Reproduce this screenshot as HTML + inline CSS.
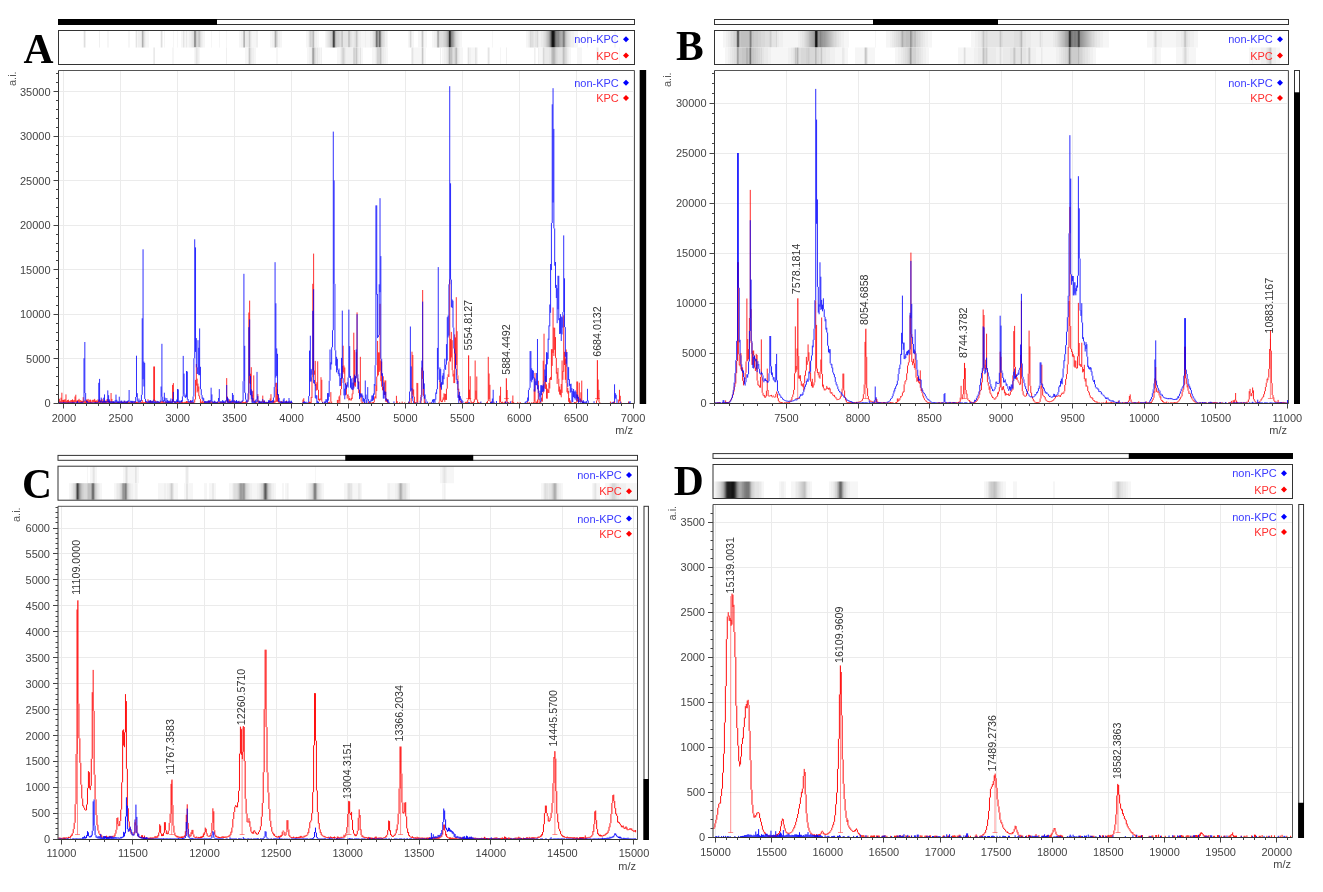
<!DOCTYPE html>
<html lang="en"><head><meta charset="utf-8"><title>MALDI-TOF spectra KPC vs non-KPC</title>
<style>
html,body{margin:0;padding:0;background:#fff;}
body{width:1323px;height:892px;overflow:hidden;}
svg{display:block;font-family:"Liberation Sans", Arial, sans-serif;font-size:11px;fill:#444;}
</style></head><body>
<svg width="1323" height="892" viewBox="0 0 1323 892">
<rect width="1323" height="892" fill="#fff"/>
<g><rect x="58.5" y="19.5" width="576" height="5" fill="#fff" stroke="#333" stroke-width="1"/>
<rect x="58" y="19" width="159" height="6" fill="#000"/>
<rect x="640.3" y="70.5" width="5.3" height="333" fill="#fff" stroke="#333" stroke-width="1"/>
<rect x="639.8" y="70" width="6.3" height="334" fill="#000"/>
<path d="M63.5 70.5V403.5M120.5 70.5V403.5M177.5 70.5V403.5M234.5 70.5V403.5M291.5 70.5V403.5M348.5 70.5V403.5M405.5 70.5V403.5M462.5 70.5V403.5M519.5 70.5V403.5M576.5 70.5V403.5M633.5 70.5V403.5M58.5 358.5H634.5M58.5 314.5H634.5M58.5 269.5H634.5M58.5 225.5H634.5M58.5 180.5H634.5M58.5 136.5H634.5M58.5 91.5H634.5" stroke="#ebebeb" stroke-width="1" fill="none"/>
<path d="M59.41 398.8V402.8M60.23 401V403M61.05 397.7V403.2M61.87 392.7V403.1M62.69 399.9V403.2M63.51 399.9V403.2M64.33 399.6V403.1M65.15 399.3V403M65.97 394.4V403.1M66.79 400.8V403.2M67.61 400V403.2M68.43 399.7V403.2M69.25 401.2V403.2M70.07 400.7V403.1M70.89 400.2V403.1M71.71 400V403.1M72.53 399.3V403.2M73.35 400.4V403.2M74.17 400V403.1M74.99 396.5V402.7M75.81 394.7V402.1M76.63 400.6V403.1M77.45 400.3V403.2M78.27 399.8V402.6M79.09 398.8V403.2M79.91 400.3V402.9M80.73 400.2V403.1M81.55 400.9V403.2M82.37 400.9V403M83.19 397.2V402.7M84.01 400.6V403M84.83 400.7V403.2M85.65 400.6V403M86.47 399.6V403.1M87.29 399.6V402.9M88.11 398.9V403.1M88.93 400.6V402.9M89.75 399.7V403M90.57 399.7V403.1M91.39 401.6V403.2M92.21 400V402.6M93.03 399.7V403M93.85 399.9V402.3M94.67 398.9V402.8M95.49 400.7V403.1M96.31 400.3V403M97.13 400.9V403M97.95 399.4V403M98.77 400V403.2M99.59 399.3V403.2M100.41 400.4V403.2M101.23 400.2V403.1M102.05 398.8V403.2M102.87 400.6V403.1M103.69 400.6V403.1M104.51 401.1V403.1M105.33 400.6V403.2M106.15 400.7V402.9M106.97 399.3V403M107.79 399V402.9M108.61 400.7V403.2M109.43 401V402.9M110.25 401.7V402.8M111.07 393V402.8M111.89 398.9V402.9M112.71 401.7V402.9M113.53 401.5V403.1M114.35 402.2V403.1M115.17 402.3V403.1M115.99 401.9V403.2M116.81 402.1V403.2M117.63 401.8V403.2M118.45 402V403.2M119.27 401.7V403.2M120.09 402.3V403.1M120.91 401.4V403.2M121.73 401.4V403.1M122.55 402.3V403.2M123.37 402.1V403.1M124.19 401.3V403.2M125.01 401.3V403.1M125.83 401.8V403M126.65 401.5V403.1M127.47 402V403.2M128.29 401.7V403M129.11 402.1V403.2M129.93 402.1V403.2M130.75 402.5V403.2M131.57 402V403.1M132.39 402V403.2M133.21 402.5V403.2M134.03 401.4V402.9M134.85 401.5V403M135.67 401.5V403M136.49 402V403.2M137.31 401.8V403.2M138.13 402.1V403.1M138.95 402.3V403.1M139.77 402.5V403.2M140.59 402.2V403.2M141.41 402.1V403.2M142.23 400V403.2M143.05 401.8V403.2M143.87 402.2V403.2M144.69 402.1V403.2M145.51 401.2V403.2M146.33 402.1V403.2M147.15 402.4V403.2M147.97 399.3V403.2M148.79 401.5V403.1M149.61 401.6V403.2M150.43 400.6V403.1M151.25 401.8V403.1M152.07 401.2V402.9M152.89 400.7V402.9M153.71 366.5V400.7M154.53 366.5V401.4M155.35 400.4V402.6M156.17 401.9V403M156.99 401.1V403M157.81 402.2V403.1M158.63 402.2V403.1M159.45 402V403.2M160.27 401.6V403.1M161.09 401.6V402.9M161.91 401V403.1M162.73 401V403.2M163.55 402.2V403.2M164.37 402.2V403.2M165.19 401.5V403.1M166.01 401.8V403.1M166.83 401.8V403.2M167.65 401.9V403M168.47 402V403.1M169.29 402.1V403.1M170.11 400.3V403M170.93 402.2V403.1M171.75 401.5V402.8M172.57 384.9V402.3M173.39 383.1V402.2M174.21 401.3V402.7M175.03 401.8V402.8M175.85 401.8V402.9M176.67 402.3V403.1M177.49 401.4V403.2M178.31 402.2V403.1M179.13 402.3V403.1M179.95 402V403M180.77 402.5V403.2M181.59 401.1V403.1M182.41 401.9V403.1M183.23 402.3V403.2M184.05 402V402.8M184.87 401.8V403M185.69 401.8V403.2M186.51 401.1V403.2M187.33 401.3V403.1M188.15 401.6V403.2M188.97 402.3V403.2M189.79 402V403M190.61 400V403M191.43 402.1V403.2M192.25 401.9V403.1M193.07 402.1V403.2M193.89 402.1V403.1M194.71 399.3V402.5M195.53 379.9V399.5M196.35 364V385.6M197.17 378.7V392.5M197.99 383.6V391.3M198.81 386.5V396.2M199.63 395.6V398.9M200.45 398.9V403.2M201.27 402V403.2M202.09 400.6V403.2M202.91 400.6V403M203.73 402.1V403.2M204.55 401.3V403.2M205.37 402.4V403.2M206.19 402.3V403.2M207.01 401.9V403M207.83 401.3V402.9M208.65 400.5V403.1M209.47 401.4V403.2M210.29 401.6V403.1M211.11 401.4V402.9M211.93 401.6V402.9M212.75 402V403.2M213.57 402.4V403.2M214.39 401.5V403.2M215.21 402.3V403.1M216.03 402.1V403.2M216.85 402.1V403.1M217.67 401.4V403M218.49 402.4V403.2M219.31 402.1V403.1M220.13 401.6V403.1M220.95 402.1V403.1M221.77 402.1V403.2M222.59 402.2V403.2M223.41 402.1V403.2M224.23 402.1V403.1M225.05 402.1V403.1M225.87 401.3V402.7M226.69 378.1V401.3M227.51 396.6V402.7M228.33 401.5V402.9M229.15 399.5V402.9M229.97 399.5V403.2M230.79 401.2V403.1M231.61 402.3V403.2M232.43 401.5V403M233.25 401.6V403M234.07 400.1V403M234.89 402.5V403.2M235.71 402.1V403.2M236.53 401.6V403.2M237.35 402.3V403.1M238.17 401.9V403.2M238.99 401.1V403.1M239.81 402V403M240.63 402V403.2M241.45 402.3V403.2M242.27 401.1V403.1M243.09 401.6V403.1M243.91 402V403.1M244.73 402V403M245.55 401.6V403M246.37 401.5V402.8M247.19 401.6V402.8M248.01 399.7V401.6M248.83 312.5V399.7M249.65 300.6V383.4M250.47 373.7V384M251.29 367.2V396.3M252.11 395V402.2M252.93 390.7V400.7M253.75 375.4V401.4M254.57 400.7V402.4M255.39 401.9V402.9M256.21 402V402.9M257.03 401.7V402.8M257.85 394.1V401.7M258.67 400.4V402.7M259.49 401.6V403M260.31 401.8V403M261.13 401.6V402.9M261.95 401.9V403M262.77 395.6V402.1M263.59 400.5V402.8M264.41 400.9V403.1M265.23 402.4V403.2M266.05 401.8V403M266.87 402.2V403.2M267.69 402V402.9M268.51 402V403.1M269.33 401.2V403M270.15 398.4V402.7M270.97 394.2V401.9M271.79 401V402.8M272.61 402.3V403.1M273.43 401.1V403M274.25 400.5V402.9M275.07 401.3V402.7M275.89 382.8V402.1M276.71 382.8V401.7M277.53 389.2V401.6M278.35 394.7V402.7M279.17 401.3V402.7M279.99 401.7V403M280.81 402.3V403.1M281.63 401V403.1M282.45 401.7V403.2M283.27 401.8V403.2M284.09 402.4V403.2M284.91 402.1V403.2M285.73 401.2V403.1M286.55 400.5V403.1M287.37 402.4V403.2M288.19 402V403.2M289.01 401.5V403M289.83 402.1V403M290.65 402.1V403.2M291.47 402.1V403.1M292.29 402.6V403.2M302.95 399.6V403.2M303.77 398.2V403.2M308.69 401.9V403.2M309.51 401.7V403.2M310.33 401.9V403.2M311.15 396.9V403.2M311.97 377.4V398M312.79 283.8V377.4M313.61 253.6V370.5M314.43 370.5V374.7M315.25 360.9V385.8M316.07 384.1V390.7M316.89 382.2V390.2M317.71 361.3V389.8M318.53 389.8V400.1M319.35 398.8V401.3M320.17 398.6V400.3M320.99 377.2V399.7M321.81 379.8V401.6M322.63 401.6V403.2M325.09 402.1V403.2M328.37 402.2V403.2M329.19 402.1V403.2M330.01 401.6V403.2M330.83 392.1V401.6M331.65 401.5V403.2M337.39 399.9V403.2M338.21 400.2V403.2M339.03 396.5V401.1M339.85 395.4V403.2M340.67 389.1V395.4M341.49 377.8V389.1M342.31 366V378.6M343.13 345.7V372M343.95 365.5V373.7M344.77 367.5V382.7M345.59 382.7V385.1M346.41 384.6V394.7M347.23 394.7V398.6M348.05 394.4V396M348.87 396V400.4M349.69 398V400.2M350.51 399.5V400.3M351.33 397.8V400.5M352.15 393.6V399M352.97 387.4V394.2M353.79 332.7V387.4M354.61 350V385.6M355.43 376.2V386.7M356.25 352.2V376.2M357.07 312.4V378.2M357.89 378.2V382.4M358.71 381.5V393.1M359.53 392.8V395.8M360.35 356.8V394.6M361.17 394.6V401.6M361.99 401.5V403.2M362.81 402.2V403.2M364.45 401.9V403.2M368.55 401.5V403.2M370.19 402.1V403.2M371.01 402.2V403.2M372.65 402.1V403.2M373.47 402V403.2M374.29 397.4V402.3M375.11 396.1V398.1M375.93 385.3V398.6M376.75 376.6V391.1M377.57 340.9V376.6M378.39 352.4V375.3M379.21 352.4V372M380.03 303.8V370.6M380.85 360.6V381.2M381.67 361.6V386.8M382.49 386.8V390.2M383.31 376.3V390.8M384.13 390.8V394.9M384.95 380.4V394.9M385.77 380.5V401.8M386.59 399.6V401.8M387.41 399.1V403.2M396.43 395.8V403.2M397.25 401.2V403.2M399.71 402.1V403.2M402.17 401.6V403.2M404.63 402.3V403.2M408.73 401.7V403.2M409.55 401.7V403.2M411.19 398V403.2M412.01 351.7V398M412.83 355V394.6M413.65 389.4V396.7M414.47 396.7V403.2M415.29 402V403.2M416.11 401.9V403.2M416.93 382.9V401.9M417.75 383.1V403.2M421.03 394.9V403.2M421.85 367.5V394.9M422.67 290V378.9M423.49 378.9V395.9M424.31 395.9V403.2M425.13 401.7V403.2M430.05 402.1V403.2M439.07 401.8V403.2M439.89 380.5V401.8M440.71 383.6V400.8M441.53 400.8V402.1M442.35 399.6V402.1M443.17 397.4V400.2M443.99 393.3V399.6M444.81 393.9V401.9M445.63 393.9V399.9M446.45 388.7V399.9M447.27 377.1V388.7M448.09 374.3V377.1M448.91 361.5V377M449.73 279.5V361.5M450.55 338.9V361.5M451.37 331.9V357.5M452.19 340.2V370.2M453.01 370.2V376.5M453.83 373.8V383.1M454.65 334.4V383.1M455.47 337.4V367.8M456.29 297.2V365M457.11 331.2V375.4M457.93 375.4V390M458.75 388.7V397.9M459.57 396.1V400.9M460.39 400.9V402.3M461.21 401.2V403.2M462.03 402.2V403.2M465.31 401.9V403.2M466.13 401.8V403.2M466.95 401.7V403.2M467.77 399.7V403.2M468.59 355.4V399.7M469.41 389.6V398.9M470.23 376.2V400.7M471.05 400.7V403.2M471.87 402.2V403.2M472.69 402.3V403.2M473.51 401.7V403.2M474.33 399.2V402.3M475.15 360.5V399.2M475.97 390.6V400M476.79 376.5V399.5M477.61 399.5V403.2M478.43 402.1V403.2M480.07 402.2V403.2M486.63 402.1V403.2M487.45 401V403.2M488.27 356.8V401M489.09 373.5V399M489.91 384.8V401.4M490.73 401.4V403.2M493.19 401.5V403.2M499.75 395.7V403.2M500.57 386.8V402M501.39 402V403.2M502.21 401.6V403.2M503.03 402.2V403.2M504.67 401.7V403.2M505.49 401.5V403.2M506.31 378.2V401.5M507.13 390V403.2M507.95 402V403.2M508.77 402.1V403.2M512.05 400.8V403.2M512.87 395.5V403.2M513.69 402V403.2M517.79 401.9V403.2M520.25 402V403.2M527.63 401.3V403.2M529.27 402.1V403.2M531.73 402.2V403.2M533.37 402.1V403.2M534.19 389.4V403.2M535.01 372.9V401.2M535.83 401.2V403.2M536.65 401.7V403.2M537.47 399.5V403.2M538.29 380.8V399.5M539.11 399.1V403.2M539.93 402.2V403.2M540.75 401.2V403.2M541.57 397.6V401.2M542.39 393.4V401.7M543.21 360.7V393.4M544.03 333.7V381.7M544.85 381.7V388.5M545.67 375.9V389M546.49 384.3V398.5M547.31 388.6V398.7M548.13 389.5V393M548.95 382.8V393M549.77 378.1V388.5M550.59 376.9V379.9M551.41 349.2V379.9M552.23 349.2V365.9M553.05 307.5V352.9M553.87 327.5V356M554.69 327.8V349.8M555.51 337.1V357.9M556.33 357.9V373.7M557.15 372.2V383.9M557.97 367.9V378.7M558.79 378.7V391.7M559.61 386.5V394.5M560.43 389.5V395.2M561.25 384V397.3M562.07 360.5V392.9M562.89 370.8V379.8M563.71 315.3V371.8M564.53 351.8V365M565.35 358.5V379.8M566.17 349.5V383.1M566.99 383.1V392.2M567.81 388V393.6M568.63 390.9V401.8M569.45 398.1V403.2M570.27 400.4V403.2M571.09 402V403.2M574.37 402V403.2M575.19 402.2V403.2M576.01 402V403.2M576.83 381.5V402.2M577.65 381.5V401.7M578.47 399.9V402M579.29 382.7V399.9M580.11 399V402.2M580.93 392.3V402M581.75 380.6V401.6M582.57 401.6V403.2M583.39 401.8V403.2M596.51 400.5V403.2M597.33 360.1V400.5M598.15 379.5V399.1M598.97 389.9V402.2M599.79 402V403.2M610.45 401.6V403.2M612.91 401.9V403.2M613.73 401.5V403.2M614.55 401.5V403.2M618.65 399.6V403.2M619.47 389.8V401.2M620.29 395.8V401.7M621.11 401.7V403.2M628.49 401.5V403.2" stroke="#ff0000" stroke-width="0.82" stroke-opacity="1" fill="none"/>
<path d="M59.41 402.2V403.2M60.23 402.5V403.2M61.05 402.4V403.2M61.87 402.5V403.2M62.69 402.6V403.2M63.51 402.2V403M64.33 402.5V403.2M65.15 402.3V403.2M65.97 402.6V403.2M66.79 402.6V403.2M67.61 402.6V403.2M68.43 402.5V403.2M69.25 402.6V403.2M70.07 402.4V403.2M70.89 402.4V403.2M71.71 402.4V403.2M72.53 402.4V403.2M73.35 402.3V403.1M74.17 402.3V403.2M74.99 402.5V403.2M75.81 402.5V403.2M76.63 402.4V403.2M77.45 401V403.2M78.27 402.4V403.2M79.09 402.6V403.2M79.91 402.3V403.1M80.73 402.3V403.2M81.55 402.3V403.1M82.37 402.2V403M83.19 401.3V402.6M84.01 358.3V401.3M84.83 342V393M85.65 393V400.8M86.47 400.8V402.3M87.29 401.1V403M88.11 402.3V403.1M88.93 402.5V403.2M89.75 402.4V403.2M90.57 402.4V403.2M91.39 402.6V403.2M92.21 402.5V403.2M93.03 402.5V403.2M93.85 402.5V403.2M94.67 402.3V403.2M95.49 402.3V403.1M96.31 402.4V403.2M97.13 402.3V403.1M97.95 402V402.8M98.77 382.8V402.4M99.59 378.9V401.6M100.41 400.9V402.7M101.23 397.6V402.1M102.05 401.4V403M102.87 401.2V402.9M103.69 397.7V402.8M104.51 394.4V402.4M105.33 401.2V402.9M106.15 401V402.6M106.97 401.6V402.7M107.79 390.4V402M108.61 395.2V402.6M109.43 399.4V403M110.25 401.3V403M111.07 401.3V402.9M111.89 401.3V403.1M112.71 401.3V403.1M113.53 401.4V403.1M114.35 401.4V403.1M115.17 400.1V402.9M115.99 394.6V402.4M116.81 399.8V402.8M117.63 401.3V403.1M118.45 401.3V403.2M119.27 396.7V403.2M120.09 401.6V403.2M120.91 400.7V403.1M121.73 400.6V403M122.55 401.7V403M123.37 401.6V403.2M124.19 400.5V402.7M125.01 400.8V403.2M125.83 401.9V403.1M126.65 401.3V403M127.47 400.9V402.9M128.29 400.3V402.2M129.11 390V401.2M129.93 400.8V402.6M130.75 400.8V402.7M131.57 400.9V402.7M132.39 400.9V403M133.21 400.9V402.7M134.03 401.7V402.9M134.85 401.1V402.9M135.67 397V402.2M136.49 355.7V397M137.31 393.2V400.8M138.13 400.5V402.3M138.95 398.5V402.6M139.77 400.6V402.4M140.59 400.2V402.3M141.41 394.8V400.9M142.23 318.3V394.8M143.05 249.3V379.3M143.87 361.6V386.5M144.69 362.9V398.9M145.51 398.9V401.9M146.33 400.9V402.6M147.15 401.6V402.8M147.97 401.6V402.9M148.79 400.6V402.7M149.61 400.6V402.9M150.43 400.2V402.8M151.25 400.8V402.8M152.07 400.8V403M152.89 401.2V403M153.71 399.7V403.2M154.53 401.5V403M155.35 401.4V403.1M156.17 401.8V402.8M156.99 400.8V402.9M157.81 401.1V402.9M158.63 401.3V402.9M159.45 401.9V402.8M160.27 400.5V402.4M161.09 386.5V401.6M161.91 343.8V396.7M162.73 396.7V401.5M163.55 400.3V402.3M164.37 392.7V401.1M165.19 397.7V402.7M166.01 401.3V402.6M166.83 398V403M167.65 400V403M168.47 400.9V402.8M169.29 400.9V403M170.11 401.3V403M170.93 398.5V403.1M171.75 401.3V402.9M172.57 399.2V402.9M173.39 391.9V401.6M174.21 401.1V402.9M175.03 401.2V402.9M175.85 401.2V403M176.67 399.5V402.3M177.49 389V402M178.31 389.4V402.2M179.13 400.9V402.8M179.95 400.5V402.7M180.77 401.1V402.6M181.59 400.1V402.2M182.41 396.4V401.6M183.23 355.9V396.4M184.05 373.6V393.8M184.87 393.6V397.2M185.69 395.3V398M186.51 371V396.9M187.33 371.5V399.6M188.15 399V402.1M188.97 401.2V402.7M189.79 401.1V402.4M190.61 400.6V402.6M191.43 400.8V402.6M192.25 400.1V402.2M193.07 396.5V403.2M193.89 358.3V396.5M194.71 239.3V358.3M195.53 247.4V351.9M196.35 338.1V367.4M197.17 367.4V374M197.99 340.2V373.9M198.81 347.8V375.2M199.63 328.4V375.2M200.45 366.8V389.2M201.27 389.2V395.2M202.09 395.1V398.8M202.91 397.4V400.4M203.73 398.2V401.3M204.55 401.2V402.9M205.37 401V403M206.19 401V403M207.01 401.4V403.1M207.83 400.8V402.9M208.65 400.5V402.9M209.47 400.5V402.7M210.29 400.1V402.7M211.11 387.7V401.2M211.93 394.4V402.5M212.75 401.2V402.8M213.57 401.8V403M214.39 400.7V402.8M215.21 401.4V403M216.03 401.7V403M216.85 402V403.1M217.67 401.6V403M218.49 398V401.7M219.31 389.1V401.7M220.13 401.1V402.7M220.95 401.7V403M221.77 401.1V402.7M222.59 400.1V402.8M223.41 400.8V403M224.23 401.5V402.9M225.05 400.8V402.7M225.87 400.1V402.8M226.69 385V400.7M227.51 397.3V402.7M228.33 398.5V402.9M229.15 401.6V403.1M229.97 401V403M230.79 401.2V402.9M231.61 400.5V402.7M232.43 393V402.3M233.25 394.9V402.5M234.07 400.3V402.9M234.89 400.9V402.8M235.71 400.9V403.1M236.53 400V403.1M237.35 401.3V403.1M238.17 401.1V403M238.99 400.7V402.9M239.81 402.1V402.9M240.63 401.5V402.8M241.45 401.4V402.6M242.27 400.3V401.9M243.09 381.2V401M243.91 273.8V381.2M244.73 345.8V392.8M245.55 392.7V399.6M246.37 399.6V402.5M247.19 400.7V402.5M248.01 393.4V401.6M248.83 327.2V393.4M249.65 319.4V375.9M250.47 375.9V395.1M251.29 389.4V399.3M252.11 391.3V403.2M252.93 398V403.2M253.75 400.9V403.2M254.57 401.5V402.9M255.39 400.2V402.8M256.21 399V402.2M257.03 371.9V399M257.85 396.1V402.2M258.67 401.8V402.9M259.49 400.8V403.1M260.31 401.5V403M261.13 400.9V403.1M261.95 401.8V403.1M262.77 399.1V402.9M263.59 401.7V403.1M264.41 400.4V403M265.23 402.1V403.1M266.05 401.8V403.1M266.87 402.2V403.1M267.69 401.9V402.9M268.51 400.3V403M269.33 400.1V402.8M270.15 401V403.1M270.97 400.8V402.9M271.79 401V402.7M272.61 400.1V402.6M273.43 397.5V402.3M274.25 386.9V397.5M275.07 262.2V386.9M275.89 303.3V377.6M276.71 348.4V375.9M277.53 353.8V395M278.35 394V401.7M279.17 397.8V402M279.99 401.6V402.9M280.81 400.9V403M281.63 401.9V403.1M282.45 401.7V403.1M283.27 399.5V403.1M284.09 398.1V403.1M284.91 401.1V402.9M285.73 401.6V403M286.55 401V402.9M287.37 401.6V403.1M288.19 401.1V403.1M289.01 398V403M289.83 400.6V402.8M290.65 401.4V403.2M291.47 400.7V403M292.29 402.6V403.2M302.95 402.2V403.2M303.77 401.6V403.2M304.59 401.3V403.2M305.41 402.1V403.2M306.23 401.7V403.2M307.87 402.1V403.2M308.69 396.1V402.1M309.51 350.6V396.1M310.33 335.7V381.5M311.15 368.9V381.6M311.97 370.3V374.7M312.79 310.8V370.3M313.61 289.2V383.2M314.43 380V383.9M315.25 383.9V397.9M316.07 395.1V398.9M316.89 395.4V403.2M317.71 401V403.2M318.53 401.8V403.2M322.63 402.2V403.2M324.27 401.8V403.2M325.09 400.9V403.2M325.91 399.2V403.2M326.73 399.4V402.1M327.55 393.1V403.2M328.37 393.1V400.6M329.19 380.8V396.8M330.01 349.5V380.8M330.83 362.3V369.7M331.65 347.3V364.4M332.47 330.2V347.3M333.29 131.6V330.2M334.11 180.4V283.9M334.93 283.9V350.3M335.75 350.3V365.7M336.57 356.8V372.4M337.39 358.8V370.1M338.21 370.1V374.1M339.03 368.5V376.2M339.85 373.2V386.1M340.67 378.1V385.9M341.49 357.9V378.8M342.31 310.6V378.2M343.13 378.2V383.1M343.95 383.1V395.4M344.77 388.7V399.3M345.59 383.5V395.3M346.41 385.3V389.2M347.23 382.2V386.6M348.05 377.5V387.6M348.87 309.6V377.5M349.69 346.1V377.9M350.51 375.9V387.7M351.33 378.5V389.2M352.15 382.6V389.8M352.97 377.7V390.1M353.79 382.5V388.6M354.61 374.6V382.5M355.43 376.2V382.4M356.25 349.4V378.4M357.07 314.2V374.3M357.89 374.3V389M358.71 381.6V389.6M359.53 389.6V399.1M360.35 393.4V397.6M361.17 393.5V396.7M361.99 393.5V397.6M362.81 395.4V401.7M363.63 398V401.7M364.45 399V403.2M365.27 380.5V399M366.09 394.6V403.2M366.91 399.8V403.2M367.73 387.1V399.8M368.55 399.2V401.2M369.37 401.1V403.2M370.19 401V402.3M371.01 399.5V401.5M371.83 395.5V401.2M372.65 395.4V400.9M373.47 393.5V399.8M374.29 384V394.7M375.11 365.2V385.7M375.93 205.4V365.2M376.75 205.4V294.6M377.57 294V338.1M378.39 335.1V337.1M379.21 284.3V335.1M380.03 198.2V292.2M380.85 256.1V358.8M381.67 358.8V375.8M382.49 373.2V386.6M383.31 386.6V398.6M384.13 382.4V398.6M384.95 391.5V394.9M385.77 391.8V400.6M386.59 398.3V400.6M387.41 400V401.9M388.23 399.4V403.2M389.05 401.8V403.2M393.97 401.4V403.2M408.73 401.6V403.2M409.55 391.5V401.7M410.37 326.5V391.5M411.19 366.4V390.5M412.01 388.3V398.5M412.83 396.3V401.1M413.65 401.1V403.2M416.93 402.2V403.2M420.21 400.7V403.2M421.03 397V400.7M421.85 360.6V397M422.67 301.6V370.7M423.49 370.7V389M424.31 383.4V398.6M425.13 394.5V399.3M425.95 399.3V403.2M427.59 401.6V403.2M431.69 401.8V403.2M432.51 399.7V401.8M433.33 399.1V403.2M434.15 399.1V401.7M434.97 398.9V403.2M435.79 392.5V399.6M436.61 389.2V393.9M437.43 347.9V389.2M438.25 267.1V369.4M439.07 369.4V379.9M439.89 367.4V381.9M440.71 369.1V387.4M441.53 382.2V389.7M442.35 375.6V384.7M443.17 373.1V384.5M443.99 369.2V379.2M444.81 358.7V369.2M445.63 364.7V369.9M446.45 344.1V364.7M447.27 317.2V360.5M448.09 315.5V337.5M448.91 284.3V335.6M449.73 86.2V284.3M450.55 183.3V279.6M451.37 279.6V307.1M452.19 299.5V308M453.01 300.7V327.6M453.83 327.6V348.5M454.65 348.5V353.5M455.47 353.5V368.9M456.29 368.9V379.7M457.11 379V384.1M457.93 381V397.8M458.75 394.9V403.2M459.57 391.8V400.2M460.39 396.2V400.4M461.21 398.6V403.2M462.03 400V401.4M462.85 401V403.2M468.59 402.2V403.2M469.41 402.2V403.2M480.89 401.5V403.2M490.73 402V403.2M491.55 401.5V403.2M492.37 398.5V403.2M493.19 389.8V401.8M494.01 401.8V403.2M496.47 401V403.2M505.49 401.5V403.2M507.13 401.7V403.2M510.41 401.3V403.2M525.17 401.9V403.2M525.99 401.3V403.2M526.81 400.8V401.8M527.63 397.5V401.7M528.45 389.9V400.8M529.27 387.8V389.9M530.09 351.1V387.8M530.91 351.1V380.9M531.73 368.3V382.3M532.55 370.1V379.8M533.37 370.7V378.4M534.19 377.5V391.5M535.01 378.7V391.5M535.83 381.3V385.1M536.65 373V385.3M537.47 339V389.3M538.29 385.2V393M539.11 393V399.7M539.93 390.7V396.7M540.75 385.2V402.2M541.57 385.2V395.1M542.39 385.7V392M543.21 384.5V391.4M544.03 381.3V391.6M544.85 369.5V381.3M545.67 364.3V382M546.49 352.2V382M547.31 352.6V364.4M548.13 338.6V359M548.95 325.4V339.9M549.77 304.5V326.4M550.59 264V312.8M551.41 223V270.1M552.23 104.3V223M553.05 88.2V202.5M553.87 128.9V228.4M554.69 228.4V265.7M555.51 262V287.9M556.33 284.9V298M557.15 288.2V323.2M557.97 275.8V309.3M558.79 275.8V320.2M559.61 318.1V334M560.43 314.1V333.7M561.25 316.5V341M562.07 317.3V334.4M562.89 312V327.6M563.71 235.4V312M564.53 278.3V327.1M565.35 327.1V356.8M566.17 352.2V363.8M566.99 352V366.7M567.81 366.7V386.8M568.63 367.2V380M569.45 379.3V385.8M570.27 384V392.7M571.09 383.7V392.1M571.91 388.1V402.2M572.73 391.1V402.2M573.55 389V397.1M574.37 391.5V398.2M575.19 390.4V399.7M576.01 391.8V398.2M576.83 394.3V401.1M577.65 394.8V398.7M578.47 396.8V403.2M579.29 400.5V402.1M580.11 398.3V401M580.93 400.7V403.2M581.75 400.3V401.6M582.57 401.2V403.2M583.39 400.2V403.2M584.21 401.6V403.2M585.03 401.7V403.2M585.85 401.6V403.2M586.67 401V403.2M587.49 388.8V401.1M588.31 400.6V403.2M594.05 401.2V403.2M612.09 402V403.2M613.73 402.1V403.2M614.55 384.3V402.1M615.37 393.2V398.5M616.19 394.8V399.4M617.01 399.4V403.2M620.29 401.6V403.2M629.31 401.7V403.2M630.13 401.2V403.2" stroke="#0000ff" stroke-width="0.82" stroke-opacity="1" fill="none"/>
<path d="M468.7 355.5V398.5M466.2 398.5H471.2" stroke="#ff0000" stroke-opacity="0.55" stroke-width="0.8" fill="none"/>
<text transform="translate(472 350.5) rotate(-90)" font-size="10.7" fill="#333">5554.8127</text>
<path d="M506.5 378.8V398.5M504 398.5H509" stroke="#ff0000" stroke-opacity="0.55" stroke-width="0.8" fill="none"/>
<text transform="translate(509.5 374.8) rotate(-90)" font-size="10.7" fill="#333">5884.4492</text>
<path d="M597.5 360.5V398.5M595 398.5H600" stroke="#ff0000" stroke-opacity="0.55" stroke-width="0.8" fill="none"/>
<text transform="translate(600.5 356.8) rotate(-90)" font-size="10.7" fill="#333">6684.0132</text>
<path d="M58.5 70.5H634.5V403.5" fill="none" stroke="#555" stroke-width="1"/>
<path d="M58.5 70.5V403.5H634.5" fill="none" stroke="#333" stroke-width="1"/>
<path d="M63.5 403.5v5M75.5 403.5v2.5M86.5 403.5v2.5M98.5 403.5v2.5M109.5 403.5v2.5M120.5 403.5v5M132.5 403.5v2.5M143.5 403.5v2.5M154.5 403.5v2.5M166.5 403.5v2.5M177.5 403.5v5M189.5 403.5v2.5M200.5 403.5v2.5M211.5 403.5v2.5M223.5 403.5v2.5M234.5 403.5v5M246.5 403.5v2.5M257.5 403.5v2.5M268.5 403.5v2.5M280.5 403.5v2.5M291.5 403.5v5M302.5 403.5v2.5M314.5 403.5v2.5M325.5 403.5v2.5M337.5 403.5v2.5M348.5 403.5v5M359.5 403.5v2.5M371.5 403.5v2.5M382.5 403.5v2.5M394.5 403.5v2.5M405.5 403.5v5M416.5 403.5v2.5M428.5 403.5v2.5M439.5 403.5v2.5M450.5 403.5v2.5M462.5 403.5v5M473.5 403.5v2.5M485.5 403.5v2.5M496.5 403.5v2.5M507.5 403.5v2.5M519.5 403.5v5M530.5 403.5v2.5M542.5 403.5v2.5M553.5 403.5v2.5M564.5 403.5v2.5M576.5 403.5v5M587.5 403.5v2.5M598.5 403.5v2.5M610.5 403.5v2.5M621.5 403.5v2.5M633.5 403.5v5M58.5 403.5h-5M58.5 394.5h-2.5M58.5 385.5h-2.5M58.5 376.5h-2.5M58.5 367.5h-2.5M58.5 358.5h-5M58.5 349.5h-2.5M58.5 340.5h-2.5M58.5 332.5h-2.5M58.5 323.5h-2.5M58.5 314.5h-5M58.5 305.5h-2.5M58.5 296.5h-2.5M58.5 287.5h-2.5M58.5 278.5h-2.5M58.5 269.5h-5M58.5 260.5h-2.5M58.5 251.5h-2.5M58.5 243.5h-2.5M58.5 234.5h-2.5M58.5 225.5h-5M58.5 216.5h-2.5M58.5 207.5h-2.5M58.5 198.5h-2.5M58.5 189.5h-2.5M58.5 180.5h-5M58.5 171.5h-2.5M58.5 162.5h-2.5M58.5 154.5h-2.5M58.5 145.5h-2.5M58.5 136.5h-5M58.5 127.5h-2.5M58.5 118.5h-2.5M58.5 109.5h-2.5M58.5 100.5h-2.5M58.5 91.5h-5M58.5 82.5h-2.5M58.5 73.5h-2.5" stroke="#444" stroke-width="1" fill="none"/>
<text x="63.9" y="421.6" text-anchor="middle">2000</text>
<text x="120.8" y="421.6" text-anchor="middle">2500</text>
<text x="177.7" y="421.6" text-anchor="middle">3000</text>
<text x="234.6" y="421.6" text-anchor="middle">3500</text>
<text x="291.6" y="421.6" text-anchor="middle">4000</text>
<text x="348.5" y="421.6" text-anchor="middle">4500</text>
<text x="405.4" y="421.6" text-anchor="middle">5000</text>
<text x="462.3" y="421.6" text-anchor="middle">5500</text>
<text x="519.3" y="421.6" text-anchor="middle">6000</text>
<text x="576.2" y="421.6" text-anchor="middle">6500</text>
<text x="633.1" y="421.6" text-anchor="middle">7000</text>
<text x="50.5" y="407.2" text-anchor="end">0</text>
<text x="50.5" y="362.8" text-anchor="end">5000</text>
<text x="50.5" y="318.2" text-anchor="end">10000</text>
<text x="50.5" y="273.8" text-anchor="end">15000</text>
<text x="50.5" y="229.2" text-anchor="end">20000</text>
<text x="50.5" y="184.8" text-anchor="end">25000</text>
<text x="50.5" y="140.2" text-anchor="end">30000</text>
<text x="50.5" y="95.8" text-anchor="end">35000</text>
<text x="633" y="434.2" text-anchor="end">m/z</text>
<text transform="translate(15.5 86) rotate(-90)" fill="#5a5a5a">a.i.</text>
<text x="618.8" y="86.7" text-anchor="end" fill="#3a3aff">non-KPC</text>
<text x="618.8" y="101.9" text-anchor="end" fill="#ff3030">KPC</text>
<path d="M623 82.7L626 79.7L629 82.7L626 85.7Z" fill="#0000ff"/>
<path d="M623 97.9L626 94.9L629 97.9L626 100.9Z" fill="#ff0000"/>
<rect x="58.5" y="30.5" width="576" height="34" fill="#fff"/>
<rect x="83" y="31" width="1" height="16.5" fill="#f6f6f6"/>
<rect x="84" y="31" width="1" height="16.5" fill="#dedede"/>
<rect x="85" y="31" width="1" height="16.5" fill="#f0f0f0"/>
<rect x="99" y="31" width="1" height="16.5" fill="#f0f0f0"/>
<rect x="107" y="31" width="2" height="16.5" fill="#f6f6f6"/>
<rect x="128" y="31" width="2" height="16.5" fill="#f6f6f6"/>
<rect x="135" y="31" width="1" height="16.5" fill="#f6f6f6"/>
<rect x="136" y="31" width="1" height="16.5" fill="#e4e4e4"/>
<rect x="137" y="31" width="1" height="16.5" fill="#f6f6f6"/>
<rect x="138" y="31" width="3" height="16.5" fill="#f0f0f0"/>
<rect x="141" y="31" width="1" height="16.5" fill="#e4e4e4"/>
<rect x="142" y="31" width="1" height="16.5" fill="#aeaeae"/>
<rect x="143" y="31" width="1" height="16.5" fill="#cccccc"/>
<rect x="144" y="31" width="1" height="16.5" fill="#e4e4e4"/>
<rect x="145" y="31" width="1" height="16.5" fill="#f0f0f0"/>
<rect x="146" y="31" width="3" height="16.5" fill="#f6f6f6"/>
<rect x="160" y="31" width="1" height="16.5" fill="#f6f6f6"/>
<rect x="161" y="31" width="1" height="16.5" fill="#dedede"/>
<rect x="162" y="31" width="1" height="16.5" fill="#f0f0f0"/>
<rect x="164" y="31" width="1" height="16.5" fill="#f6f6f6"/>
<rect x="173" y="31" width="1" height="16.5" fill="#f6f6f6"/>
<rect x="177" y="31" width="1" height="16.5" fill="#f6f6f6"/>
<rect x="181" y="31" width="2" height="16.5" fill="#f6f6f6"/>
<rect x="183" y="31" width="1" height="16.5" fill="#e4e4e4"/>
<rect x="184" y="31" width="1" height="16.5" fill="#f0f0f0"/>
<rect x="185" y="31" width="1" height="16.5" fill="#f6f6f6"/>
<rect x="186" y="31" width="1" height="16.5" fill="#eaeaea"/>
<rect x="187" y="31" width="2" height="16.5" fill="#f6f6f6"/>
<rect x="189" y="31" width="2" height="16.5" fill="#f0f0f0"/>
<rect x="191" y="31" width="1" height="16.5" fill="#eaeaea"/>
<rect x="192" y="31" width="1" height="16.5" fill="#e4e4e4"/>
<rect x="193" y="31" width="1" height="16.5" fill="#dedede"/>
<rect x="194" y="31" width="2" height="16.5" fill="#969696"/>
<rect x="196" y="31" width="1" height="16.5" fill="#cccccc"/>
<rect x="197" y="31" width="1" height="16.5" fill="#d8d8d8"/>
<rect x="198" y="31" width="1" height="16.5" fill="#cccccc"/>
<rect x="199" y="31" width="1" height="16.5" fill="#c6c6c6"/>
<rect x="200" y="31" width="1" height="16.5" fill="#dedede"/>
<rect x="201" y="31" width="1" height="16.5" fill="#eaeaea"/>
<rect x="202" y="31" width="1" height="16.5" fill="#f0f0f0"/>
<rect x="203" y="31" width="2" height="16.5" fill="#f6f6f6"/>
<rect x="211" y="31" width="1" height="16.5" fill="#f6f6f6"/>
<rect x="219" y="31" width="1" height="16.5" fill="#f6f6f6"/>
<rect x="226" y="31" width="1" height="16.5" fill="#f6f6f6"/>
<rect x="239" y="31" width="2" height="16.5" fill="#f6f6f6"/>
<rect x="241" y="31" width="2" height="16.5" fill="#f0f0f0"/>
<rect x="243" y="31" width="1" height="16.5" fill="#c6c6c6"/>
<rect x="244" y="31" width="1" height="16.5" fill="#b4b4b4"/>
<rect x="245" y="31" width="3" height="16.5" fill="#eaeaea"/>
<rect x="248" y="31" width="1" height="16.5" fill="#e4e4e4"/>
<rect x="249" y="31" width="1" height="16.5" fill="#cccccc"/>
<rect x="250" y="31" width="1" height="16.5" fill="#e4e4e4"/>
<rect x="251" y="31" width="1" height="16.5" fill="#f0f0f0"/>
<rect x="252" y="31" width="4" height="16.5" fill="#f6f6f6"/>
<rect x="256" y="31" width="2" height="16.5" fill="#f0f0f0"/>
<rect x="270" y="31" width="2" height="16.5" fill="#f6f6f6"/>
<rect x="272" y="31" width="2" height="16.5" fill="#f0f0f0"/>
<rect x="274" y="31" width="1" height="16.5" fill="#d8d8d8"/>
<rect x="275" y="31" width="1" height="16.5" fill="#aeaeae"/>
<rect x="276" y="31" width="1" height="16.5" fill="#cccccc"/>
<rect x="277" y="31" width="1" height="16.5" fill="#dedede"/>
<rect x="278" y="31" width="2" height="16.5" fill="#f0f0f0"/>
<rect x="280" y="31" width="2" height="16.5" fill="#f6f6f6"/>
<rect x="306" y="31" width="2" height="16.5" fill="#f6f6f6"/>
<rect x="308" y="31" width="1" height="16.5" fill="#f0f0f0"/>
<rect x="309" y="31" width="1" height="16.5" fill="#dedede"/>
<rect x="310" y="31" width="1" height="16.5" fill="#d2d2d2"/>
<rect x="311" y="31" width="1" height="16.5" fill="#d8d8d8"/>
<rect x="312" y="31" width="1" height="16.5" fill="#cccccc"/>
<rect x="313" y="31" width="1" height="16.5" fill="#bababa"/>
<rect x="314" y="31" width="1" height="16.5" fill="#e4e4e4"/>
<rect x="315" y="31" width="2" height="16.5" fill="#f0f0f0"/>
<rect x="317" y="31" width="2" height="16.5" fill="#f6f6f6"/>
<rect x="325" y="31" width="1" height="16.5" fill="#f6f6f6"/>
<rect x="326" y="31" width="1" height="16.5" fill="#f0f0f0"/>
<rect x="327" y="31" width="1" height="16.5" fill="#eaeaea"/>
<rect x="328" y="31" width="1" height="16.5" fill="#e4e4e4"/>
<rect x="329" y="31" width="1" height="16.5" fill="#dedede"/>
<rect x="330" y="31" width="1" height="16.5" fill="#d2d2d2"/>
<rect x="331" y="31" width="1" height="16.5" fill="#cccccc"/>
<rect x="332" y="31" width="1" height="16.5" fill="#a2a2a2"/>
<rect x="333" y="31" width="1" height="16.5" fill="#424242"/>
<rect x="334" y="31" width="1" height="16.5" fill="#606060"/>
<rect x="335" y="31" width="1" height="16.5" fill="#b4b4b4"/>
<rect x="336" y="31" width="1" height="16.5" fill="#cccccc"/>
<rect x="337" y="31" width="2" height="16.5" fill="#d2d2d2"/>
<rect x="339" y="31" width="1" height="16.5" fill="#d8d8d8"/>
<rect x="340" y="31" width="1" height="16.5" fill="#dedede"/>
<rect x="341" y="31" width="1" height="16.5" fill="#cccccc"/>
<rect x="342" y="31" width="1" height="16.5" fill="#c6c6c6"/>
<rect x="343" y="31" width="5" height="16.5" fill="#e4e4e4"/>
<rect x="348" y="31" width="2" height="16.5" fill="#c6c6c6"/>
<rect x="350" y="31" width="1" height="16.5" fill="#dedede"/>
<rect x="351" y="31" width="1" height="16.5" fill="#e4e4e4"/>
<rect x="352" y="31" width="2" height="16.5" fill="#eaeaea"/>
<rect x="354" y="31" width="1" height="16.5" fill="#e4e4e4"/>
<rect x="355" y="31" width="1" height="16.5" fill="#dedede"/>
<rect x="356" y="31" width="1" height="16.5" fill="#c6c6c6"/>
<rect x="357" y="31" width="1" height="16.5" fill="#d8d8d8"/>
<rect x="358" y="31" width="1" height="16.5" fill="#eaeaea"/>
<rect x="359" y="31" width="2" height="16.5" fill="#f0f0f0"/>
<rect x="361" y="31" width="4" height="16.5" fill="#f6f6f6"/>
<rect x="365" y="31" width="1" height="16.5" fill="#f0f0f0"/>
<rect x="366" y="31" width="4" height="16.5" fill="#f6f6f6"/>
<rect x="370" y="31" width="2" height="16.5" fill="#f0f0f0"/>
<rect x="372" y="31" width="1" height="16.5" fill="#eaeaea"/>
<rect x="373" y="31" width="1" height="16.5" fill="#dedede"/>
<rect x="374" y="31" width="1" height="16.5" fill="#d8d8d8"/>
<rect x="375" y="31" width="1" height="16.5" fill="#bababa"/>
<rect x="376" y="31" width="1" height="16.5" fill="#727272"/>
<rect x="377" y="31" width="1" height="16.5" fill="#8a8a8a"/>
<rect x="378" y="31" width="1" height="16.5" fill="#a2a2a2"/>
<rect x="379" y="31" width="1" height="16.5" fill="#6c6c6c"/>
<rect x="380" y="31" width="1" height="16.5" fill="#8a8a8a"/>
<rect x="381" y="31" width="1" height="16.5" fill="#c6c6c6"/>
<rect x="382" y="31" width="1" height="16.5" fill="#d8d8d8"/>
<rect x="383" y="31" width="1" height="16.5" fill="#dedede"/>
<rect x="384" y="31" width="1" height="16.5" fill="#e4e4e4"/>
<rect x="385" y="31" width="2" height="16.5" fill="#f0f0f0"/>
<rect x="387" y="31" width="1" height="16.5" fill="#f6f6f6"/>
<rect x="408" y="31" width="1" height="16.5" fill="#f6f6f6"/>
<rect x="409" y="31" width="1" height="16.5" fill="#f0f0f0"/>
<rect x="410" y="31" width="1" height="16.5" fill="#d8d8d8"/>
<rect x="411" y="31" width="1" height="16.5" fill="#eaeaea"/>
<rect x="412" y="31" width="2" height="16.5" fill="#f6f6f6"/>
<rect x="418" y="31" width="3" height="16.5" fill="#f6f6f6"/>
<rect x="421" y="31" width="1" height="16.5" fill="#e4e4e4"/>
<rect x="422" y="31" width="1" height="16.5" fill="#c6c6c6"/>
<rect x="423" y="31" width="1" height="16.5" fill="#e4e4e4"/>
<rect x="424" y="31" width="3" height="16.5" fill="#f6f6f6"/>
<rect x="432" y="31" width="2" height="16.5" fill="#f6f6f6"/>
<rect x="434" y="31" width="2" height="16.5" fill="#f0f0f0"/>
<rect x="436" y="31" width="1" height="16.5" fill="#eaeaea"/>
<rect x="437" y="31" width="1" height="16.5" fill="#bababa"/>
<rect x="438" y="31" width="1" height="16.5" fill="#aeaeae"/>
<rect x="439" y="31" width="1" height="16.5" fill="#d8d8d8"/>
<rect x="440" y="31" width="3" height="16.5" fill="#dedede"/>
<rect x="443" y="31" width="1" height="16.5" fill="#d8d8d8"/>
<rect x="444" y="31" width="1" height="16.5" fill="#d2d2d2"/>
<rect x="445" y="31" width="1" height="16.5" fill="#cccccc"/>
<rect x="446" y="31" width="1" height="16.5" fill="#c0c0c0"/>
<rect x="447" y="31" width="1" height="16.5" fill="#aeaeae"/>
<rect x="448" y="31" width="1" height="16.5" fill="#909090"/>
<rect x="449" y="31" width="1" height="16.5" fill="#2a2a2a"/>
<rect x="450" y="31" width="1" height="16.5" fill="#424242"/>
<rect x="451" y="31" width="1" height="16.5" fill="#848484"/>
<rect x="452" y="31" width="1" height="16.5" fill="#969696"/>
<rect x="453" y="31" width="1" height="16.5" fill="#a8a8a8"/>
<rect x="454" y="31" width="1" height="16.5" fill="#c0c0c0"/>
<rect x="455" y="31" width="1" height="16.5" fill="#d2d2d2"/>
<rect x="456" y="31" width="1" height="16.5" fill="#dedede"/>
<rect x="457" y="31" width="1" height="16.5" fill="#e4e4e4"/>
<rect x="458" y="31" width="1" height="16.5" fill="#eaeaea"/>
<rect x="459" y="31" width="1" height="16.5" fill="#f0f0f0"/>
<rect x="460" y="31" width="2" height="16.5" fill="#f6f6f6"/>
<rect x="492" y="31" width="1" height="16.5" fill="#f6f6f6"/>
<rect x="526" y="31" width="2" height="16.5" fill="#f6f6f6"/>
<rect x="528" y="31" width="1" height="16.5" fill="#f0f0f0"/>
<rect x="529" y="31" width="1" height="16.5" fill="#eaeaea"/>
<rect x="530" y="31" width="1" height="16.5" fill="#d8d8d8"/>
<rect x="531" y="31" width="2" height="16.5" fill="#dedede"/>
<rect x="533" y="31" width="1" height="16.5" fill="#e4e4e4"/>
<rect x="534" y="31" width="1" height="16.5" fill="#eaeaea"/>
<rect x="535" y="31" width="2" height="16.5" fill="#e4e4e4"/>
<rect x="537" y="31" width="1" height="16.5" fill="#d8d8d8"/>
<rect x="538" y="31" width="1" height="16.5" fill="#eaeaea"/>
<rect x="539" y="31" width="2" height="16.5" fill="#f0f0f0"/>
<rect x="541" y="31" width="2" height="16.5" fill="#eaeaea"/>
<rect x="543" y="31" width="1" height="16.5" fill="#e4e4e4"/>
<rect x="544" y="31" width="1" height="16.5" fill="#dedede"/>
<rect x="545" y="31" width="1" height="16.5" fill="#d8d8d8"/>
<rect x="546" y="31" width="1" height="16.5" fill="#cccccc"/>
<rect x="547" y="31" width="1" height="16.5" fill="#c0c0c0"/>
<rect x="548" y="31" width="1" height="16.5" fill="#b4b4b4"/>
<rect x="549" y="31" width="1" height="16.5" fill="#9c9c9c"/>
<rect x="550" y="31" width="1" height="16.5" fill="#787878"/>
<rect x="551" y="31" width="1" height="16.5" fill="#424242"/>
<rect x="552" y="31" width="2" height="16.5" fill="#141414"/>
<rect x="554" y="31" width="1" height="16.5" fill="#363636"/>
<rect x="555" y="31" width="1" height="16.5" fill="#6c6c6c"/>
<rect x="556" y="31" width="1" height="16.5" fill="#848484"/>
<rect x="557" y="31" width="2" height="16.5" fill="#8a8a8a"/>
<rect x="559" y="31" width="1" height="16.5" fill="#9c9c9c"/>
<rect x="560" y="31" width="1" height="16.5" fill="#a8a8a8"/>
<rect x="561" y="31" width="1" height="16.5" fill="#aeaeae"/>
<rect x="562" y="31" width="1" height="16.5" fill="#a2a2a2"/>
<rect x="563" y="31" width="1" height="16.5" fill="#7e7e7e"/>
<rect x="564" y="31" width="1" height="16.5" fill="#909090"/>
<rect x="565" y="31" width="1" height="16.5" fill="#bababa"/>
<rect x="566" y="31" width="1" height="16.5" fill="#cccccc"/>
<rect x="567" y="31" width="1" height="16.5" fill="#d8d8d8"/>
<rect x="568" y="31" width="1" height="16.5" fill="#dedede"/>
<rect x="569" y="31" width="1" height="16.5" fill="#e4e4e4"/>
<rect x="570" y="31" width="1" height="16.5" fill="#eaeaea"/>
<rect x="571" y="31" width="3" height="16.5" fill="#f0f0f0"/>
<rect x="574" y="31" width="4" height="16.5" fill="#f6f6f6"/>
<rect x="587" y="31" width="1" height="16.5" fill="#f6f6f6"/>
<rect x="614" y="31" width="2" height="16.5" fill="#f6f6f6"/>
<rect x="153" y="47.5" width="1" height="16.5" fill="#f0f0f0"/>
<rect x="154" y="47.5" width="1" height="16.5" fill="#eaeaea"/>
<rect x="172" y="47.5" width="2" height="16.5" fill="#f6f6f6"/>
<rect x="194" y="47.5" width="1" height="16.5" fill="#f6f6f6"/>
<rect x="195" y="47.5" width="1" height="16.5" fill="#f0f0f0"/>
<rect x="196" y="47.5" width="1" height="16.5" fill="#e4e4e4"/>
<rect x="197" y="47.5" width="1" height="16.5" fill="#eaeaea"/>
<rect x="198" y="47.5" width="1" height="16.5" fill="#f0f0f0"/>
<rect x="199" y="47.5" width="1" height="16.5" fill="#f6f6f6"/>
<rect x="226" y="47.5" width="1" height="16.5" fill="#f0f0f0"/>
<rect x="245" y="47.5" width="3" height="16.5" fill="#f6f6f6"/>
<rect x="248" y="47.5" width="1" height="16.5" fill="#e4e4e4"/>
<rect x="249" y="47.5" width="1" height="16.5" fill="#c6c6c6"/>
<rect x="250" y="47.5" width="1" height="16.5" fill="#dedede"/>
<rect x="251" y="47.5" width="1" height="16.5" fill="#eaeaea"/>
<rect x="252" y="47.5" width="2" height="16.5" fill="#f0f0f0"/>
<rect x="254" y="47.5" width="2" height="16.5" fill="#f6f6f6"/>
<rect x="276" y="47.5" width="2" height="16.5" fill="#f6f6f6"/>
<rect x="307" y="47.5" width="2" height="16.5" fill="#f6f6f6"/>
<rect x="309" y="47.5" width="2" height="16.5" fill="#f0f0f0"/>
<rect x="311" y="47.5" width="1" height="16.5" fill="#eaeaea"/>
<rect x="312" y="47.5" width="1" height="16.5" fill="#b4b4b4"/>
<rect x="313" y="47.5" width="1" height="16.5" fill="#a2a2a2"/>
<rect x="314" y="47.5" width="1" height="16.5" fill="#cccccc"/>
<rect x="315" y="47.5" width="1" height="16.5" fill="#dedede"/>
<rect x="316" y="47.5" width="1" height="16.5" fill="#eaeaea"/>
<rect x="317" y="47.5" width="1" height="16.5" fill="#e4e4e4"/>
<rect x="318" y="47.5" width="2" height="16.5" fill="#f0f0f0"/>
<rect x="320" y="47.5" width="1" height="16.5" fill="#f6f6f6"/>
<rect x="321" y="47.5" width="1" height="16.5" fill="#f0f0f0"/>
<rect x="337" y="47.5" width="3" height="16.5" fill="#f6f6f6"/>
<rect x="340" y="47.5" width="1" height="16.5" fill="#f0f0f0"/>
<rect x="341" y="47.5" width="1" height="16.5" fill="#e4e4e4"/>
<rect x="342" y="47.5" width="1" height="16.5" fill="#d8d8d8"/>
<rect x="343" y="47.5" width="1" height="16.5" fill="#d2d2d2"/>
<rect x="344" y="47.5" width="1" height="16.5" fill="#dedede"/>
<rect x="345" y="47.5" width="1" height="16.5" fill="#eaeaea"/>
<rect x="346" y="47.5" width="7" height="16.5" fill="#f0f0f0"/>
<rect x="353" y="47.5" width="1" height="16.5" fill="#d8d8d8"/>
<rect x="354" y="47.5" width="1" height="16.5" fill="#d2d2d2"/>
<rect x="355" y="47.5" width="1" height="16.5" fill="#d8d8d8"/>
<rect x="356" y="47.5" width="1" height="16.5" fill="#c6c6c6"/>
<rect x="357" y="47.5" width="1" height="16.5" fill="#dedede"/>
<rect x="358" y="47.5" width="1" height="16.5" fill="#eaeaea"/>
<rect x="359" y="47.5" width="1" height="16.5" fill="#f0f0f0"/>
<rect x="360" y="47.5" width="1" height="16.5" fill="#e4e4e4"/>
<rect x="361" y="47.5" width="2" height="16.5" fill="#f6f6f6"/>
<rect x="372" y="47.5" width="3" height="16.5" fill="#f6f6f6"/>
<rect x="375" y="47.5" width="1" height="16.5" fill="#f0f0f0"/>
<rect x="376" y="47.5" width="1" height="16.5" fill="#e4e4e4"/>
<rect x="377" y="47.5" width="3" height="16.5" fill="#d2d2d2"/>
<rect x="380" y="47.5" width="1" height="16.5" fill="#c0c0c0"/>
<rect x="381" y="47.5" width="1" height="16.5" fill="#d8d8d8"/>
<rect x="382" y="47.5" width="2" height="16.5" fill="#eaeaea"/>
<rect x="384" y="47.5" width="2" height="16.5" fill="#f0f0f0"/>
<rect x="386" y="47.5" width="2" height="16.5" fill="#f6f6f6"/>
<rect x="411" y="47.5" width="1" height="16.5" fill="#f0f0f0"/>
<rect x="412" y="47.5" width="1" height="16.5" fill="#e4e4e4"/>
<rect x="413" y="47.5" width="1" height="16.5" fill="#f0f0f0"/>
<rect x="414" y="47.5" width="7" height="16.5" fill="#f6f6f6"/>
<rect x="421" y="47.5" width="1" height="16.5" fill="#eaeaea"/>
<rect x="422" y="47.5" width="1" height="16.5" fill="#c6c6c6"/>
<rect x="423" y="47.5" width="1" height="16.5" fill="#e4e4e4"/>
<rect x="424" y="47.5" width="2" height="16.5" fill="#f6f6f6"/>
<rect x="440" y="47.5" width="1" height="16.5" fill="#f0f0f0"/>
<rect x="442" y="47.5" width="2" height="16.5" fill="#f6f6f6"/>
<rect x="444" y="47.5" width="2" height="16.5" fill="#f0f0f0"/>
<rect x="446" y="47.5" width="1" height="16.5" fill="#eaeaea"/>
<rect x="447" y="47.5" width="1" height="16.5" fill="#e4e4e4"/>
<rect x="448" y="47.5" width="1" height="16.5" fill="#d2d2d2"/>
<rect x="449" y="47.5" width="1" height="16.5" fill="#aeaeae"/>
<rect x="450" y="47.5" width="2" height="16.5" fill="#c0c0c0"/>
<rect x="452" y="47.5" width="1" height="16.5" fill="#d2d2d2"/>
<rect x="453" y="47.5" width="1" height="16.5" fill="#dedede"/>
<rect x="454" y="47.5" width="1" height="16.5" fill="#d8d8d8"/>
<rect x="455" y="47.5" width="1" height="16.5" fill="#c6c6c6"/>
<rect x="456" y="47.5" width="1" height="16.5" fill="#bababa"/>
<rect x="457" y="47.5" width="1" height="16.5" fill="#dedede"/>
<rect x="458" y="47.5" width="1" height="16.5" fill="#eaeaea"/>
<rect x="459" y="47.5" width="1" height="16.5" fill="#f0f0f0"/>
<rect x="460" y="47.5" width="3" height="16.5" fill="#f6f6f6"/>
<rect x="467" y="47.5" width="1" height="16.5" fill="#f6f6f6"/>
<rect x="468" y="47.5" width="1" height="16.5" fill="#e4e4e4"/>
<rect x="469" y="47.5" width="2" height="16.5" fill="#f0f0f0"/>
<rect x="471" y="47.5" width="4" height="16.5" fill="#f6f6f6"/>
<rect x="475" y="47.5" width="1" height="16.5" fill="#e4e4e4"/>
<rect x="476" y="47.5" width="1" height="16.5" fill="#eaeaea"/>
<rect x="477" y="47.5" width="1" height="16.5" fill="#f6f6f6"/>
<rect x="487" y="47.5" width="1" height="16.5" fill="#f6f6f6"/>
<rect x="488" y="47.5" width="1" height="16.5" fill="#e4e4e4"/>
<rect x="489" y="47.5" width="1" height="16.5" fill="#f0f0f0"/>
<rect x="500" y="47.5" width="1" height="16.5" fill="#f6f6f6"/>
<rect x="506" y="47.5" width="1" height="16.5" fill="#f0f0f0"/>
<rect x="534" y="47.5" width="1" height="16.5" fill="#f0f0f0"/>
<rect x="535" y="47.5" width="1" height="16.5" fill="#f6f6f6"/>
<rect x="538" y="47.5" width="1" height="16.5" fill="#f0f0f0"/>
<rect x="539" y="47.5" width="3" height="16.5" fill="#f6f6f6"/>
<rect x="542" y="47.5" width="1" height="16.5" fill="#f0f0f0"/>
<rect x="543" y="47.5" width="1" height="16.5" fill="#d8d8d8"/>
<rect x="544" y="47.5" width="1" height="16.5" fill="#e4e4e4"/>
<rect x="545" y="47.5" width="4" height="16.5" fill="#eaeaea"/>
<rect x="549" y="47.5" width="2" height="16.5" fill="#e4e4e4"/>
<rect x="551" y="47.5" width="1" height="16.5" fill="#cccccc"/>
<rect x="552" y="47.5" width="1" height="16.5" fill="#bababa"/>
<rect x="553" y="47.5" width="1" height="16.5" fill="#b4b4b4"/>
<rect x="554" y="47.5" width="1" height="16.5" fill="#bababa"/>
<rect x="555" y="47.5" width="1" height="16.5" fill="#cccccc"/>
<rect x="556" y="47.5" width="1" height="16.5" fill="#d8d8d8"/>
<rect x="557" y="47.5" width="1" height="16.5" fill="#dedede"/>
<rect x="558" y="47.5" width="4" height="16.5" fill="#e4e4e4"/>
<rect x="562" y="47.5" width="1" height="16.5" fill="#d8d8d8"/>
<rect x="563" y="47.5" width="1" height="16.5" fill="#c0c0c0"/>
<rect x="564" y="47.5" width="1" height="16.5" fill="#cccccc"/>
<rect x="565" y="47.5" width="1" height="16.5" fill="#d8d8d8"/>
<rect x="566" y="47.5" width="1" height="16.5" fill="#dedede"/>
<rect x="567" y="47.5" width="1" height="16.5" fill="#eaeaea"/>
<rect x="568" y="47.5" width="1" height="16.5" fill="#f0f0f0"/>
<rect x="569" y="47.5" width="2" height="16.5" fill="#f6f6f6"/>
<rect x="577" y="47.5" width="5" height="16.5" fill="#f6f6f6"/>
<rect x="596" y="47.5" width="1" height="16.5" fill="#f6f6f6"/>
<rect x="597" y="47.5" width="1" height="16.5" fill="#eaeaea"/>
<rect x="598" y="47.5" width="1" height="16.5" fill="#f6f6f6"/>
<rect x="619" y="47.5" width="1" height="16.5" fill="#f6f6f6"/>
<rect x="58.5" y="30.5" width="576" height="34" fill="none" stroke="#333" stroke-width="1"/>
<text x="618.8" y="43.3" text-anchor="end" fill="#3a3aff">non-KPC</text>
<text x="618.8" y="59.5" text-anchor="end" fill="#ff3030">KPC</text>
<path d="M623 39.3L626 36.3L629 39.3L626 42.3Z" fill="#0000ff"/>
<path d="M623 55.5L626 52.5L629 55.5L626 58.5Z" fill="#ff0000"/>
<text x="23.5" y="62.9" font-family="'Liberation Serif', 'Times New Roman', serif" font-weight="bold" font-size="41.5" fill="#000">A</text></g>
<g><rect x="714.5" y="19.5" width="574" height="5" fill="#fff" stroke="#333" stroke-width="1"/>
<rect x="873" y="19" width="125" height="6" fill="#000"/>
<rect x="1294.5" y="70.5" width="5" height="333" fill="#fff" stroke="#333" stroke-width="1"/>
<rect x="1294" y="92.3" width="6" height="311.7" fill="#000"/>
<path d="M786.5 70.5V403.5M858.5 70.5V403.5M929.5 70.5V403.5M1001.5 70.5V403.5M1072.5 70.5V403.5M1144.5 70.5V403.5M1215.5 70.5V403.5M1287.5 70.5V403.5M714.5 353.5H1288.5M714.5 303.5H1288.5M714.5 253.5H1288.5M714.5 203.5H1288.5M714.5 153.5H1288.5M714.5 103.5H1288.5" stroke="#ebebeb" stroke-width="1" fill="none"/>
<path d="M715.42 402.5V403.2M717.12 402.3V403.2M717.98 402.2V403.2M718.83 402.5V403.2M719.67 402V403.2M722.23 402.4V403.2M723.08 402.4V403.2M723.92 402.5V403.2M724.77 402.4V403.2M725.62 400.4V403.2M726.48 402.1V403.2M727.33 402V403.2M728.17 402V403.2M729.02 401.8V403.2M729.88 400.8V402M730.73 399.5V400.9M731.58 397.6V399.5M732.42 395.2V397.6M733.27 391.6V395.2M734.12 386.6V391.6M734.98 382.8V386.8M735.83 373.3V383.5M736.67 361V373.3M737.52 262.2V361M738.38 262.2V354.3M739.23 354.3V365.3M740.08 364.3V366.4M740.92 353.1V369.4M741.77 367.4V371.2M742.62 367.4V380.8M743.48 380.8V385.4M744.33 378V382.5M745.17 372.8V378.6M746.02 361.5V372.8M746.88 298.5V361.5M747.73 339.1V360.9M748.58 349.1V359.3M749.42 318V349.2M750.27 189.9V318M751.12 309.1V342.9M751.98 342.9V364.9M752.83 350.8V364.9M753.67 350.5V355.5M754.52 355.5V367.6M755.38 367.6V371M756.23 353.9V369.7M757.08 354.9V380.6M757.92 380.6V385.2M758.77 384.6V386.1M759.62 385.6V387.5M760.48 377V387.7M761.33 339.4V377.4M762.17 377.4V392.8M763.02 392.8V395.4M763.88 395V396.3M764.73 394.9V397.7M765.58 396.3V397.7M766.42 390.7V396.4M767.27 368.6V390.7M768.12 390V395.9M768.98 395.6V396.6M769.83 395.6V396.4M770.67 395.2V396.1M771.52 394.9V396.5M772.38 396.5V397.4M773.23 395.4V396.7M774.08 396.5V397.4M774.92 396.8V397.7M775.77 393.9V397.1M776.62 391.5V393.9M777.48 393.7V398.2M778.33 398.2V401M779.17 400.9V402.4M780.02 401.7V402.6M780.88 402V403.2M781.73 402V403.2M782.58 402.4V403.2M784.27 402.4V403.2M785.12 402.4V403.2M785.98 402.4V403.2M786.83 402.2V403.2M787.67 402.3V403.2M788.52 402.4V403.2M789.38 401.6V403.2M790.23 401.3V402.2M791.08 399.6V401.7M791.92 397V400.1M792.77 394.5V397M793.62 389.9V394.5M794.48 373.3V389.9M795.33 326.4V373.3M796.17 366V371.8M797.02 348.5V369.7M797.88 298.2V356M798.73 356V378.5M799.58 375.5V378.7M800.42 375.2V381.2M801.27 381.2V385.5M802.12 384.2V386.2M802.98 383.6V387.2M803.83 383.1V390.5M804.67 375.3V383.1M805.52 370.5V375.8M806.38 356.9V370.5M807.23 360.7V364.8M808.08 344.4V360.7M808.92 352.3V361.5M809.77 361.5V372.4M810.62 372.4V381.6M811.48 381.6V386.1M812.33 378.8V387.6M813.17 384.6V387.6M814.02 382.4V385.3M814.88 371.3V382.4M815.73 300.3V371.3M816.58 324.9V368.6M817.42 368.6V373M818.27 372V375.4M819.12 375.4V377.6M819.98 371.7V378.7M820.83 359.5V371.7M821.67 317.5V374M822.52 374V386.6M823.38 384.6V388.4M824.23 388.3V390.3M825.08 389.3V390.5M825.92 388.6V389.8M826.77 385.9V389.1M827.62 387.5V388.8M828.48 388.1V389.6M829.33 387.5V389.5M830.17 388.5V392.6M831.02 392.1V393.7M831.88 392.1V393.8M832.73 393.7V395.4M833.58 395.2V396M834.42 394.9V397M835.27 396.6V397.7M836.12 397.3V398.9M836.98 398.9V400.2M837.83 398.8V399.7M838.67 399V399.8M839.52 398.4V399.3M840.38 396.4V398.6M841.23 393.6V396.9M842.08 388.6V393.6M842.92 373.6V388.6M843.77 373.6V390.5M844.62 390.5V397.4M845.48 397.2V400.3M846.33 400V402.2M847.17 402.2V403.2M848.02 402.2V403.2M848.88 402.1V403.2M849.73 402.2V403.2M850.58 402.2V403.2M851.42 402.4V403.2M852.27 402.2V403.2M853.12 402.2V403.2M853.98 402.4V403.2M854.83 402.1V403.2M855.67 402.2V403.2M856.52 401.9V403.2M857.38 401.9V402.7M858.23 401.8V402.7M859.08 401.6V402.5M859.92 401.4V402.2M860.77 401V401.9M861.62 400.4V401.2M862.48 398.6V400.6M863.33 394.2V398.6M864.17 384.5V394.2M865.02 341.9V384.5M865.88 328.7V356.8M866.73 356.8V388.2M867.58 388.2V396.1M868.42 396.1V399.5M869.27 399.2V400.5M870.12 400.5V401.5M870.98 400.6V402.1M871.83 401.5V402.3M872.67 401.4V402.3M873.52 401.6V402.6M874.38 402V403.2M875.23 401.9V402.7M876.08 398.3V402.3M876.92 399.2V402.5M877.77 401.5V403.2M878.62 402.2V403.2M879.48 402.2V403.2M880.33 402.4V403.2M881.17 402.2V403.2M882.02 402.2V403.2M882.88 402.3V403.2M883.73 402V403.2M884.58 402.1V403.2M885.42 402.4V403.2M886.27 402.3V403.2M887.12 402.5V403.2M887.98 402.5V403.2M888.83 402.5V403.2M889.67 402.4V403.2M890.52 402.1V403.2M891.38 402.3V403.2M892.23 402.3V403.2M893.08 402.4V403.2M895.62 402.3V403.2M896.48 402V403.2M897.33 398.5V402.3M898.17 398.5V401.6M899.02 399.9V400.9M899.88 398.1V400.1M900.73 396V398.1M901.58 395.8V396.7M902.42 392.6V395.8M903.27 391.3V392.9M904.12 384.4V391.9M904.98 381.2V384.4M905.83 380V381.6M906.67 373.4V380M907.52 365.5V373.4M908.38 362.3V365.5M909.23 354.6V362.5M910.08 315.3V354.6M910.92 252.6V334.2M911.77 334.2V361.9M912.62 361.4V365.2M913.48 358.8V363.3M914.33 363.3V368M915.17 351.3V369.8M916.02 369.8V377.7M916.88 377.7V381.8M917.73 376.5V381.1M918.58 377.1V382.7M919.42 381.6V383.7M920.27 370.4V387.7M921.12 387.6V391M921.98 388.7V393.1M922.83 393.1V396.4M923.67 395.9V398.3M924.52 398.3V399.9M925.38 399.9V400.7M926.23 400.6V402M927.08 401.6V402.4M927.92 402V403.2M928.77 402.3V403.2M929.62 402.4V403.2M930.48 402.4V403.2M933.88 402.4V403.2M937.27 402.4V403.2M938.12 402.5V403.2M938.98 402.5V403.2M939.83 402.2V403.2M940.67 402.5V403.2M941.52 402.5V403.2M942.38 402.4V403.2M943.23 402.4V403.2M944.92 402.4V403.2M945.77 402.5V403.2M947.48 402.2V403.2M948.33 402.5V403.2M949.17 402.5V403.2M950.02 402.3V403.2M950.88 402.4V403.2M951.73 402.3V403.2M952.58 402.2V403.2M953.42 402.3V403.2M954.27 402V403.2M955.12 402.4V403.2M955.98 402.5V403.2M956.83 402V403.2M957.67 402.3V403.2M958.52 401.9V403.2M959.38 401.5V402.6M960.23 397.6V401.8M961.08 385.8V397.6M961.92 397.3V399.4M962.77 394.3V398.6M963.62 379V394.3M964.48 362.9V379M965.33 368.1V390M966.17 390V394.2M967.02 393.7V398.2M967.88 398.2V400.1M968.73 400.1V400.9M969.58 400.1V401.9M970.42 401.5V402.4M971.27 401.7V403.2M972.12 402.2V403.2M972.97 402.1V403.2M973.83 402.3V403.2M974.67 401.8V403.2M975.52 401.4V402.4M976.38 400.9V401.8M977.22 399V400.9M978.08 398V399.3M978.92 394.8V398M979.77 391V394.8M980.62 389.9V391.1M981.47 382.4V390M982.33 370.9V382.4M983.17 309.5V370.9M984.02 315V365.2M984.88 364.8V368.7M985.72 359.7V369.2M986.58 333.7V369.8M987.42 369.8V382.2M988.27 382.2V385.7M989.12 385.7V389.8M989.97 387V393.3M990.83 392.8V394.5M991.67 394.5V396.6M992.52 396.4V398M993.38 397.3V398.3M994.22 398.3V399.6M995.08 398.5V399.6M995.92 397V398.7M996.77 396.2V397.1M997.62 392.4V396.5M998.47 391.5V394.2M999.33 387.1V391.5M1000.17 351.7V387.1M1001.02 356.8V387.7M1001.88 387.7V390.2M1002.72 386.7V390.2M1003.58 386V389.5M1004.42 389.5V393.3M1005.27 391.8V395.6M1006.12 393.1V395.2M1006.97 393.9V395M1007.83 394.1V395M1008.67 393.4V395.7M1009.52 394.8V395.9M1010.38 391.7V394.8M1011.22 390.1V392M1012.08 389.7V390.6M1012.92 375.4V389.9M1013.77 331.1V375.4M1014.62 325.9V366.9M1015.47 366.9V377.3M1016.33 374.8V379.5M1017.17 377.5V380.1M1018.02 380.1V381.7M1018.88 381.6V383.3M1019.72 383.3V385.1M1020.58 354.9V384.4M1021.42 300.8V378.7M1022.27 378.7V391.2M1023.12 391.2V394.8M1023.97 394.6V395.9M1024.83 395.7V396.7M1025.67 395.7V396.6M1026.53 393.2V395.9M1027.38 391.1V393.2M1028.22 373.6V391.2M1029.08 330.6V373.6M1029.92 346.4V385.8M1030.78 385.8V393.1M1031.62 392.7V396.8M1032.47 396.8V398.8M1033.33 398.8V400.8M1034.17 400.4V401.7M1035.03 401.6V402.6M1035.88 402.4V403.2M1036.72 402V403.2M1037.58 402.2V403.2M1038.42 402.3V403.2M1039.28 401.8V402.6M1040.12 398.5V401.9M1040.97 385.8V398.5M1041.83 364.7V388.7M1042.67 388.7V395.5M1043.53 395.4V396.4M1044.38 396V397.3M1045.22 397.1V399.5M1046.08 399.4V400.8M1046.92 400.4V401.3M1047.78 401.1V402M1048.62 401.2V402.1M1049.47 401.4V402.3M1050.33 401.3V402.1M1051.17 401V401.9M1052.03 400.5V401.5M1052.88 400.1V401.1M1053.72 399.2V400.4M1054.58 398.3V399.3M1055.42 396V398.3M1056.28 396V396.8M1057.12 396V396.9M1057.97 395.6V396.6M1058.83 394.9V396M1059.67 395.6V396.7M1060.53 395.2V396.9M1061.38 393.5V395.2M1062.22 392.5V393.9M1063.08 393.2V394.1M1063.92 391.4V393.4M1064.78 385V391.4M1065.62 379.1V385M1066.47 374.1V379.1M1067.33 364.4V374.1M1068.17 347V364.4M1069.03 301V347.6M1069.88 206.9V326M1070.72 326V349.1M1071.58 348.9V352.1M1072.42 351.5V356.5M1073.28 354.1V357.2M1074.12 355.7V366.7M1074.97 360.3V367.7M1075.83 360.8V367.5M1076.67 367.3V368.7M1077.53 356.3V368.2M1078.38 302.9V356.3M1079.22 343V365.3M1080.08 363.9V365.9M1080.92 364.3V367M1081.78 342.7V367M1082.62 367V372.4M1083.47 369V371.7M1084.33 364.8V379.1M1085.17 378.7V381.5M1086.03 378.3V386.6M1086.88 385.3V386.5M1087.72 386.3V391M1088.58 391V392.6M1089.42 392.4V395.4M1090.28 395.4V397.5M1091.12 397.3V398.1M1091.97 397V398.6M1092.83 398V400.1M1093.67 400.1V401M1094.53 400.4V401.7M1095.38 401.4V402.2M1096.22 401.4V402.4M1097.08 401.5V403.2M1097.92 402.5V403.2M1098.78 402.5V403.2M1099.62 402.5V403.2M1101.33 402.5V403.2M1103.03 402.4V403.2M1103.88 402.5V403.2M1105.58 402.4V403.2M1106.42 400.5V403.2M1107.28 402.5V403.2M1108.12 402.5V403.2M1108.97 402.5V403.2M1109.83 402.5V403.2M1110.67 402.2V403.2M1111.53 402.1V403.2M1112.38 402.5V403.2M1113.22 402.3V403.2M1114.08 402.5V403.2M1114.92 402.5V403.2M1116.62 402.2V403.2M1117.47 402.3V403.2M1118.33 400.8V403.2M1120.03 402.4V403.2M1120.88 402.4V403.2M1122.58 402.5V403.2M1123.42 402.4V403.2M1124.28 402.4V403.2M1125.12 402.2V403.2M1125.97 402.3V403.2M1126.83 402.4V403.2M1127.67 401.9V403.2M1128.53 400.6V402.3M1129.38 396V400.8M1130.22 394.4V399.5M1131.08 399.5V401.9M1131.92 401.8V403.2M1132.78 402.4V403.2M1133.62 402.4V403.2M1134.47 402.5V403.2M1135.33 402.4V403.2M1136.17 402.5V403.2M1137.03 402.5V403.2M1137.88 402V403.2M1138.72 401.4V403.2M1139.58 402.3V403.2M1140.42 402.4V403.2M1141.28 402.5V403.2M1142.12 402.5V403.2M1142.97 402.5V403.2M1143.83 402.4V403.2M1144.67 402.4V403.2M1145.53 402.3V403.2M1146.38 401.5V403.2M1147.22 402.5V403.2M1148.08 402.5V403.2M1148.92 402.2V403.2M1149.78 402.2V403.2M1150.62 402.1V403.2M1151.47 401.5V403.2M1152.33 399.7V401.6M1153.17 397.8V399.9M1154.03 391.4V397.8M1154.88 378.4V392.6M1155.72 367.1V388M1156.58 388V391.9M1157.42 391.5V392.5M1158.28 390.6V392.7M1159.12 392.3V395.5M1159.97 395.5V397.6M1160.83 396.4V399.8M1161.67 399.8V401M1162.53 400.4V402M1163.38 401.3V402.6M1164.22 402.2V403.2M1165.08 402.4V403.2M1165.92 402.4V403.2M1166.78 401.5V403.2M1168.47 402.4V403.2M1170.17 402.4V403.2M1171.03 402.4V403.2M1171.88 402.4V403.2M1172.72 402.5V403.2M1173.58 402.5V403.2M1174.42 402.1V403.2M1175.28 402.2V403.2M1176.12 402.5V403.2M1176.97 401.9V403.2M1177.83 401.3V402.3M1178.67 400.5V401.5M1179.53 399.2V400.5M1180.38 397.3V399.3M1181.22 396.3V397.5M1182.08 392.1V396.3M1182.92 389.2V392.1M1183.78 384.9V389.6M1184.62 346.7V384.9M1185.47 346.7V378.4M1186.33 378.4V383.9M1187.17 383.9V387.4M1188.03 385.3V390.7M1188.88 390.7V393.8M1189.72 392.9V393.8M1190.58 393.6V396.8M1191.42 396.4V398.5M1192.28 398.5V399.6M1193.12 399.5V400.8M1193.97 400.3V401.7M1194.83 401.1V402.3M1195.67 402.3V403.2M1196.53 402.5V403.2M1197.38 402.3V403.2M1198.22 402.5V403.2M1199.08 402.5V403.2M1199.92 402.5V403.2M1200.78 402.5V403.2M1201.62 402.5V403.2M1202.47 402.5V403.2M1203.33 402.5V403.2M1204.17 402.4V403.2M1205.03 402.4V403.2M1205.88 402.4V403.2M1206.72 402.5V403.2M1208.42 402.5V403.2M1209.28 402.5V403.2M1210.12 402.5V403.2M1210.97 402.2V403.2M1211.83 402.2V403.2M1212.67 402.5V403.2M1213.53 402.2V403.2M1214.38 402.2V403.2M1215.22 402V403.2M1216.08 402V403.2M1216.92 402.5V403.2M1217.78 402.5V403.2M1219.47 402.5V403.2M1220.33 402.5V403.2M1221.17 402.4V403.2M1222.03 402.3V403.2M1225.42 402.4V403.2M1228.82 402.1V403.2M1229.67 402.4V403.2M1230.53 402.5V403.2M1231.38 400.9V403.2M1232.22 402.5V403.2M1233.07 400.3V403.2M1233.92 400.3V403.2M1234.78 399.7V403.2M1235.62 393V400.5M1236.47 400.5V403.2M1237.32 401.8V403.2M1238.17 402.4V403.2M1239.88 402.4V403.2M1240.72 402.4V403.2M1241.57 402.5V403.2M1242.42 402.4V403.2M1243.28 402.4V403.2M1244.12 402.4V403.2M1244.97 402.4V403.2M1245.82 402.2V403.2M1246.67 401.8V402.7M1247.53 401.8V402.6M1248.38 399.5V402M1249.22 391.2V399.5M1250.07 388.9V393.6M1250.92 393.6V396.2M1251.78 393V396.2M1252.62 387.5V393M1253.47 390.4V399.3M1254.32 399.2V400.8M1255.17 400.8V402.2M1256.03 401.9V402.7M1256.88 402.2V403.2M1257.72 402.4V403.2M1258.57 402.1V403.2M1259.42 401.4V402.4M1260.28 400.7V401.5M1261.12 399V400.7M1261.97 397.8V399.3M1262.82 396.7V397.9M1263.67 394.2V397M1264.53 391.2V394.3M1265.38 387V391.2M1266.22 382.7V387M1267.07 378.8V382.7M1267.92 377.5V380.2M1268.78 368.9V377.5M1269.62 349V368.9M1270.47 330V350.7M1271.32 350.7V383.2M1272.17 383.2V395M1273.03 395V398.1M1273.88 397.5V400.8M1274.72 400.6V402.1M1275.57 401.6V402.4M1276.42 401.7V402.5M1277.28 402.1V403.2M1278.12 399.9V403.2M1278.97 402.3V403.2M1279.82 402.3V403.2M1280.67 402.2V403.2M1281.53 402.2V403.2M1282.38 402.3V403.2M1283.22 401.9V403.2M1284.07 402.3V403.2M1284.92 402.3V403.2M1285.78 402.5V403.2M1286.62 402.5V403.2M1287.47 402.4V403.2" stroke="#ff0000" stroke-width="0.85" stroke-opacity="1" fill="none"/>
<path d="M715.42 402.5V403.2M716.27 402.4V403.2M717.12 402.5V403.2M717.98 402.4V403.2M718.83 402.3V403.2M719.67 402.5V403.2M720.52 402.3V403.2M722.23 402.3V403.2M723.08 400.2V403.2M723.92 400.2V403.2M724.77 402.3V403.2M725.62 402.2V403.2M726.48 402.4V403.2M727.33 402.2V403.2M728.17 402.4V403.2M729.02 402.3V403.2M729.88 401.1V402.6M730.73 399.7V401.4M731.58 397.8V399.7M732.42 394.3V397.9M733.27 389.8V394.3M734.12 382.5V389.8M734.98 373.1V382.5M735.83 360.2V373.1M736.67 340.9V360.2M737.52 153V340.9M738.38 153V287.8M739.23 287.8V342.4M740.08 339.8V355.3M740.92 355.3V364.4M741.77 364.3V370.6M742.62 369.7V372.7M743.48 370.6V377.1M744.33 377.1V384.3M745.17 382.2V385.6M746.02 377.9V382.2M746.88 374.3V377.9M747.73 374.3V377.5M748.58 361.5V374.3M749.42 330.9V361.5M750.27 220.2V330.9M751.12 279.6V341.2M751.98 341.2V353.8M752.83 353.8V368M753.67 356.7V368.6M754.52 355.6V359.1M755.38 358.6V361.3M756.23 359.1V368.6M757.08 364.7V372.1M757.92 361.2V365.4M758.77 364.1V368.9M759.62 368.9V373.6M760.48 373.4V374.5M761.33 371.7V374.1M762.17 372.9V375.4M763.02 375.4V380.6M763.88 380.3V382.3M764.73 378.5V380.8M765.58 378.5V381M766.42 380.1V381.4M767.27 380.8V382.7M768.12 381V382.6M768.98 373.3V381.2M769.83 336V373.3M770.67 336V366.3M771.52 366.3V374.9M772.38 372.5V376.9M773.23 376.9V379.7M774.08 377.3V380.9M774.92 380.3V382.2M775.77 364V382.2M776.62 353.9V380.3M777.48 380.3V391.1M778.33 391.1V393.3M779.17 393.3V395.1M780.02 394.5V395.9M780.88 395.8V397.8M781.73 397V397.9M782.58 397.9V399.4M783.42 399V399.9M784.27 399.7V400.6M785.12 400.2V401M785.98 400.5V401.4M786.83 400.7V401.5M787.67 400.7V401.6M788.52 400.9V401.8M789.38 400.7V401.6M790.23 400.7V401.6M791.08 400.8V401.6M791.92 400.8V401.7M792.77 400.4V401.3M793.62 400.3V401.2M794.48 399.7V400.6M795.33 399.2V400.2M796.17 399.6V400.5M797.02 398.3V400.2M797.88 398.3V399.2M798.73 397.6V398.7M799.58 396.4V398.3M800.42 394.3V396.5M801.27 394.5V395.6M802.12 393.8V395.8M802.98 392.1V394.9M803.83 389.4V392.1M804.67 386.5V389.4M805.52 384.4V386.8M806.38 380.8V384.7M807.23 378.5V381.5M808.08 379.9V381.9M808.92 371.6V380.3M809.77 371.6V373.5M810.62 360.7V371.8M811.48 355.5V360.7M812.33 345.6V355.5M813.17 339.8V347.3M814.02 328.7V340M814.88 300.2V328.7M815.73 88.9V300.2M816.58 119.6V223.8M817.42 199.4V286.9M818.27 286.9V312.6M819.12 304.3V314.3M819.98 262.3V306.7M820.83 276.7V309.9M821.67 299.9V309.2M822.52 304.6V311.3M823.38 298.3V309.3M824.23 309.3V317M825.08 316.8V321.3M825.92 319.1V329.6M826.77 327.7V332.5M827.62 332.5V345.7M828.48 345.7V352.3M829.33 349.2V353.2M830.17 349.2V363.4M831.02 363.4V365.2M831.88 364.1V368.2M832.73 367.6V372.5M833.58 372.5V374.6M834.42 374.2V377.3M835.27 377V381.9M836.12 381.8V384.6M836.98 384.1V386.4M837.83 386.4V389.1M838.67 389.1V391M839.52 390.9V392.3M840.38 391.6V392.4M841.23 392.2V394.1M842.08 393.5V395.4M842.92 394.6V396M843.77 395.7V397.4M844.62 396.8V397.8M845.48 397.8V398.7M846.33 398.4V399.8M847.17 399.4V400.7M848.02 400.2V401M848.88 400.2V401.5M849.73 400.9V401.8M850.58 401V401.9M851.42 401.2V402.4M852.27 401.7V403.2M853.12 402.1V403.2M853.98 402.5V403.2M854.83 402.3V403.2M856.52 402.3V403.2M857.38 402.5V403.2M858.23 402.5V403.2M859.08 402.5V403.2M859.92 402.4V403.2M860.77 402.5V403.2M861.62 402.5V403.2M862.48 402.3V403.2M863.33 402.3V403.2M864.17 402.5V403.2M865.02 402.3V403.2M865.88 402.3V403.2M866.73 402.4V403.2M867.58 402.5V403.2M869.27 400.5V403.2M870.12 402.4V403.2M870.98 402.5V403.2M871.83 402.5V403.2M872.67 402V403.2M873.52 402.4V403.2M874.38 400.2V402.6M875.23 386.5V400.2M876.08 397.1V402.5M876.92 402V403.2M877.77 402.4V403.2M878.62 402.3V403.2M879.48 402.4V403.2M880.33 402.3V403.2M881.17 402.4V403.2M882.88 402.5V403.2M883.73 402.3V403.2M884.58 402.5V403.2M885.42 402.5V403.2M887.12 401.8V403.2M887.98 401.6V402.6M888.83 401.2V402.2M889.67 400.5V401.4M890.52 398.8V400.5M891.38 398V398.9M892.23 396V398.2M893.08 393.5V396.2M893.92 390.6V393.6M894.77 388.2V391.4M895.62 386.3V388.9M896.48 384.3V386.4M897.33 380.7V384.8M898.17 374V380.7M899.02 368.2V374M899.88 364.6V369M900.73 354V364.6M901.58 332.8V355M902.42 295.6V343.6M903.27 342.6V349.8M904.12 342.6V359M904.98 355.6V359.2M905.83 354V358M906.67 351.6V354.9M907.52 350.9V355.3M908.38 350V353.5M909.23 349.4V354.8M910.08 312.8V349.4M910.92 260.9V318.2M911.77 304V337.6M912.62 336.9V344M913.48 344V353.1M914.33 349.5V354.2M915.17 329.3V353.4M916.02 353.4V359.9M916.88 359.9V369.6M917.73 369.6V376M918.58 375.6V380.7M919.42 378.8V380.7M920.27 379.4V380.4M921.12 379.8V388.1M921.98 388.1V390.7M922.83 390.2V392.3M923.67 392.1V393.3M924.52 393.1V394.4M925.38 394.3V396.1M926.23 396.1V397.8M927.08 397.8V398.9M927.92 398.8V400.1M928.77 399.3V400.5M929.62 400.4V401.2M930.48 400.8V401.6M931.33 401.6V402.6M932.17 402.1V403.2M933.02 402.5V403.2M933.88 402.2V403.2M934.73 402.2V403.2M935.58 402.4V403.2M936.42 402.4V403.2M938.12 402.4V403.2M938.98 402.4V403.2M939.83 402.5V403.2M941.52 402.5V403.2M942.38 402.4V403.2M943.23 402.3V403.2M944.08 394V402.4M944.92 393V401.8M945.77 401.8V403.2M946.62 402.1V403.2M948.33 402.4V403.2M949.17 402.3V403.2M950.02 401.9V403.2M950.88 402.3V403.2M952.58 402.5V403.2M953.42 402.2V403.2M954.27 402.4V403.2M955.12 402.4V403.2M955.98 402.4V403.2M958.52 402.5V403.2M959.38 402.5V403.2M960.23 402.1V403.2M961.08 402.5V403.2M961.92 402.5V403.2M962.77 402.5V403.2M964.48 402.5V403.2M965.33 402.4V403.2M966.17 402.3V403.2M967.02 402.5V403.2M969.58 402.5V403.2M970.42 401.8V403.2M971.27 402.5V403.2M972.97 402.1V403.2M973.83 401.8V402.6M974.67 399.7V402M975.52 400V401.2M976.38 397.9V400.3M977.22 395.9V397.9M978.08 394.4V395.9M978.92 391.5V394.4M979.77 384.9V391.5M980.62 378.4V385.4M981.47 372.9V378.4M982.33 367.9V372.9M983.17 326.4V367.9M984.02 327.4V369.2M984.88 369.2V374.2M985.72 368.1V372.8M986.58 357.7V368.4M987.42 368V372.4M988.27 372.4V376.5M989.12 376.5V379.5M989.97 379.5V384M990.83 384V386.9M991.67 386.5V388.8M992.52 388.8V391M993.38 390.4V391.3M994.22 389.1V390.6M995.08 386.9V389.2M995.92 381.7V386.9M996.77 381.6V383.5M997.62 383.1V384M998.47 383V383.8M999.33 372.7V383.4M1000.17 315.7V372.7M1001.02 325.6V370.5M1001.88 370.5V372.8M1002.72 372.8V378M1003.58 377.7V382.5M1004.42 380.6V382.3M1005.27 379.4V382.6M1006.12 382.6V385.7M1006.97 384V386.1M1007.83 386.1V388.8M1008.67 388.8V390.9M1009.52 386.2V389.4M1010.38 386.8V390.8M1011.22 384.5V390.2M1012.08 384.5V388.6M1012.92 380.7V388.6M1013.77 371.7V381.1M1014.62 368.6V378.7M1015.47 376.1V378.8M1016.33 374.4V377.2M1017.17 374.4V376M1018.02 372.7V374.9M1018.88 369.9V374.7M1019.72 367.8V369.9M1020.58 344.5V367.8M1021.42 293.8V363.5M1022.27 363.5V376.8M1023.12 376.8V379.4M1023.97 379.4V383.1M1024.83 383.1V386.5M1025.67 386.2V389.1M1026.53 389V391.6M1027.38 391.2V394.1M1028.22 393.4V394.5M1029.08 394.5V396.1M1029.92 396.1V396.9M1030.78 396.3V397.4M1031.62 396.5V397.3M1032.47 396.5V397.6M1033.33 396.6V397.4M1034.17 396.2V397.1M1035.03 394.1V396.2M1035.88 394.1V395.2M1036.72 392V394.1M1037.58 391.2V392.9M1038.42 388.2V391.2M1039.28 385.6V388.8M1040.12 362.4V385.6M1040.97 362.4V383.1M1041.83 383.1V384.9M1042.67 384.3V387.5M1043.53 387V388.9M1044.38 388.4V391.2M1045.22 390.9V392.9M1046.08 392.3V393.8M1046.92 392.3V393.8M1047.78 393.5V394.4M1048.62 394.1V395.9M1049.47 395.9V397M1050.33 395.7V396.7M1051.17 396.7V397.6M1052.03 396.9V397.8M1052.88 395.9V397.2M1053.72 393.8V396.8M1054.58 394V396.8M1055.42 395.6V396.5M1056.28 394.9V396.2M1057.12 394.3V395.4M1057.97 392.2V394.5M1058.83 386.7V392.2M1059.67 385.2V387.1M1060.53 380.9V386.5M1061.38 378.8V383.6M1062.22 377.5V384.3M1063.08 368.5V377.5M1063.92 360.3V368.5M1064.78 354.2V361.2M1065.62 345.2V354.2M1066.47 331.7V345.2M1067.33 317.2V331.7M1068.17 295.8V317.2M1069.03 233.3V296.2M1069.88 135.2V233.3M1070.72 178.6V274.3M1071.58 274.3V284.8M1072.42 276V281.2M1073.28 276V295.4M1074.12 282.3V295.4M1074.97 282.3V293.6M1075.83 288.2V295.3M1076.67 285.5V291.2M1077.53 275.7V287.6M1078.38 176.2V275.7M1079.22 208.3V258.6M1080.08 258.6V310.6M1080.92 310.2V315.9M1081.78 303.2V322.5M1082.62 322.5V338.9M1083.47 337.3V341.4M1084.33 341.4V345.2M1085.17 345V351.5M1086.03 342.1V348.9M1086.88 344.2V356.6M1087.72 356.6V366.9M1088.58 365.7V368.6M1089.42 367.4V369.4M1090.28 367V369.6M1091.12 367.7V371.9M1091.97 371.4V375.7M1092.83 375.7V380.4M1093.67 380.2V382M1094.53 379.9V384.3M1095.38 384.3V387.3M1096.22 387.3V388.5M1097.08 387.5V388.4M1097.92 388V389.8M1098.78 389.3V391.8M1099.62 391.2V392.1M1100.47 391.2V392.1M1101.33 391.8V394.2M1102.17 393.5V394.6M1103.03 394.6V395.4M1103.88 394.9V396.3M1104.72 396.3V397.4M1105.58 397.2V398.8M1106.42 397.6V399.1M1107.28 397.6V398.7M1108.12 397.6V399.5M1108.97 399.2V400.3M1109.83 399.6V401M1110.67 400.5V401.4M1111.53 400.5V401.4M1112.38 400.4V401.5M1113.22 400.4V402M1114.08 401.3V402.1M1114.92 401.6V402.4M1115.78 402.1V403.2M1116.62 401.9V403.2M1117.47 402.4V403.2M1118.33 402.4V403.2M1119.17 400.3V403.2M1120.03 402.5V403.2M1121.72 402.5V403.2M1122.58 402.4V403.2M1125.12 402.4V403.2M1125.97 402.5V403.2M1126.83 402.3V403.2M1127.67 402.5V403.2M1129.38 402.3V403.2M1130.22 402.4V403.2M1131.92 402.5V403.2M1133.62 402.5V403.2M1134.47 402.4V403.2M1135.33 402.4V403.2M1136.17 402.4V403.2M1137.88 402.5V403.2M1140.42 402.4V403.2M1141.28 402.3V403.2M1142.12 402.4V403.2M1142.97 402.3V403.2M1143.83 402.5V403.2M1144.67 402.4V403.2M1145.53 401.6V403.2M1147.22 402.4V403.2M1148.92 402.3V403.2M1149.78 400.5V402.3M1150.62 398.9V400.8M1151.47 397V399.2M1152.33 393.2V397M1153.17 389.3V393.2M1154.03 383.4V389.3M1154.88 359.5V383.4M1155.72 340.4V380.6M1156.58 380.6V385.4M1157.42 385.1V387.8M1158.28 387.8V390.6M1159.12 389.7V390.7M1159.97 390.7V393.3M1160.83 393.3V395.3M1161.67 394.6V395.5M1162.53 394.6V396.4M1163.38 396.4V397.6M1164.22 397.2V398.1M1165.08 397.6V398.6M1165.92 397.7V398.6M1166.78 397.9V399M1167.62 398.3V399.2M1168.47 398.1V399.2M1169.33 398.3V399.2M1170.17 397.9V399M1171.03 398.1V399.4M1171.88 398.1V399.1M1172.72 398.8V399.7M1173.58 399.2V400M1174.42 399V399.9M1175.28 398.9V399.8M1176.12 398.8V400M1176.97 398.1V399.7M1177.83 396.4V398.6M1178.67 395.8V398.1M1179.53 393.7V395.9M1180.38 391.3V393.7M1181.22 388.9V391.3M1182.08 387.5V388.9M1182.92 385.9V387.9M1183.78 375.7V386.2M1184.62 318.1V375.7M1185.47 318.1V369.7M1186.33 369.7V374M1187.17 374V378.9M1188.03 378.9V384.5M1188.88 383.8V386.3M1189.72 385.8V388.7M1190.58 387.7V390.1M1191.42 390.1V393.8M1192.28 393.7V395.9M1193.12 395.9V398.2M1193.97 397.7V398.7M1194.83 398.7V400.5M1195.67 400.3V401.7M1196.53 401.4V402.3M1197.38 402.3V403.2M1199.08 402.4V403.2M1199.92 402.4V403.2M1200.78 402.1V403.2M1202.47 402V403.2M1203.33 402.5V403.2M1204.17 402.2V403.2M1205.03 402.2V403.2M1205.88 402.4V403.2M1208.42 402.4V403.2M1209.28 402.4V403.2M1210.12 401.8V403.2M1210.97 401.8V403.2M1211.83 402.5V403.2M1212.67 402.5V403.2M1214.38 402.5V403.2M1216.08 402.5V403.2M1217.78 402.5V403.2M1219.47 402.5V403.2M1220.33 402.1V403.2M1222.88 402.4V403.2M1225.42 402.2V403.2M1226.28 402.5V403.2M1229.67 402.5V403.2M1230.53 402.4V403.2M1233.07 402.5V403.2M1233.92 402.4V403.2M1234.78 402.4V403.2M1235.62 402.5V403.2M1236.47 402.5V403.2M1237.32 402.3V403.2M1238.17 402.5V403.2M1239.03 402.5V403.2M1239.88 402.5V403.2M1240.72 402.5V403.2M1241.57 402.4V403.2M1243.28 402.4V403.2M1244.12 402.4V403.2M1244.97 402.5V403.2M1246.67 402.5V403.2M1249.22 402.4V403.2M1250.07 402.5V403.2M1251.78 402.5V403.2M1252.62 401.8V403.2M1253.47 402.5V403.2M1255.17 402.4V403.2M1256.88 402.5V403.2M1257.72 399.7V403.2M1258.57 402.3V403.2M1259.42 402.1V403.2M1260.28 402.3V403.2M1261.12 402.4V403.2M1261.97 402.4V403.2M1262.82 402.5V403.2M1264.53 402.4V403.2M1265.38 402.4V403.2M1266.22 402.4V403.2M1267.07 402.5V403.2M1267.92 402.5V403.2M1269.62 402.5V403.2M1270.47 402.4V403.2M1271.32 402.5V403.2M1272.17 402.3V403.2M1273.88 402.4V403.2M1274.72 402.5V403.2M1275.57 402.3V403.2M1276.42 402.5V403.2M1277.28 402.5V403.2M1278.12 402.5V403.2M1278.97 402.4V403.2M1279.82 402.4V403.2M1280.67 402.2V403.2M1281.53 402.4V403.2M1282.38 402.5V403.2M1284.07 402.2V403.2M1285.78 402.5V403.2M1287.47 400V403.2" stroke="#0000ff" stroke-width="0.85" stroke-opacity="1" fill="none"/>
<path d="M797.7 298.8V398.5M795.2 398.5H800.2" stroke="#ff0000" stroke-opacity="0.55" stroke-width="0.8" fill="none"/>
<text transform="translate(800.2 294.2) rotate(-90)" font-size="10.7" fill="#333">7578.1814</text>
<path d="M865.7 329.2V398.5M863.2 398.5H868.2" stroke="#ff0000" stroke-opacity="0.55" stroke-width="0.8" fill="none"/>
<text transform="translate(868 325) rotate(-90)" font-size="10.7" fill="#333">8054.6858</text>
<path d="M964.6 363V398.5M962.1 398.5H967.1" stroke="#ff0000" stroke-opacity="0.55" stroke-width="0.8" fill="none"/>
<text transform="translate(966.8 358) rotate(-90)" font-size="10.7" fill="#333">8744.3782</text>
<path d="M1270.4 338.8V398.5M1267.9 398.5H1272.9" stroke="#ff0000" stroke-opacity="0.55" stroke-width="0.8" fill="none"/>
<text transform="translate(1273.2 333.5) rotate(-90)" font-size="10.7" fill="#333">10883.1167</text>
<path d="M714.5 70.5H1288.5V403.5" fill="none" stroke="#555" stroke-width="1"/>
<path d="M714.5 70.5V403.5H1288.5" fill="none" stroke="#333" stroke-width="1"/>
<path d="M714.5 403.5v2.5M729.5 403.5v2.5M743.5 403.5v2.5M757.5 403.5v2.5M772.5 403.5v2.5M786.5 403.5v5M800.5 403.5v2.5M815.5 403.5v2.5M829.5 403.5v2.5M843.5 403.5v2.5M858.5 403.5v5M872.5 403.5v2.5M886.5 403.5v2.5M900.5 403.5v2.5M915.5 403.5v2.5M929.5 403.5v5M943.5 403.5v2.5M958.5 403.5v2.5M972.5 403.5v2.5M986.5 403.5v2.5M1001.5 403.5v5M1015.5 403.5v2.5M1029.5 403.5v2.5M1044.5 403.5v2.5M1058.5 403.5v2.5M1072.5 403.5v5M1086.5 403.5v2.5M1101.5 403.5v2.5M1115.5 403.5v2.5M1129.5 403.5v2.5M1144.5 403.5v5M1158.5 403.5v2.5M1172.5 403.5v2.5M1187.5 403.5v2.5M1201.5 403.5v2.5M1215.5 403.5v5M1230.5 403.5v2.5M1244.5 403.5v2.5M1258.5 403.5v2.5M1272.5 403.5v2.5M1287.5 403.5v5M714.5 403.5h-5M714.5 393.5h-2.5M714.5 383.5h-2.5M714.5 373.5h-2.5M714.5 363.5h-2.5M714.5 353.5h-5M714.5 343.5h-2.5M714.5 333.5h-2.5M714.5 323.5h-2.5M714.5 313.5h-2.5M714.5 303.5h-5M714.5 293.5h-2.5M714.5 283.5h-2.5M714.5 273.5h-2.5M714.5 263.5h-2.5M714.5 253.5h-5M714.5 243.5h-2.5M714.5 233.5h-2.5M714.5 223.5h-2.5M714.5 213.5h-2.5M714.5 203.5h-5M714.5 193.5h-2.5M714.5 183.5h-2.5M714.5 173.5h-2.5M714.5 163.5h-2.5M714.5 153.5h-5M714.5 143.5h-2.5M714.5 133.5h-2.5M714.5 123.5h-2.5M714.5 113.5h-2.5M714.5 103.5h-5M714.5 93.5h-2.5M714.5 83.5h-2.5M714.5 73.5h-2.5" stroke="#444" stroke-width="1" fill="none"/>
<text x="786.5" y="421.6" text-anchor="middle">7500</text>
<text x="858" y="421.6" text-anchor="middle">8000</text>
<text x="929.6" y="421.6" text-anchor="middle">8500</text>
<text x="1001.1" y="421.6" text-anchor="middle">9000</text>
<text x="1072.7" y="421.6" text-anchor="middle">9500</text>
<text x="1144.2" y="421.6" text-anchor="middle">10000</text>
<text x="1215.8" y="421.6" text-anchor="middle">10500</text>
<text x="1287.3" y="421.6" text-anchor="middle">11000</text>
<text x="706.5" y="407.2" text-anchor="end">0</text>
<text x="706.5" y="357.2" text-anchor="end">5000</text>
<text x="706.5" y="307.2" text-anchor="end">10000</text>
<text x="706.5" y="257.2" text-anchor="end">15000</text>
<text x="706.5" y="207.2" text-anchor="end">20000</text>
<text x="706.5" y="157.2" text-anchor="end">25000</text>
<text x="706.5" y="107.2" text-anchor="end">30000</text>
<text x="1287" y="434.2" text-anchor="end">m/z</text>
<text transform="translate(671.3 87) rotate(-90)" fill="#5a5a5a">a.i.</text>
<text x="1272.8" y="86.7" text-anchor="end" fill="#3a3aff">non-KPC</text>
<text x="1272.8" y="101.9" text-anchor="end" fill="#ff3030">KPC</text>
<path d="M1277 82.7L1280 79.7L1283 82.7L1280 85.7Z" fill="#0000ff"/>
<path d="M1277 97.9L1280 94.9L1283 97.9L1280 100.9Z" fill="#ff0000"/>
<rect x="714.5" y="30.5" width="574" height="34" fill="#fff"/>
<rect x="723" y="31" width="3" height="16.5" fill="#f6f6f6"/>
<rect x="726" y="31" width="2" height="16.5" fill="#f0f0f0"/>
<rect x="728" y="31" width="2" height="16.5" fill="#eaeaea"/>
<rect x="730" y="31" width="1" height="16.5" fill="#e4e4e4"/>
<rect x="731" y="31" width="2" height="16.5" fill="#dedede"/>
<rect x="733" y="31" width="1" height="16.5" fill="#d8d8d8"/>
<rect x="734" y="31" width="2" height="16.5" fill="#d2d2d2"/>
<rect x="736" y="31" width="1" height="16.5" fill="#bababa"/>
<rect x="737" y="31" width="2" height="16.5" fill="#606060"/>
<rect x="739" y="31" width="1" height="16.5" fill="#aeaeae"/>
<rect x="740" y="31" width="1" height="16.5" fill="#c6c6c6"/>
<rect x="741" y="31" width="8" height="16.5" fill="#c0c0c0"/>
<rect x="749" y="31" width="1" height="16.5" fill="#a8a8a8"/>
<rect x="750" y="31" width="1" height="16.5" fill="#7e7e7e"/>
<rect x="751" y="31" width="1" height="16.5" fill="#a2a2a2"/>
<rect x="752" y="31" width="2" height="16.5" fill="#c6c6c6"/>
<rect x="754" y="31" width="4" height="16.5" fill="#cccccc"/>
<rect x="758" y="31" width="3" height="16.5" fill="#d2d2d2"/>
<rect x="761" y="31" width="4" height="16.5" fill="#d8d8d8"/>
<rect x="765" y="31" width="4" height="16.5" fill="#dedede"/>
<rect x="769" y="31" width="1" height="16.5" fill="#d8d8d8"/>
<rect x="770" y="31" width="1" height="16.5" fill="#cccccc"/>
<rect x="771" y="31" width="1" height="16.5" fill="#d8d8d8"/>
<rect x="772" y="31" width="4" height="16.5" fill="#e4e4e4"/>
<rect x="776" y="31" width="1" height="16.5" fill="#d8d8d8"/>
<rect x="777" y="31" width="2" height="16.5" fill="#eaeaea"/>
<rect x="779" y="31" width="4" height="16.5" fill="#f0f0f0"/>
<rect x="783" y="31" width="15" height="16.5" fill="#f6f6f6"/>
<rect x="798" y="31" width="2" height="16.5" fill="#f0f0f0"/>
<rect x="800" y="31" width="2" height="16.5" fill="#eaeaea"/>
<rect x="802" y="31" width="2" height="16.5" fill="#e4e4e4"/>
<rect x="804" y="31" width="1" height="16.5" fill="#dedede"/>
<rect x="805" y="31" width="1" height="16.5" fill="#d8d8d8"/>
<rect x="806" y="31" width="1" height="16.5" fill="#d2d2d2"/>
<rect x="807" y="31" width="1" height="16.5" fill="#cccccc"/>
<rect x="808" y="31" width="1" height="16.5" fill="#c6c6c6"/>
<rect x="809" y="31" width="1" height="16.5" fill="#bababa"/>
<rect x="810" y="31" width="1" height="16.5" fill="#b4b4b4"/>
<rect x="811" y="31" width="1" height="16.5" fill="#aeaeae"/>
<rect x="812" y="31" width="1" height="16.5" fill="#a8a8a8"/>
<rect x="813" y="31" width="1" height="16.5" fill="#a2a2a2"/>
<rect x="814" y="31" width="1" height="16.5" fill="#909090"/>
<rect x="815" y="31" width="1" height="16.5" fill="#242424"/>
<rect x="816" y="31" width="1" height="16.5" fill="#141414"/>
<rect x="817" y="31" width="1" height="16.5" fill="#545454"/>
<rect x="818" y="31" width="2" height="16.5" fill="#909090"/>
<rect x="820" y="31" width="1" height="16.5" fill="#848484"/>
<rect x="821" y="31" width="1" height="16.5" fill="#909090"/>
<rect x="822" y="31" width="1" height="16.5" fill="#969696"/>
<rect x="823" y="31" width="2" height="16.5" fill="#9c9c9c"/>
<rect x="825" y="31" width="1" height="16.5" fill="#a2a2a2"/>
<rect x="826" y="31" width="1" height="16.5" fill="#a8a8a8"/>
<rect x="827" y="31" width="1" height="16.5" fill="#aeaeae"/>
<rect x="828" y="31" width="1" height="16.5" fill="#b4b4b4"/>
<rect x="829" y="31" width="1" height="16.5" fill="#bababa"/>
<rect x="830" y="31" width="1" height="16.5" fill="#c0c0c0"/>
<rect x="831" y="31" width="1" height="16.5" fill="#c6c6c6"/>
<rect x="832" y="31" width="1" height="16.5" fill="#cccccc"/>
<rect x="833" y="31" width="1" height="16.5" fill="#d2d2d2"/>
<rect x="834" y="31" width="2" height="16.5" fill="#d8d8d8"/>
<rect x="836" y="31" width="1" height="16.5" fill="#dedede"/>
<rect x="837" y="31" width="2" height="16.5" fill="#e4e4e4"/>
<rect x="839" y="31" width="2" height="16.5" fill="#eaeaea"/>
<rect x="841" y="31" width="3" height="16.5" fill="#f0f0f0"/>
<rect x="844" y="31" width="5" height="16.5" fill="#f6f6f6"/>
<rect x="875" y="31" width="1" height="16.5" fill="#f6f6f6"/>
<rect x="886" y="31" width="4" height="16.5" fill="#f6f6f6"/>
<rect x="890" y="31" width="2" height="16.5" fill="#f0f0f0"/>
<rect x="892" y="31" width="2" height="16.5" fill="#eaeaea"/>
<rect x="894" y="31" width="2" height="16.5" fill="#e4e4e4"/>
<rect x="896" y="31" width="2" height="16.5" fill="#dedede"/>
<rect x="898" y="31" width="2" height="16.5" fill="#d8d8d8"/>
<rect x="900" y="31" width="1" height="16.5" fill="#d2d2d2"/>
<rect x="901" y="31" width="1" height="16.5" fill="#c0c0c0"/>
<rect x="902" y="31" width="1" height="16.5" fill="#aeaeae"/>
<rect x="903" y="31" width="1" height="16.5" fill="#c0c0c0"/>
<rect x="904" y="31" width="2" height="16.5" fill="#c6c6c6"/>
<rect x="906" y="31" width="4" height="16.5" fill="#c0c0c0"/>
<rect x="910" y="31" width="1" height="16.5" fill="#969696"/>
<rect x="911" y="31" width="1" height="16.5" fill="#a2a2a2"/>
<rect x="912" y="31" width="1" height="16.5" fill="#bababa"/>
<rect x="913" y="31" width="1" height="16.5" fill="#c6c6c6"/>
<rect x="914" y="31" width="2" height="16.5" fill="#c0c0c0"/>
<rect x="916" y="31" width="2" height="16.5" fill="#d2d2d2"/>
<rect x="918" y="31" width="2" height="16.5" fill="#d8d8d8"/>
<rect x="920" y="31" width="1" height="16.5" fill="#dedede"/>
<rect x="921" y="31" width="2" height="16.5" fill="#e4e4e4"/>
<rect x="923" y="31" width="2" height="16.5" fill="#eaeaea"/>
<rect x="925" y="31" width="3" height="16.5" fill="#f0f0f0"/>
<rect x="928" y="31" width="4" height="16.5" fill="#f6f6f6"/>
<rect x="971" y="31" width="4" height="16.5" fill="#f6f6f6"/>
<rect x="975" y="31" width="3" height="16.5" fill="#f0f0f0"/>
<rect x="978" y="31" width="3" height="16.5" fill="#eaeaea"/>
<rect x="981" y="31" width="1" height="16.5" fill="#e4e4e4"/>
<rect x="982" y="31" width="1" height="16.5" fill="#d8d8d8"/>
<rect x="983" y="31" width="1" height="16.5" fill="#c6c6c6"/>
<rect x="984" y="31" width="1" height="16.5" fill="#d8d8d8"/>
<rect x="985" y="31" width="1" height="16.5" fill="#dedede"/>
<rect x="986" y="31" width="1" height="16.5" fill="#d8d8d8"/>
<rect x="987" y="31" width="1" height="16.5" fill="#dedede"/>
<rect x="988" y="31" width="11" height="16.5" fill="#e4e4e4"/>
<rect x="999" y="31" width="1" height="16.5" fill="#d8d8d8"/>
<rect x="1000" y="31" width="1" height="16.5" fill="#c6c6c6"/>
<rect x="1001" y="31" width="1" height="16.5" fill="#d8d8d8"/>
<rect x="1002" y="31" width="1" height="16.5" fill="#dedede"/>
<rect x="1003" y="31" width="11" height="16.5" fill="#e4e4e4"/>
<rect x="1014" y="31" width="5" height="16.5" fill="#dedede"/>
<rect x="1019" y="31" width="1" height="16.5" fill="#d8d8d8"/>
<rect x="1020" y="31" width="1" height="16.5" fill="#cccccc"/>
<rect x="1021" y="31" width="1" height="16.5" fill="#bababa"/>
<rect x="1022" y="31" width="1" height="16.5" fill="#d8d8d8"/>
<rect x="1023" y="31" width="3" height="16.5" fill="#e4e4e4"/>
<rect x="1026" y="31" width="5" height="16.5" fill="#eaeaea"/>
<rect x="1031" y="31" width="8" height="16.5" fill="#f0f0f0"/>
<rect x="1039" y="31" width="1" height="16.5" fill="#eaeaea"/>
<rect x="1040" y="31" width="1" height="16.5" fill="#dedede"/>
<rect x="1041" y="31" width="2" height="16.5" fill="#eaeaea"/>
<rect x="1043" y="31" width="10" height="16.5" fill="#f0f0f0"/>
<rect x="1053" y="31" width="2" height="16.5" fill="#eaeaea"/>
<rect x="1055" y="31" width="2" height="16.5" fill="#e4e4e4"/>
<rect x="1057" y="31" width="1" height="16.5" fill="#dedede"/>
<rect x="1058" y="31" width="1" height="16.5" fill="#d8d8d8"/>
<rect x="1059" y="31" width="1" height="16.5" fill="#d2d2d2"/>
<rect x="1060" y="31" width="1" height="16.5" fill="#cccccc"/>
<rect x="1061" y="31" width="1" height="16.5" fill="#c6c6c6"/>
<rect x="1062" y="31" width="1" height="16.5" fill="#c0c0c0"/>
<rect x="1063" y="31" width="1" height="16.5" fill="#bababa"/>
<rect x="1064" y="31" width="1" height="16.5" fill="#b4b4b4"/>
<rect x="1065" y="31" width="1" height="16.5" fill="#a8a8a8"/>
<rect x="1066" y="31" width="1" height="16.5" fill="#a2a2a2"/>
<rect x="1067" y="31" width="1" height="16.5" fill="#9c9c9c"/>
<rect x="1068" y="31" width="1" height="16.5" fill="#7e7e7e"/>
<rect x="1069" y="31" width="1" height="16.5" fill="#303030"/>
<rect x="1070" y="31" width="1" height="16.5" fill="#3c3c3c"/>
<rect x="1071" y="31" width="1" height="16.5" fill="#727272"/>
<rect x="1072" y="31" width="1" height="16.5" fill="#7e7e7e"/>
<rect x="1073" y="31" width="1" height="16.5" fill="#848484"/>
<rect x="1074" y="31" width="2" height="16.5" fill="#7e7e7e"/>
<rect x="1076" y="31" width="1" height="16.5" fill="#848484"/>
<rect x="1077" y="31" width="1" height="16.5" fill="#787878"/>
<rect x="1078" y="31" width="1" height="16.5" fill="#484848"/>
<rect x="1079" y="31" width="1" height="16.5" fill="#5a5a5a"/>
<rect x="1080" y="31" width="1" height="16.5" fill="#909090"/>
<rect x="1081" y="31" width="1" height="16.5" fill="#969696"/>
<rect x="1082" y="31" width="1" height="16.5" fill="#9c9c9c"/>
<rect x="1083" y="31" width="1" height="16.5" fill="#a2a2a2"/>
<rect x="1084" y="31" width="1" height="16.5" fill="#a8a8a8"/>
<rect x="1085" y="31" width="1" height="16.5" fill="#aeaeae"/>
<rect x="1086" y="31" width="1" height="16.5" fill="#b4b4b4"/>
<rect x="1087" y="31" width="1" height="16.5" fill="#bababa"/>
<rect x="1088" y="31" width="1" height="16.5" fill="#c0c0c0"/>
<rect x="1089" y="31" width="1" height="16.5" fill="#c6c6c6"/>
<rect x="1090" y="31" width="1" height="16.5" fill="#cccccc"/>
<rect x="1091" y="31" width="1" height="16.5" fill="#d2d2d2"/>
<rect x="1092" y="31" width="2" height="16.5" fill="#d8d8d8"/>
<rect x="1094" y="31" width="1" height="16.5" fill="#dedede"/>
<rect x="1095" y="31" width="2" height="16.5" fill="#e4e4e4"/>
<rect x="1097" y="31" width="3" height="16.5" fill="#eaeaea"/>
<rect x="1100" y="31" width="3" height="16.5" fill="#f0f0f0"/>
<rect x="1103" y="31" width="6" height="16.5" fill="#f6f6f6"/>
<rect x="1147" y="31" width="6" height="16.5" fill="#f6f6f6"/>
<rect x="1153" y="31" width="1" height="16.5" fill="#f0f0f0"/>
<rect x="1154" y="31" width="1" height="16.5" fill="#e4e4e4"/>
<rect x="1155" y="31" width="1" height="16.5" fill="#d8d8d8"/>
<rect x="1156" y="31" width="1" height="16.5" fill="#e4e4e4"/>
<rect x="1157" y="31" width="5" height="16.5" fill="#f0f0f0"/>
<rect x="1162" y="31" width="14" height="16.5" fill="#f6f6f6"/>
<rect x="1176" y="31" width="5" height="16.5" fill="#f0f0f0"/>
<rect x="1181" y="31" width="2" height="16.5" fill="#eaeaea"/>
<rect x="1183" y="31" width="1" height="16.5" fill="#e4e4e4"/>
<rect x="1184" y="31" width="1" height="16.5" fill="#cccccc"/>
<rect x="1185" y="31" width="1" height="16.5" fill="#c6c6c6"/>
<rect x="1186" y="31" width="1" height="16.5" fill="#dedede"/>
<rect x="1187" y="31" width="1" height="16.5" fill="#e4e4e4"/>
<rect x="1188" y="31" width="2" height="16.5" fill="#eaeaea"/>
<rect x="1190" y="31" width="4" height="16.5" fill="#f0f0f0"/>
<rect x="1194" y="31" width="4" height="16.5" fill="#f6f6f6"/>
<rect x="725" y="47.5" width="3" height="16.5" fill="#f6f6f6"/>
<rect x="728" y="47.5" width="2" height="16.5" fill="#f0f0f0"/>
<rect x="730" y="47.5" width="2" height="16.5" fill="#eaeaea"/>
<rect x="732" y="47.5" width="2" height="16.5" fill="#e4e4e4"/>
<rect x="734" y="47.5" width="2" height="16.5" fill="#dedede"/>
<rect x="736" y="47.5" width="1" height="16.5" fill="#d2d2d2"/>
<rect x="737" y="47.5" width="1" height="16.5" fill="#a2a2a2"/>
<rect x="738" y="47.5" width="1" height="16.5" fill="#aeaeae"/>
<rect x="739" y="47.5" width="3" height="16.5" fill="#cccccc"/>
<rect x="742" y="47.5" width="4" height="16.5" fill="#c6c6c6"/>
<rect x="746" y="47.5" width="2" height="16.5" fill="#b4b4b4"/>
<rect x="748" y="47.5" width="1" height="16.5" fill="#c0c0c0"/>
<rect x="749" y="47.5" width="1" height="16.5" fill="#9c9c9c"/>
<rect x="750" y="47.5" width="1" height="16.5" fill="#727272"/>
<rect x="751" y="47.5" width="1" height="16.5" fill="#b4b4b4"/>
<rect x="752" y="47.5" width="2" height="16.5" fill="#c6c6c6"/>
<rect x="754" y="47.5" width="2" height="16.5" fill="#cccccc"/>
<rect x="756" y="47.5" width="2" height="16.5" fill="#d2d2d2"/>
<rect x="758" y="47.5" width="2" height="16.5" fill="#d8d8d8"/>
<rect x="760" y="47.5" width="1" height="16.5" fill="#dedede"/>
<rect x="761" y="47.5" width="1" height="16.5" fill="#d8d8d8"/>
<rect x="762" y="47.5" width="2" height="16.5" fill="#e4e4e4"/>
<rect x="764" y="47.5" width="4" height="16.5" fill="#eaeaea"/>
<rect x="768" y="47.5" width="3" height="16.5" fill="#f0f0f0"/>
<rect x="771" y="47.5" width="17" height="16.5" fill="#f6f6f6"/>
<rect x="788" y="47.5" width="3" height="16.5" fill="#f0f0f0"/>
<rect x="791" y="47.5" width="2" height="16.5" fill="#eaeaea"/>
<rect x="793" y="47.5" width="1" height="16.5" fill="#e4e4e4"/>
<rect x="794" y="47.5" width="1" height="16.5" fill="#dedede"/>
<rect x="795" y="47.5" width="1" height="16.5" fill="#c6c6c6"/>
<rect x="796" y="47.5" width="1" height="16.5" fill="#cccccc"/>
<rect x="797" y="47.5" width="1" height="16.5" fill="#b4b4b4"/>
<rect x="798" y="47.5" width="1" height="16.5" fill="#cccccc"/>
<rect x="799" y="47.5" width="2" height="16.5" fill="#dedede"/>
<rect x="801" y="47.5" width="5" height="16.5" fill="#d8d8d8"/>
<rect x="806" y="47.5" width="2" height="16.5" fill="#d2d2d2"/>
<rect x="808" y="47.5" width="1" height="16.5" fill="#cccccc"/>
<rect x="809" y="47.5" width="1" height="16.5" fill="#d2d2d2"/>
<rect x="810" y="47.5" width="5" height="16.5" fill="#d8d8d8"/>
<rect x="815" y="47.5" width="1" height="16.5" fill="#bababa"/>
<rect x="816" y="47.5" width="1" height="16.5" fill="#c6c6c6"/>
<rect x="817" y="47.5" width="2" height="16.5" fill="#d8d8d8"/>
<rect x="819" y="47.5" width="1" height="16.5" fill="#dedede"/>
<rect x="820" y="47.5" width="1" height="16.5" fill="#d8d8d8"/>
<rect x="821" y="47.5" width="1" height="16.5" fill="#c6c6c6"/>
<rect x="822" y="47.5" width="1" height="16.5" fill="#dedede"/>
<rect x="823" y="47.5" width="3" height="16.5" fill="#e4e4e4"/>
<rect x="826" y="47.5" width="4" height="16.5" fill="#eaeaea"/>
<rect x="830" y="47.5" width="5" height="16.5" fill="#f0f0f0"/>
<rect x="835" y="47.5" width="7" height="16.5" fill="#f6f6f6"/>
<rect x="842" y="47.5" width="2" height="16.5" fill="#eaeaea"/>
<rect x="844" y="47.5" width="1" height="16.5" fill="#f0f0f0"/>
<rect x="845" y="47.5" width="3" height="16.5" fill="#f6f6f6"/>
<rect x="855" y="47.5" width="9" height="16.5" fill="#f6f6f6"/>
<rect x="864" y="47.5" width="1" height="16.5" fill="#e4e4e4"/>
<rect x="865" y="47.5" width="1" height="16.5" fill="#c6c6c6"/>
<rect x="866" y="47.5" width="1" height="16.5" fill="#d2d2d2"/>
<rect x="867" y="47.5" width="1" height="16.5" fill="#eaeaea"/>
<rect x="868" y="47.5" width="7" height="16.5" fill="#f6f6f6"/>
<rect x="895" y="47.5" width="3" height="16.5" fill="#f6f6f6"/>
<rect x="898" y="47.5" width="3" height="16.5" fill="#f0f0f0"/>
<rect x="901" y="47.5" width="2" height="16.5" fill="#eaeaea"/>
<rect x="903" y="47.5" width="2" height="16.5" fill="#e4e4e4"/>
<rect x="905" y="47.5" width="2" height="16.5" fill="#dedede"/>
<rect x="907" y="47.5" width="1" height="16.5" fill="#d8d8d8"/>
<rect x="908" y="47.5" width="1" height="16.5" fill="#d2d2d2"/>
<rect x="909" y="47.5" width="1" height="16.5" fill="#c6c6c6"/>
<rect x="910" y="47.5" width="1" height="16.5" fill="#9c9c9c"/>
<rect x="911" y="47.5" width="1" height="16.5" fill="#b4b4b4"/>
<rect x="912" y="47.5" width="4" height="16.5" fill="#d2d2d2"/>
<rect x="916" y="47.5" width="3" height="16.5" fill="#dedede"/>
<rect x="919" y="47.5" width="2" height="16.5" fill="#e4e4e4"/>
<rect x="921" y="47.5" width="2" height="16.5" fill="#eaeaea"/>
<rect x="923" y="47.5" width="3" height="16.5" fill="#f0f0f0"/>
<rect x="926" y="47.5" width="3" height="16.5" fill="#f6f6f6"/>
<rect x="958" y="47.5" width="5" height="16.5" fill="#f6f6f6"/>
<rect x="963" y="47.5" width="1" height="16.5" fill="#f0f0f0"/>
<rect x="964" y="47.5" width="1" height="16.5" fill="#dedede"/>
<rect x="965" y="47.5" width="1" height="16.5" fill="#eaeaea"/>
<rect x="966" y="47.5" width="8" height="16.5" fill="#f6f6f6"/>
<rect x="974" y="47.5" width="4" height="16.5" fill="#f0f0f0"/>
<rect x="978" y="47.5" width="4" height="16.5" fill="#eaeaea"/>
<rect x="982" y="47.5" width="1" height="16.5" fill="#d8d8d8"/>
<rect x="983" y="47.5" width="1" height="16.5" fill="#c0c0c0"/>
<rect x="984" y="47.5" width="1" height="16.5" fill="#d2d2d2"/>
<rect x="985" y="47.5" width="1" height="16.5" fill="#d8d8d8"/>
<rect x="986" y="47.5" width="1" height="16.5" fill="#cccccc"/>
<rect x="987" y="47.5" width="1" height="16.5" fill="#dedede"/>
<rect x="988" y="47.5" width="8" height="16.5" fill="#eaeaea"/>
<rect x="996" y="47.5" width="3" height="16.5" fill="#f0f0f0"/>
<rect x="999" y="47.5" width="1" height="16.5" fill="#eaeaea"/>
<rect x="1000" y="47.5" width="1" height="16.5" fill="#dedede"/>
<rect x="1001" y="47.5" width="1" height="16.5" fill="#eaeaea"/>
<rect x="1002" y="47.5" width="1" height="16.5" fill="#f0f0f0"/>
<rect x="1003" y="47.5" width="7" height="16.5" fill="#eaeaea"/>
<rect x="1010" y="47.5" width="3" height="16.5" fill="#e4e4e4"/>
<rect x="1013" y="47.5" width="1" height="16.5" fill="#d2d2d2"/>
<rect x="1014" y="47.5" width="1" height="16.5" fill="#c6c6c6"/>
<rect x="1015" y="47.5" width="1" height="16.5" fill="#d8d8d8"/>
<rect x="1016" y="47.5" width="4" height="16.5" fill="#e4e4e4"/>
<rect x="1020" y="47.5" width="1" height="16.5" fill="#d8d8d8"/>
<rect x="1021" y="47.5" width="1" height="16.5" fill="#c0c0c0"/>
<rect x="1022" y="47.5" width="4" height="16.5" fill="#e4e4e4"/>
<rect x="1026" y="47.5" width="2" height="16.5" fill="#eaeaea"/>
<rect x="1028" y="47.5" width="1" height="16.5" fill="#d8d8d8"/>
<rect x="1029" y="47.5" width="1" height="16.5" fill="#cccccc"/>
<rect x="1030" y="47.5" width="1" height="16.5" fill="#e4e4e4"/>
<rect x="1031" y="47.5" width="5" height="16.5" fill="#f0f0f0"/>
<rect x="1036" y="47.5" width="5" height="16.5" fill="#f6f6f6"/>
<rect x="1041" y="47.5" width="1" height="16.5" fill="#eaeaea"/>
<rect x="1042" y="47.5" width="1" height="16.5" fill="#f0f0f0"/>
<rect x="1043" y="47.5" width="13" height="16.5" fill="#f6f6f6"/>
<rect x="1056" y="47.5" width="3" height="16.5" fill="#f0f0f0"/>
<rect x="1059" y="47.5" width="2" height="16.5" fill="#eaeaea"/>
<rect x="1061" y="47.5" width="2" height="16.5" fill="#e4e4e4"/>
<rect x="1063" y="47.5" width="2" height="16.5" fill="#dedede"/>
<rect x="1065" y="47.5" width="2" height="16.5" fill="#d8d8d8"/>
<rect x="1067" y="47.5" width="1" height="16.5" fill="#d2d2d2"/>
<rect x="1068" y="47.5" width="1" height="16.5" fill="#bababa"/>
<rect x="1069" y="47.5" width="1" height="16.5" fill="#7e7e7e"/>
<rect x="1070" y="47.5" width="1" height="16.5" fill="#a8a8a8"/>
<rect x="1071" y="47.5" width="1" height="16.5" fill="#c6c6c6"/>
<rect x="1072" y="47.5" width="6" height="16.5" fill="#cccccc"/>
<rect x="1078" y="47.5" width="1" height="16.5" fill="#bababa"/>
<rect x="1079" y="47.5" width="1" height="16.5" fill="#cccccc"/>
<rect x="1080" y="47.5" width="2" height="16.5" fill="#d2d2d2"/>
<rect x="1082" y="47.5" width="1" height="16.5" fill="#d8d8d8"/>
<rect x="1083" y="47.5" width="2" height="16.5" fill="#dedede"/>
<rect x="1085" y="47.5" width="3" height="16.5" fill="#e4e4e4"/>
<rect x="1088" y="47.5" width="2" height="16.5" fill="#eaeaea"/>
<rect x="1090" y="47.5" width="3" height="16.5" fill="#f0f0f0"/>
<rect x="1093" y="47.5" width="3" height="16.5" fill="#f6f6f6"/>
<rect x="1152" y="47.5" width="2" height="16.5" fill="#f6f6f6"/>
<rect x="1154" y="47.5" width="1" height="16.5" fill="#f0f0f0"/>
<rect x="1155" y="47.5" width="1" height="16.5" fill="#eaeaea"/>
<rect x="1156" y="47.5" width="1" height="16.5" fill="#f0f0f0"/>
<rect x="1157" y="47.5" width="4" height="16.5" fill="#f6f6f6"/>
<rect x="1176" y="47.5" width="6" height="16.5" fill="#f6f6f6"/>
<rect x="1182" y="47.5" width="1" height="16.5" fill="#f0f0f0"/>
<rect x="1183" y="47.5" width="1" height="16.5" fill="#eaeaea"/>
<rect x="1184" y="47.5" width="1" height="16.5" fill="#dedede"/>
<rect x="1185" y="47.5" width="1" height="16.5" fill="#d8d8d8"/>
<rect x="1186" y="47.5" width="1" height="16.5" fill="#e4e4e4"/>
<rect x="1187" y="47.5" width="2" height="16.5" fill="#f0f0f0"/>
<rect x="1189" y="47.5" width="7" height="16.5" fill="#f6f6f6"/>
<rect x="1249" y="47.5" width="3" height="16.5" fill="#f6f6f6"/>
<rect x="1252" y="47.5" width="1" height="16.5" fill="#f0f0f0"/>
<rect x="1253" y="47.5" width="8" height="16.5" fill="#f6f6f6"/>
<rect x="1261" y="47.5" width="5" height="16.5" fill="#f0f0f0"/>
<rect x="1266" y="47.5" width="1" height="16.5" fill="#eaeaea"/>
<rect x="1267" y="47.5" width="1" height="16.5" fill="#e4e4e4"/>
<rect x="1268" y="47.5" width="1" height="16.5" fill="#dedede"/>
<rect x="1269" y="47.5" width="1" height="16.5" fill="#d2d2d2"/>
<rect x="1270" y="47.5" width="1" height="16.5" fill="#c6c6c6"/>
<rect x="1271" y="47.5" width="1" height="16.5" fill="#dedede"/>
<rect x="1272" y="47.5" width="4" height="16.5" fill="#f0f0f0"/>
<rect x="1276" y="47.5" width="4" height="16.5" fill="#f6f6f6"/>
<rect x="714.5" y="30.5" width="574" height="34" fill="none" stroke="#333" stroke-width="1"/>
<text x="1272.8" y="43.3" text-anchor="end" fill="#3a3aff">non-KPC</text>
<text x="1272.8" y="59.5" text-anchor="end" fill="#ff3030">KPC</text>
<path d="M1277 39.3L1280 36.3L1283 39.3L1280 42.3Z" fill="#0000ff"/>
<path d="M1277 55.5L1280 52.5L1283 55.5L1280 58.5Z" fill="#ff0000"/>
<text x="676" y="59.9" font-family="'Liberation Serif', 'Times New Roman', serif" font-weight="bold" font-size="41.5" fill="#000">B</text></g>
<g><rect x="58" y="455.4" width="579.5" height="4.9" fill="#fff" stroke="#333" stroke-width="1"/>
<rect x="345.25" y="454.9" width="128" height="5.9" fill="#000"/>
<rect x="644" y="506.3" width="4.4" height="333.2" fill="#fff" stroke="#333" stroke-width="1"/>
<rect x="643.5" y="779" width="5.4" height="61" fill="#000"/>
<path d="M61.5 506.3V839.5M132.5 506.3V839.5M204.5 506.3V839.5M276.5 506.3V839.5M347.5 506.3V839.5M419.5 506.3V839.5M490.5 506.3V839.5M562.5 506.3V839.5M633.5 506.3V839.5M58 813.5H637.5M58 787.5H637.5M58 761.5H637.5M58 735.5H637.5M58 709.5H637.5M58 683.5H637.5M58 657.5H637.5M58 631.5H637.5M58 605.5H637.5M58 579.5H637.5M58 553.5H637.5M58 528.5H637.5" stroke="#ebebeb" stroke-width="1" fill="none"/>
<path d="M58.98 837.4V839.2M59.92 837.7V839.2M60.88 837.7V839.2M61.83 838.1V839.2M62.77 837.6V839.2M63.73 837.4V839.2M64.67 837.4V839.2M65.62 837.5V839.2M66.58 837.4V838.4M67.53 837.6V838.5M68.47 836.8V838.2M69.42 837.1V838.1M70.38 835.9V837.8M71.33 834.6V836.5M72.28 833.2V835.7M73.22 829.1V833.2M74.17 822.8V829.1M75.12 804.2V822.8M76.08 754V804.2M77.03 609.5V754M77.97 600.3V703.6M78.92 703.6V738.3M79.88 738.3V762.8M80.83 762.8V784.6M81.78 784.6V798.5M82.72 798.5V806.1M83.67 805.5V807.7M84.62 807.7V809.8M85.58 809.6V810.6M86.53 804.5V810.2M87.47 788.1V804.5M88.42 771.1V788.1M89.38 772.2V788.4M90.33 785.8V790.1M91.28 758.8V785.8M92.22 692.2V758.8M93.17 669.9V710.9M94.12 710.9V774.7M95.07 774.7V799.3M96.03 799.3V815.1M96.97 815.1V825.2M97.92 824.8V830.6M98.88 830.6V833.5M99.82 833.5V835.2M100.78 834.4V836.7M101.72 835.3V837.2M102.67 836.7V837.6M103.62 836.5V837.6M104.57 836.5V837.7M105.53 836.9V837.9M106.47 835.7V838M107.42 836.7V837.9M108.38 837.2V838.2M109.32 835.9V837.9M110.28 835.9V837.8M111.22 836.8V837.8M112.17 835.8V837.5M113.12 836.3V837.3M114.07 835.4V837M115.03 833.3V836.1M115.97 829.8V833.6M116.92 818V829.8M117.88 817.4V824.1M118.82 824.1V826.2M119.78 821V825.8M120.72 809.6V821M121.67 782.4V809.6M122.62 730.4V782.4M123.58 729.4V745.6M124.52 732.3V747.2M125.47 694.1V732.3M126.42 701.1V768.8M127.38 768.8V808.3M128.32 808.3V821.5M129.27 821.5V827.5M130.22 827.5V831.9M131.18 831.7V833.7M132.12 833.7V834.8M133.07 834.3V835.2M134.02 831.9V834.6M134.97 822.3V832.5M135.93 819.2V825.4M136.88 825.4V833.3M137.82 833.3V836.2M138.77 835.8V836.9M139.72 836.4V837.7M140.68 837V838M141.62 835.2V838.2M142.57 835.2V838.3M143.52 837V838.4M144.47 835.6V839.2M145.43 837.6V839.2M146.38 837.4V839.2M147.32 837.6V838.5M148.27 837.7V839.2M149.22 837.8V839.2M150.18 837.3V839.2M151.12 837.5V839.2M152.07 837.4V839.2M153.02 837.4V839.2M153.97 837.4V838.4M154.93 836.2V838.3M155.88 836.2V838.3M156.82 836.4V837.9M157.77 835.3V837.7M158.72 832.5V836.2M159.68 824.2V832.5M160.62 825.6V833.4M161.57 833.4V836.1M162.52 834.2V836.1M163.47 832.8V835.9M164.43 822.2V832.8M165.38 822.2V830.3M166.32 830.3V834M167.27 832.7V834.3M168.22 830.7V834.1M169.18 822.9V830.7M170.12 813.8V822.9M171.07 783.9V813.8M172.02 779.5V805.1M172.97 805.1V825.7M173.93 825.7V832.6M174.88 832.6V835.5M175.82 835V836.5M176.77 835.8V837.3M177.72 835.9V837.6M178.68 836.4V837.6M179.62 836.7V837.9M180.57 836.7V837.9M181.52 836.5V838.1M182.47 836.4V837.9M183.43 836.4V837.7M184.38 835.4V837.2M185.32 831.3V836.1M186.27 814.7V832M187.22 804.3V822.9M188.17 822.9V834.5M189.12 834.2V836.4M190.07 835.4V836.8M191.03 832.3V836.2M191.97 829.9V833.9M192.92 829.9V834.4M193.88 834.4V837.1M194.82 836.8V837.7M195.78 836.9V838.2M196.72 836.5V837.9M197.67 837.4V838.4M198.62 836.9V838.2M199.57 837.1V838.3M200.53 836.6V838.2M201.47 836.4V838.1M202.42 835.8V837.6M203.38 833.5V837.1M204.32 832.1V834.9M205.28 827.6V832.1M206.22 828.8V833.6M207.17 833.3V836M208.12 835.8V836.7M209.07 835.8V836.9M210.03 835V836.6M210.97 832.9V836.2M211.92 822.9V833M212.88 808.3V822.9M213.82 811.3V830.2M214.78 830.2V834.7M215.72 834.7V836.9M216.67 835.9V837.3M217.62 836.5V837.7M218.57 836.6V838M219.53 837V838.1M220.47 837.2V838.1M221.42 836.7V837.9M222.38 836.4V837.8M223.32 836.4V838M224.28 836.6V838M225.22 836.5V837.8M226.17 836.5V837.8M227.12 836.5V837.5M228.07 836V837.1M229.03 835.3V836.8M229.97 834.5V836.5M230.92 831.7V835.1M231.88 827.6V832.6M232.82 819V827.6M233.78 812V819M234.72 806.8V812M235.67 805.1V806.9M236.62 805.8V807.4M237.57 802.3V807.3M238.53 790.8V802.3M239.47 753.6V790.8M240.42 726.6V753.6M241.38 729.2V754.9M242.32 751.8V759.1M243.27 726V751.8M244.22 727V761M245.17 761V798.8M246.12 798.8V813.6M247.07 813.6V822.1M248.02 821.6V822.6M248.97 818.2V822.5M249.92 821.3V826.8M250.88 826.8V831.6M251.82 831.5V833.2M252.77 832V833.8M253.72 830.6V833.7M254.67 830.3V831.7M255.62 831.7V833.5M256.57 832.9V834.5M257.52 833.8V834.7M258.48 832V834.1M259.42 830.2V832M260.38 826.3V830.2M261.32 816.7V826.3M262.27 803V816.7M263.23 772.2V803M264.17 709.1V772.2M265.12 649.7V709.1M266.07 649.7V727.1M267.02 727.1V772.4M267.98 772.4V792.5M268.92 792.5V809M269.88 809V820.8M270.82 820.8V827M271.77 827V831.6M272.73 831.6V833.7M273.67 833.2V835.4M274.62 834.2V836.1M275.57 835.9V836.9M276.52 836.2V837.3M277.48 836.6V837.6M278.42 835.9V837.6M279.38 836.2V837.6M280.32 835.5V837.4M281.27 834.9V836.9M282.23 831.8V835.8M283.17 830.5V831.8M284.12 831.7V835.1M285.07 834.8V835.9M286.02 832.1V835.2M286.98 820.2V832.1M287.92 820.2V829.5M288.88 829.5V835.8M289.82 835.2V837.1M290.77 836.7V837.7M291.73 837V838M292.67 837.2V838.2M293.62 836.6V838.2M294.57 837.4V838.3M295.52 837.3V838.3M296.48 836.9V838.3M297.42 837.1V838.3M298.38 836.9V838.2M299.32 836.7V838.2M300.27 835.9V838M301.23 835.9V837.7M302.17 836.6V837.9M303.12 836.7V837.7M304.07 835.7V837.5M305.02 835.7V836.9M305.98 835.1V836.4M306.92 834.7V836M307.88 832.2V834.7M308.82 828.3V832.9M309.77 822.2V828.3M310.73 820.5V822.4M311.67 813.2V820.6M312.62 792.2V813.3M313.57 745.3V792.2M314.52 693.1V745.3M315.47 693.2V740.7M316.43 740.7V790.5M317.38 790.5V812M318.32 812V823.5M319.27 823V829.4M320.22 829.4V832.9M321.18 832.2V835M322.12 834.6V836M323.07 835.6V836.6M324.02 835.8V837.2M324.97 836V837.4M325.93 836.9V837.8M326.88 837V838M327.82 837V838M328.77 836.7V838.2M329.72 837.4V838.3M330.68 836.4V838.2M331.62 837V838.2M332.57 837.3V838.4M333.52 837V838.4M334.47 836.5V838.3M335.43 837.3V838.3M336.38 837.9V839.2M337.32 836.5V839.2M338.27 836.7V838.3M339.22 837.3V839.2M340.18 837.3V838.4M341.12 836.7V838.3M342.07 837.2V838.2M343.02 836.7V837.7M343.97 834.7V837.7M344.93 835.4V837.3M345.88 833.1V835.9M346.82 827.1V833.1M347.77 814V827.1M348.72 800.9V814M349.68 801.3V813.1M350.62 813.1V815.1M351.57 811.9V819.8M352.52 819.8V830M353.47 829.9V833.6M354.43 833.6V835.5M355.38 834.4V836.2M356.32 834.2V836.1M357.27 830.8V834.4M358.22 817.8V830.8M359.18 809.4V817.8M360.12 815V830.1M361.07 829.4V835.2M362.02 834.9V836.9M362.97 835.7V837.4M363.93 836.6V837.8M364.88 836.9V838.2M365.82 837.1V838.4M366.77 837V838.4M367.72 837.5V839.2M368.68 836.9V839.2M369.62 837.3V839.2M370.57 837.4V839.2M371.52 837.6V839.2M372.47 837.7V839.2M373.43 837.9V839.2M374.38 837.5V839.2M375.32 836.7V839.2M376.27 836.6V839.2M377.22 837.8V839.2M378.18 837.6V839.2M379.12 837.5V839.2M380.07 837.4V838.4M381.02 837.4V839.2M381.97 837.7V839.2M382.93 837.9V839.2M383.88 837.2V838.2M384.82 837.1V838M385.77 835.9V837.7M386.72 834.9V836.7M387.68 830.1V834.9M388.62 820.5V830.1M389.57 821.1V831.3M390.52 830.2V835M391.47 834.5V836.2M392.43 835.8V836.9M393.38 835.6V836.9M394.32 834.7V836M395.27 833.3V835.3M396.22 829.3V833.3M397.18 824.4V830.3M398.12 813.8V824.4M399.07 788.5V813.8M400.02 746.5V788.5M400.97 746.5V773.6M401.93 773.6V802.5M402.88 802.5V813.2M403.82 811.8V813.7M404.77 802.6V812.3M405.72 802.2V816.4M406.68 816.4V828.4M407.62 828.4V832.9M408.57 832V835.6M409.52 835V836.6M410.47 836.5V837.4M411.43 836.8V837.8M412.38 836.2V838.1M413.32 837.1V838.3M414.27 837.4V838.3M415.22 837.1V839.2M416.18 837.5V839.2M417.12 836.7V839.2M418.07 837.3V839.2M419.02 837.2V839.2M419.97 837.8V839.2M420.93 837.5V839.2M421.88 837.6V839.2M422.82 837.5V839.2M423.77 837.8V839.2M424.72 837.7V839.2M425.67 837.8V839.2M426.62 837.6V839.2M427.57 837.5V839.2M428.52 837.6V839.2M429.47 837.2V839.2M430.42 837.4V839.2M431.38 837.6V839.2M432.32 837.3V839.2M433.27 837.9V839.2M434.22 837.2V839.2M435.17 837.2V839.2M436.12 837.2V839.2M437.07 836.8V839.2M438.02 836.9V839.2M438.97 836.9V839.2M439.92 836.5V838.2M440.88 836.5V837.5M441.82 834.7V836.9M442.77 830.1V834.7M443.72 824.6V830.1M444.67 824.6V830.7M445.62 830.7V835.5M446.57 834V837.1M447.52 836.5V837.8M448.47 837.4V838.3M449.42 837.3V839.2M450.38 837.3V839.2M451.32 837.8V839.2M452.27 837.6V839.2M453.22 837.8V839.2M454.17 838.1V839.2M455.12 837.6V839.2M456.07 836.8V839.2M457.02 837.6V839.2M458.92 838.1V839.2M459.88 837.7V839.2M460.82 837.5V839.2M461.77 837.3V839.2M462.72 837.7V839.2M463.67 837.3V839.2M464.62 838.1V839.2M465.57 838.1V839.2M466.52 837.9V839.2M467.47 837.9V839.2M468.42 837.7V839.2M469.38 838.3V839.2M470.32 838.2V839.2M471.27 837.1V839.2M472.22 837.9V839.2M473.17 837.8V839.2M474.12 837.8V839.2M475.07 837.5V839.2M476.02 837.8V839.2M476.97 838V839.2M477.92 837.9V839.2M478.88 838.2V839.2M479.82 838V839.2M480.77 838V839.2M481.72 837.7V839.2M482.67 838.2V839.2M483.62 837.8V839.2M484.57 836.8V839.2M485.52 837.7V839.2M486.47 838V839.2M487.42 838V839.2M488.38 838V839.2M489.32 838.3V839.2M490.27 838.1V839.2M491.22 838.2V839.2M492.17 838.1V839.2M493.12 838V839.2M494.07 837.8V839.2M495.02 837.5V839.2M495.97 837.5V839.2M496.92 837.3V839.2M497.88 838.3V839.2M498.82 838.1V839.2M499.77 838V839.2M500.72 837.9V839.2M501.67 837.8V839.2M502.62 837.4V839.2M503.57 838.2V839.2M504.52 836.5V839.2M505.47 836.9V839.2M506.42 837.6V839.2M507.38 838.1V839.2M508.32 837.5V839.2M509.27 837.6V839.2M510.22 837.9V839.2M511.17 837.9V839.2M513.08 838.2V839.2M514.02 838.2V839.2M514.97 837.7V839.2M515.92 837.6V839.2M516.88 837.6V839.2M517.83 837.6V839.2M518.77 836.7V839.2M519.72 837.4V839.2M520.67 837.7V839.2M521.62 838V839.2M522.58 838.2V839.2M523.52 837.6V839.2M524.47 838V839.2M525.42 838V839.2M526.38 837.3V839.2M527.33 837.2V839.2M528.27 837.9V839.2M529.22 836.9V839.2M530.17 837.8V839.2M531.12 837.4V839.2M532.08 837.1V839.2M533.02 837.1V839.2M533.97 837.1V839.2M534.92 837.4V839.2M535.88 837.4V838.3M536.83 837.6V838.5M537.77 836.8V838.1M538.72 836.5V837.9M539.67 836.5V837.7M540.62 835.5V837M541.58 834.2V836.5M542.52 832V835.3M543.47 824.2V832.2M544.42 813.1V824.2M545.38 805.6V813.1M546.33 805.6V813.1M547.27 813.1V816.2M548.22 816.2V821.3M549.17 820.1V821.9M550.12 817.8V820.8M551.08 812.8V818M552.02 803V812.8M552.97 783.2V803M553.92 757V783.2M554.88 751V758.6M555.83 758.6V791.1M556.77 791.1V813.6M557.72 813.6V822.4M558.67 821.9V828.8M559.62 828.8V831.2M560.58 830.9V834.2M561.52 834.2V835.7M562.47 835.2V836.7M563.42 835.8V837.2M564.38 836.2V837.5M565.33 836.9V837.8M566.27 837V838.1M567.22 836.5V838M568.17 837V838.3M569.12 837V838.4M570.08 837.1V838.4M571.02 837V838.4M571.98 837.3V838.4M572.92 837.2V839.2M573.88 837.2V839.2M574.82 837.1V839.2M575.77 837.7V839.2M576.73 837.3V839.2M577.67 837.4V839.2M578.62 838V839.2M579.57 837.1V839.2M580.52 837.1V839.2M581.48 837.1V839.2M582.42 837V839.2M583.38 837V839.2M584.32 837.4V839.2M585.27 835.4V839.2M586.23 837.4V839.2M587.17 837.3V838.4M588.12 837.3V838.2M589.07 836.8V837.8M590.02 836.9V837.8M590.98 836V837.3M591.92 834.9V836.5M592.88 831.1V835.2M593.82 824.2V831.9M594.77 811.4V824.2M595.73 810.5V820.1M596.67 820.1V829.1M597.62 829.1V834.1M598.57 833.4V835.3M599.52 834.7V836.2M600.48 834.6V836.4M601.42 835.1V836.5M602.38 835.6V836.6M603.32 834.9V836.2M604.27 834.8V835.8M605.23 833.9V835.5M606.17 833.1V834.7M607.12 832.5V834M608.07 830.5V833.1M609.02 826.8V830.8M609.98 823.2V827.3M610.92 814V823.2M611.88 803V814M612.82 795.1V803M613.77 794.6V801M614.73 801V808.3M615.67 808.1V814.2M616.62 813.6V815.8M617.57 815.8V822.4M618.52 821.6V822.9M619.48 822.3V823.9M620.42 823.7V825.4M621.38 825.2V827.2M622.32 825.9V827.3M623.27 825.5V827.8M624.23 827.8V829M625.17 826.8V828.7M626.12 826.4V828.8M627.07 827.5V830.1M628.02 829.4V830.3M628.98 829V830M629.92 828.1V829.7M630.88 828.3V829.8M631.82 828.5V830.4M632.77 829.9V831.1M633.73 830.5V831.8M634.67 830.4V831.7M635.62 830V832.3" stroke="#ff0000" stroke-width="0.95" stroke-opacity="1" fill="none"/>
<path d="M58.98 838.5V839.2M59.92 838.4V839.2M60.88 838.5V839.2M61.83 838.4V839.2M63.73 838.5V839.2M64.67 838.5V839.2M66.58 838.5V839.2M67.53 838.4V839.2M68.47 838.5V839.2M70.38 838.5V839.2M72.28 838.5V839.2M73.22 838.3V839.2M74.17 838.5V839.2M75.12 838.5V839.2M76.08 838.3V839.2M77.03 838.4V839.2M77.97 838.5V839.2M78.92 838.5V839.2M79.88 838.4V839.2M80.83 838.4V839.2M81.78 838.5V839.2M82.72 837.1V839.2M83.67 836.9V838.8M84.62 835.9V838.6M85.58 837.1V838.7M86.53 835.2V838.1M87.47 831.1V836.1M88.42 832.3V836.2M89.38 836.2V837.4M90.33 836V837.4M91.28 834.9V837.1M92.22 830.8V835.5M93.17 801.4V830.8M94.12 799.4V825.6M95.07 825.6V835.1M96.03 835.1V837.5M96.97 836.5V838.1M97.92 836.6V838.5M98.88 836.2V838.6M99.82 836.3V838.7M100.78 834V839.2M101.72 837V839.2M102.67 837.7V839.2M103.62 836.2V839.2M104.57 836.2V839.2M105.53 836.1V838.6M106.47 837.1V839.2M107.42 836.9V839.2M108.38 836.7V839.2M109.32 836.6V839.2M110.28 836.4V838.8M111.22 836.2V839.2M112.17 836.4V839.2M113.12 837V839.2M114.07 837V839.2M115.03 836.9V838.4M115.97 837V839.2M116.92 837.5V838.5M117.88 837.4V838.6M118.82 837.4V838.7M119.78 837.8V838.8M120.72 836.9V838.5M121.67 836.9V838.4M122.62 836.6V837.8M123.58 831.8V837.2M124.52 832.5V836.4M125.47 816.5V833.4M126.42 797.3V816.5M127.38 805.7V829.2M128.32 829.1V831.8M129.27 827.7V831.2M130.22 826.6V830.1M131.18 829.4V833.5M132.12 832.2V835.2M133.07 834.4V835.8M134.02 833.4V835.4M134.97 819.5V833.4M135.93 804.6V819.5M136.88 816.9V832.9M137.82 832.7V836.3M138.77 833.9V837.3M139.72 836.8V837.7M140.68 836.9V838.3M141.62 836.8V838.6M142.57 837.7V838.7M143.52 837.5V839.2M144.47 837.3V838.7M145.43 837.6V839.2M146.38 837.1V839.2M147.32 837.6V839.2M148.27 838.5V839.2M149.22 838.4V839.2M150.18 838.4V839.2M151.12 838.4V839.2M152.07 838.5V839.2M153.02 838.4V839.2M153.97 838.4V839.2M154.93 838.5V839.2M155.88 838.4V839.2M156.82 838.4V839.2M157.77 838.4V839.2M158.72 838.4V839.2M159.68 838.4V839.2M160.62 838.4V839.2M161.57 838.4V839.2M162.52 838.5V839.2M163.47 838.3V839.2M164.43 838.5V839.2M165.38 838.5V839.2M166.32 838.4V839.2M167.27 838.4V839.2M168.22 838.5V839.2M169.18 838.5V839.2M170.12 838.3V839.2M171.07 838.4V839.2M172.02 838.5V839.2M172.97 838.4V839.2M173.93 838.5V839.2M174.88 838.4V839.2M175.82 838.5V839.2M176.77 838.5V839.2M177.72 838.4V839.2M178.68 837.8V839.2M179.62 838.4V839.2M180.57 838.4V839.2M181.52 838.4V839.2M182.47 838V839.2M183.43 837.9V838.9M184.38 837.7V838.6M185.32 836V838.1M186.27 822V836M187.22 808.6V828.9M188.17 828.9V836.9M189.12 836.4V838.2M190.07 837.9V838.9M191.03 838.1V839.2M191.97 837.9V839.2M192.92 838V839.2M193.88 838.5V839.2M194.82 838.5V839.2M195.78 838.4V839.2M196.72 838.5V839.2M197.67 838.5V839.2M198.62 838.4V839.2M199.57 838.5V839.2M200.53 838.5V839.2M201.47 838.5V839.2M202.42 838.5V839.2M203.38 838.5V839.2M204.32 838.4V839.2M205.28 838.4V839.2M206.22 838.4V839.2M207.17 838.4V839.2M208.12 838.5V839.2M209.07 838.3V839.2M210.03 838.3V839.2M210.97 837.9V838.8M211.92 835.3V838.2M212.88 831.1V835.3M213.82 832.2V837.7M214.78 837.7V838.6M215.72 838.3V839.2M216.67 838.3V839.2M217.62 838.4V839.2M218.57 838.4V839.2M219.53 838.4V839.2M220.47 838.4V839.2M221.42 838.4V839.2M222.38 838.4V839.2M223.32 838.5V839.2M226.17 838.5V839.2M227.12 838.4V839.2M229.97 837.3V839.2M230.92 838.4V839.2M231.88 838.5V839.2M232.82 838.5V839.2M233.78 838.5V839.2M234.72 838.5V839.2M235.67 838.5V839.2M236.62 838.5V839.2M238.53 838.4V839.2M239.47 838.4V839.2M240.42 838.5V839.2M241.38 838.5V839.2M243.27 837.1V839.2M244.22 838.4V839.2M245.17 838.5V839.2M247.07 838.5V839.2M248.02 838.4V839.2M248.97 838.3V839.2M250.88 838.4V839.2M251.82 838.5V839.2M253.72 838.4V839.2M254.67 838.5V839.2M255.62 838.5V839.2M256.57 838.5V839.2M257.52 838.3V839.2M258.48 838.4V839.2M260.38 838.3V839.2M261.32 838.4V839.2M262.27 838.4V839.2M263.23 838V839M264.17 836.4V838.2M265.12 831.2V836.4M266.07 831.6V837.3M267.02 837.3V838.6M267.98 838.4V839.2M268.92 838.5V839.2M270.82 838.5V839.2M271.77 838.4V839.2M273.67 838.4V839.2M274.62 838.4V839.2M275.57 838.4V839.2M276.52 838.5V839.2M277.48 838.5V839.2M278.42 838.5V839.2M279.38 837.3V839.2M280.32 838.5V839.2M281.27 838.5V839.2M282.23 838.5V839.2M284.12 838.4V839.2M286.02 838.4V839.2M287.92 838.5V839.2M289.82 838.5V839.2M291.73 838.3V839.2M292.67 838.5V839.2M293.62 838.5V839.2M294.57 838.5V839.2M295.52 838.3V839.2M296.48 838.4V839.2M297.42 838.5V839.2M298.38 838.5V839.2M299.32 838.5V839.2M300.27 838.5V839.2M301.23 838.5V839.2M302.17 838.5V839.2M303.12 838.2V839.2M304.07 838.5V839.2M305.02 838.4V839.2M305.98 838.4V839.2M306.92 838.4V839.2M307.88 838.4V839.2M309.77 838.5V839.2M310.73 838.4V839.2M311.67 838.4V839.2M312.62 838.1V839.2M313.57 837.1V838.6M314.52 832V837.2M315.47 827.6V832.7M316.43 832.7V837.4M317.38 837.1V838.5M318.32 838.4V839.2M319.27 838.5V839.2M320.22 838.5V839.2M321.18 838.5V839.2M322.12 838.5V839.2M323.07 838.5V839.2M324.02 838.5V839.2M324.97 838.1V839.2M325.93 838.5V839.2M327.82 838.4V839.2M328.77 838.5V839.2M329.72 837.5V839.2M330.68 838.4V839.2M331.62 838.4V839.2M332.57 838.5V839.2M334.47 838.4V839.2M336.38 838.4V839.2M337.32 838.4V839.2M338.27 838.4V839.2M339.22 838.5V839.2M340.18 838.4V839.2M341.12 838.4V839.2M342.07 838.5V839.2M343.02 838.5V839.2M343.97 838.5V839.2M347.77 838.5V839.2M348.72 838.5V839.2M349.68 838V839.2M350.62 838.4V839.2M351.57 838.5V839.2M352.52 838.5V839.2M354.43 838.5V839.2M355.38 838.5V839.2M356.32 838.4V839.2M357.27 838.5V839.2M358.22 838.4V839.2M359.18 838.5V839.2M361.07 838.5V839.2M362.02 838.4V839.2M362.97 838.5V839.2M363.93 838.5V839.2M364.88 838.4V839.2M367.72 838.4V839.2M369.62 837.8V839.2M370.57 838.5V839.2M372.47 838.5V839.2M373.43 838.5V839.2M374.38 838.3V839.2M376.27 838.5V839.2M377.22 838.5V839.2M378.18 838.4V839.2M379.12 838.4V839.2M380.07 838.4V839.2M381.02 838.5V839.2M381.97 838.5V839.2M382.93 838.4V839.2M384.82 838.4V839.2M385.77 838.5V839.2M386.72 838.4V839.2M388.62 838.5V839.2M389.57 838.5V839.2M391.47 838.5V839.2M394.32 838.5V839.2M395.27 838.5V839.2M396.22 838.5V839.2M397.18 838.5V839.2M399.07 838.5V839.2M400.02 838.4V839.2M400.97 838.5V839.2M401.93 838.4V839.2M403.82 838.5V839.2M404.77 838.4V839.2M406.68 838.5V839.2M407.62 838.4V839.2M409.52 838.5V839.2M410.47 838.4V839.2M411.43 838.4V839.2M413.32 838.5V839.2M414.27 838.4V839.2M416.18 838.5V839.2M418.07 838.5V839.2M419.02 838.5V839.2M419.97 838.5V839.2M420.93 838.5V839.2M421.88 838.5V839.2M422.82 838.4V839.2M423.77 838.4V839.2M424.72 838.5V839.2M426.62 838.3V839.2M428.52 838.5V839.2M429.47 837.9V839.2M430.42 837.8V839.2M431.38 832.9V839.2M432.32 837.1V839.2M433.27 834.3V838.1M434.22 836.7V838.6M435.17 836.3V838.4M436.12 836.3V838.3M437.07 836.9V838.1M438.02 834.9V837.5M438.97 835V837.1M439.92 834.8V837.2M440.88 833.1V836.1M441.82 830V834.5M442.77 822V830M443.72 808.5V822M444.67 810.5V819.6M445.62 819.4V828.4M446.57 827.8V830.2M447.52 829.7V831.8M448.47 827.6V831.1M449.42 827.9V831.4M450.38 829.5V831.8M451.32 830.2V832.3M452.27 831V833.6M453.22 831.8V834.2M454.17 833.4V836.9M455.12 834V837.5M456.07 836.9V838M457.02 835.9V837.9M457.97 836.2V838.3M458.92 837.1V838.3M459.88 836.7V838.7M460.82 837.2V838.8M461.77 838V839.2M462.72 836.8V839.2M463.67 836.6V839.2M464.62 836.2V839.2M465.57 837.6V839.2M466.52 835.7V839.2M467.47 836.2V839.2M468.42 837.6V839.2M469.38 836.8V839.2M470.32 836.9V839.2M471.27 836.5V839.2M472.22 837.3V839.2M473.17 837.5V839.2M474.12 838.3V839.2M475.07 838.3V839.2M476.02 838.5V839.2M476.97 838.3V839.2M477.92 838.5V839.2M478.88 838.4V839.2M479.82 838.4V839.2M480.77 838.4V839.2M481.72 838.3V839.2M482.67 838.4V839.2M483.62 838.5V839.2M484.57 838.4V839.2M486.47 838.3V839.2M487.42 838.5V839.2M489.32 838.4V839.2M490.27 838.4V839.2M491.22 837.3V839.2M492.17 838.5V839.2M493.12 838.5V839.2M494.07 838.5V839.2M495.02 838.4V839.2M495.97 838.5V839.2M496.92 838.5V839.2M497.88 838.4V839.2M498.82 838.4V839.2M499.77 838.5V839.2M503.57 838.5V839.2M506.42 838.5V839.2M507.38 838.5V839.2M510.22 838.5V839.2M511.17 838.4V839.2M512.12 838.5V839.2M513.08 838.5V839.2M514.02 838.5V839.2M514.97 838.5V839.2M515.92 838.5V839.2M517.83 838.5V839.2M518.77 838.5V839.2M519.72 838.4V839.2M520.67 838.5V839.2M521.62 838.3V839.2M523.52 838.5V839.2M524.47 838.4V839.2M525.42 838.5V839.2M526.38 838.4V839.2M527.33 838.4V839.2M528.27 838.5V839.2M529.22 838.5V839.2M530.17 838.5V839.2M531.12 838.4V839.2M532.08 838.5V839.2M533.02 838.4V839.2M533.97 838.4V839.2M535.88 838.5V839.2M536.83 838.4V839.2M537.77 838.4V839.2M540.62 838.5V839.2M541.58 838.5V839.2M542.52 838.5V839.2M545.38 838.5V839.2M546.33 838.5V839.2M550.12 838.3V839.2M551.08 837.2V839.2M552.97 838.5V839.2M553.92 838.5V839.2M554.88 838.4V839.2M555.83 838.5V839.2M556.77 838.5V839.2M557.72 838.4V839.2M558.67 838.4V839.2M559.62 838.5V839.2M560.58 838.5V839.2M561.52 838.4V839.2M562.47 838.5V839.2M563.42 838.5V839.2M564.38 838.4V839.2M566.27 838.4V839.2M567.22 838.5V839.2M568.17 838.5V839.2M569.12 838.5V839.2M570.08 838.5V839.2M571.02 838.5V839.2M571.98 838.5V839.2M572.92 838.5V839.2M573.88 838.5V839.2M575.77 838.5V839.2M576.73 838.4V839.2M577.67 838.5V839.2M579.57 838.4V839.2M580.52 838.4V839.2M581.48 838.5V839.2M582.42 838.5V839.2M583.38 838.5V839.2M585.27 838.4V839.2M586.23 838.4V839.2M587.17 838.4V839.2M588.12 838.5V839.2M589.07 838.4V839.2M590.02 838.4V839.2M590.98 838.3V839.2M592.88 838.4V839.2M593.82 838.5V839.2M594.77 838.4V839.2M595.73 838.5V839.2M596.67 838.5V839.2M597.62 838.5V839.2M598.57 838.3V839.2M599.52 838.5V839.2M600.48 838.4V839.2M601.42 838.3V839.2M602.38 837.6V839.2M603.32 838.2V839.2M604.27 838V839.2M605.23 838V839.2M606.17 838V839.2M607.12 837.6V839.2M608.07 837.7V839.2M609.02 837.6V839.2M609.98 836.7V838.6M610.92 837.1V838.4M611.88 836.7V838.1M612.82 836.2V837.6M613.77 835.5V837.2M614.73 833.4V835.7M615.67 833.4V835.1M616.62 834.7V836.5M617.57 836.2V837.3M618.52 836.6V838M619.48 836.6V838.4M620.42 836.7V838.5M621.38 837.5V838.8M622.32 838.3V839.2M623.27 837.8V839.2M624.23 837.8V839.2M625.17 838V839.2M626.12 837.9V839.2M627.07 838.2V839.2M628.02 837.6V839.2M628.98 838.4V839.2M629.92 838.4V839.2M630.88 838.4V839.2M631.82 838.5V839.2M632.77 838.5V839.2M633.73 838.5V839.2M634.67 838.4V839.2M635.62 838.4V839.2" stroke="#0000ff" stroke-width="0.95" stroke-opacity="1" fill="none"/>
<path d="M77.5 600.6V834.5M75 834.5H80" stroke="#ff0000" stroke-opacity="0.55" stroke-width="0.8" fill="none"/>
<text transform="translate(79.8 594.8) rotate(-90)" font-size="10.7" fill="#333">11109.0000</text>
<path d="M171.7 780.3V834.5M169.2 834.5H174.2" stroke="#ff0000" stroke-opacity="0.55" stroke-width="0.8" fill="none"/>
<text transform="translate(174 774.8) rotate(-90)" font-size="10.7" fill="#333">11767.3583</text>
<path d="M242.1 727.7V834.5M239.6 834.5H244.6" stroke="#ff0000" stroke-opacity="0.55" stroke-width="0.8" fill="none"/>
<text transform="translate(244.5 725.2) rotate(-90)" font-size="10.7" fill="#333">12260.5710</text>
<path d="M349 802V834.5M346.5 834.5H351.5" stroke="#ff0000" stroke-opacity="0.55" stroke-width="0.8" fill="none"/>
<text transform="translate(351.2 799) rotate(-90)" font-size="10.7" fill="#333">13004.3151</text>
<path d="M400.6 747.2V834.5M398.1 834.5H403.1" stroke="#ff0000" stroke-opacity="0.55" stroke-width="0.8" fill="none"/>
<text transform="translate(403 741.5) rotate(-90)" font-size="10.7" fill="#333">13366.2034</text>
<path d="M554.9 752V834.5M552.4 834.5H557.4" stroke="#ff0000" stroke-opacity="0.55" stroke-width="0.8" fill="none"/>
<text transform="translate(557 746.5) rotate(-90)" font-size="10.7" fill="#333">14445.5700</text>
<path d="M58 506.3H637.5V839.5" fill="none" stroke="#555" stroke-width="1"/>
<path d="M58 506.3V839.5H637.5" fill="none" stroke="#333" stroke-width="1"/>
<path d="M61.5 839.5v5M75.5 839.5v2.5M89.5 839.5v2.5M104.5 839.5v2.5M118.5 839.5v2.5M132.5 839.5v5M147.5 839.5v2.5M161.5 839.5v2.5M175.5 839.5v2.5M190.5 839.5v2.5M204.5 839.5v5M218.5 839.5v2.5M233.5 839.5v2.5M247.5 839.5v2.5M261.5 839.5v2.5M276.5 839.5v5M290.5 839.5v2.5M304.5 839.5v2.5M319.5 839.5v2.5M333.5 839.5v2.5M347.5 839.5v5M361.5 839.5v2.5M376.5 839.5v2.5M390.5 839.5v2.5M404.5 839.5v2.5M419.5 839.5v5M433.5 839.5v2.5M447.5 839.5v2.5M462.5 839.5v2.5M476.5 839.5v2.5M490.5 839.5v5M505.5 839.5v2.5M519.5 839.5v2.5M533.5 839.5v2.5M548.5 839.5v2.5M562.5 839.5v5M576.5 839.5v2.5M591.5 839.5v2.5M605.5 839.5v2.5M619.5 839.5v2.5M633.5 839.5v5M58 839.5h-5M58 834.5h-2.5M58 828.5h-2.5M58 823.5h-2.5M58 818.5h-2.5M58 813.5h-5M58 808.5h-2.5M58 802.5h-2.5M58 797.5h-2.5M58 792.5h-2.5M58 787.5h-5M58 782.5h-2.5M58 777.5h-2.5M58 771.5h-2.5M58 766.5h-2.5M58 761.5h-5M58 756.5h-2.5M58 751.5h-2.5M58 745.5h-2.5M58 740.5h-2.5M58 735.5h-5M58 730.5h-2.5M58 725.5h-2.5M58 719.5h-2.5M58 714.5h-2.5M58 709.5h-5M58 704.5h-2.5M58 699.5h-2.5M58 694.5h-2.5M58 688.5h-2.5M58 683.5h-5M58 678.5h-2.5M58 673.5h-2.5M58 668.5h-2.5M58 662.5h-2.5M58 657.5h-5M58 652.5h-2.5M58 647.5h-2.5M58 642.5h-2.5M58 636.5h-2.5M58 631.5h-5M58 626.5h-2.5M58 621.5h-2.5M58 616.5h-2.5M58 611.5h-2.5M58 605.5h-5M58 600.5h-2.5M58 595.5h-2.5M58 590.5h-2.5M58 585.5h-2.5M58 579.5h-5M58 574.5h-2.5M58 569.5h-2.5M58 564.5h-2.5M58 559.5h-2.5M58 553.5h-5M58 548.5h-2.5M58 543.5h-2.5M58 538.5h-2.5M58 533.5h-2.5M58 528.5h-5M58 522.5h-2.5M58 517.5h-2.5M58 512.5h-2.5M58 507.5h-2.5" stroke="#444" stroke-width="1" fill="none"/>
<text x="61.4" y="857.1" text-anchor="middle">11000</text>
<text x="132.9" y="857.1" text-anchor="middle">11500</text>
<text x="204.5" y="857.1" text-anchor="middle">12000</text>
<text x="276.1" y="857.1" text-anchor="middle">12500</text>
<text x="347.7" y="857.1" text-anchor="middle">13000</text>
<text x="419.2" y="857.1" text-anchor="middle">13500</text>
<text x="490.8" y="857.1" text-anchor="middle">14000</text>
<text x="562.4" y="857.1" text-anchor="middle">14500</text>
<text x="634" y="857.1" text-anchor="middle">15000</text>
<text x="50" y="843.2" text-anchor="end">0</text>
<text x="50" y="817.3" text-anchor="end">500</text>
<text x="50" y="791.4" text-anchor="end">1000</text>
<text x="50" y="765.4" text-anchor="end">1500</text>
<text x="50" y="739.5" text-anchor="end">2000</text>
<text x="50" y="713.6" text-anchor="end">2500</text>
<text x="50" y="687.6" text-anchor="end">3000</text>
<text x="50" y="661.7" text-anchor="end">3500</text>
<text x="50" y="635.8" text-anchor="end">4000</text>
<text x="50" y="609.8" text-anchor="end">4500</text>
<text x="50" y="583.9" text-anchor="end">5000</text>
<text x="50" y="558" text-anchor="end">5500</text>
<text x="50" y="532" text-anchor="end">6000</text>
<text x="636" y="869.7" text-anchor="end">m/z</text>
<text transform="translate(19.8 522) rotate(-90)" fill="#5a5a5a">a.i.</text>
<text x="621.8" y="522.5" text-anchor="end" fill="#3a3aff">non-KPC</text>
<text x="621.8" y="537.7" text-anchor="end" fill="#ff3030">KPC</text>
<path d="M626 518.5L629 515.5L632 518.5L629 521.5Z" fill="#0000ff"/>
<path d="M626 533.7L629 530.7L632 533.7L629 536.7Z" fill="#ff0000"/>
<rect x="58" y="466.2" width="579.5" height="34" fill="#fff"/>
<rect x="87" y="466.7" width="1" height="16.5" fill="#f6f6f6"/>
<rect x="90" y="466.7" width="2" height="16.5" fill="#f6f6f6"/>
<rect x="92" y="466.7" width="1" height="16.5" fill="#f0f0f0"/>
<rect x="93" y="466.7" width="1" height="16.5" fill="#e4e4e4"/>
<rect x="94" y="466.7" width="1" height="16.5" fill="#eaeaea"/>
<rect x="95" y="466.7" width="2" height="16.5" fill="#f6f6f6"/>
<rect x="123" y="466.7" width="2" height="16.5" fill="#f6f6f6"/>
<rect x="125" y="466.7" width="1" height="16.5" fill="#eaeaea"/>
<rect x="126" y="466.7" width="1" height="16.5" fill="#dedede"/>
<rect x="127" y="466.7" width="1" height="16.5" fill="#eaeaea"/>
<rect x="128" y="466.7" width="7" height="16.5" fill="#f6f6f6"/>
<rect x="135" y="466.7" width="1" height="16.5" fill="#e4e4e4"/>
<rect x="136" y="466.7" width="1" height="16.5" fill="#eaeaea"/>
<rect x="137" y="466.7" width="2" height="16.5" fill="#f6f6f6"/>
<rect x="185" y="466.7" width="1" height="16.5" fill="#f6f6f6"/>
<rect x="186" y="466.7" width="2" height="16.5" fill="#eaeaea"/>
<rect x="188" y="466.7" width="1" height="16.5" fill="#f6f6f6"/>
<rect x="315" y="466.7" width="1" height="16.5" fill="#f6f6f6"/>
<rect x="440" y="466.7" width="2" height="16.5" fill="#f6f6f6"/>
<rect x="442" y="466.7" width="1" height="16.5" fill="#f0f0f0"/>
<rect x="443" y="466.7" width="1" height="16.5" fill="#eaeaea"/>
<rect x="444" y="466.7" width="1" height="16.5" fill="#e4e4e4"/>
<rect x="445" y="466.7" width="1" height="16.5" fill="#eaeaea"/>
<rect x="446" y="466.7" width="1" height="16.5" fill="#f0f0f0"/>
<rect x="447" y="466.7" width="7" height="16.5" fill="#f6f6f6"/>
<rect x="69" y="483.2" width="2" height="16.5" fill="#f6f6f6"/>
<rect x="71" y="483.2" width="1" height="16.5" fill="#f0f0f0"/>
<rect x="72" y="483.2" width="1" height="16.5" fill="#eaeaea"/>
<rect x="73" y="483.2" width="1" height="16.5" fill="#dedede"/>
<rect x="74" y="483.2" width="1" height="16.5" fill="#d8d8d8"/>
<rect x="75" y="483.2" width="1" height="16.5" fill="#c6c6c6"/>
<rect x="76" y="483.2" width="1" height="16.5" fill="#848484"/>
<rect x="77" y="483.2" width="1" height="16.5" fill="#424242"/>
<rect x="78" y="483.2" width="1" height="16.5" fill="#666666"/>
<rect x="79" y="483.2" width="1" height="16.5" fill="#969696"/>
<rect x="80" y="483.2" width="1" height="16.5" fill="#aeaeae"/>
<rect x="81" y="483.2" width="1" height="16.5" fill="#c0c0c0"/>
<rect x="82" y="483.2" width="1" height="16.5" fill="#cccccc"/>
<rect x="83" y="483.2" width="1" height="16.5" fill="#d2d2d2"/>
<rect x="84" y="483.2" width="3" height="16.5" fill="#d8d8d8"/>
<rect x="87" y="483.2" width="1" height="16.5" fill="#cccccc"/>
<rect x="88" y="483.2" width="3" height="16.5" fill="#c0c0c0"/>
<rect x="91" y="483.2" width="1" height="16.5" fill="#a2a2a2"/>
<rect x="92" y="483.2" width="2" height="16.5" fill="#727272"/>
<rect x="94" y="483.2" width="1" height="16.5" fill="#a8a8a8"/>
<rect x="95" y="483.2" width="1" height="16.5" fill="#cccccc"/>
<rect x="96" y="483.2" width="1" height="16.5" fill="#d8d8d8"/>
<rect x="97" y="483.2" width="1" height="16.5" fill="#e4e4e4"/>
<rect x="98" y="483.2" width="1" height="16.5" fill="#eaeaea"/>
<rect x="99" y="483.2" width="1" height="16.5" fill="#f0f0f0"/>
<rect x="100" y="483.2" width="2" height="16.5" fill="#f6f6f6"/>
<rect x="114" y="483.2" width="2" height="16.5" fill="#f6f6f6"/>
<rect x="116" y="483.2" width="1" height="16.5" fill="#f0f0f0"/>
<rect x="117" y="483.2" width="2" height="16.5" fill="#eaeaea"/>
<rect x="119" y="483.2" width="1" height="16.5" fill="#e4e4e4"/>
<rect x="120" y="483.2" width="1" height="16.5" fill="#d8d8d8"/>
<rect x="121" y="483.2" width="1" height="16.5" fill="#cccccc"/>
<rect x="122" y="483.2" width="1" height="16.5" fill="#a8a8a8"/>
<rect x="123" y="483.2" width="2" height="16.5" fill="#969696"/>
<rect x="125" y="483.2" width="1" height="16.5" fill="#7e7e7e"/>
<rect x="126" y="483.2" width="1" height="16.5" fill="#969696"/>
<rect x="127" y="483.2" width="1" height="16.5" fill="#c6c6c6"/>
<rect x="128" y="483.2" width="1" height="16.5" fill="#d8d8d8"/>
<rect x="129" y="483.2" width="1" height="16.5" fill="#e4e4e4"/>
<rect x="130" y="483.2" width="1" height="16.5" fill="#eaeaea"/>
<rect x="131" y="483.2" width="2" height="16.5" fill="#f0f0f0"/>
<rect x="133" y="483.2" width="2" height="16.5" fill="#f6f6f6"/>
<rect x="135" y="483.2" width="2" height="16.5" fill="#f0f0f0"/>
<rect x="137" y="483.2" width="1" height="16.5" fill="#f6f6f6"/>
<rect x="158" y="483.2" width="6" height="16.5" fill="#f6f6f6"/>
<rect x="164" y="483.2" width="2" height="16.5" fill="#f0f0f0"/>
<rect x="166" y="483.2" width="1" height="16.5" fill="#f6f6f6"/>
<rect x="167" y="483.2" width="2" height="16.5" fill="#f0f0f0"/>
<rect x="169" y="483.2" width="1" height="16.5" fill="#eaeaea"/>
<rect x="170" y="483.2" width="1" height="16.5" fill="#dedede"/>
<rect x="171" y="483.2" width="1" height="16.5" fill="#cccccc"/>
<rect x="172" y="483.2" width="1" height="16.5" fill="#d8d8d8"/>
<rect x="173" y="483.2" width="1" height="16.5" fill="#eaeaea"/>
<rect x="174" y="483.2" width="4" height="16.5" fill="#f6f6f6"/>
<rect x="184" y="483.2" width="2" height="16.5" fill="#f6f6f6"/>
<rect x="186" y="483.2" width="2" height="16.5" fill="#e4e4e4"/>
<rect x="188" y="483.2" width="5" height="16.5" fill="#f6f6f6"/>
<rect x="204" y="483.2" width="3" height="16.5" fill="#f6f6f6"/>
<rect x="209" y="483.2" width="3" height="16.5" fill="#f6f6f6"/>
<rect x="212" y="483.2" width="2" height="16.5" fill="#eaeaea"/>
<rect x="214" y="483.2" width="2" height="16.5" fill="#f6f6f6"/>
<rect x="229" y="483.2" width="3" height="16.5" fill="#f6f6f6"/>
<rect x="232" y="483.2" width="1" height="16.5" fill="#f0f0f0"/>
<rect x="233" y="483.2" width="1" height="16.5" fill="#e4e4e4"/>
<rect x="234" y="483.2" width="3" height="16.5" fill="#dedede"/>
<rect x="237" y="483.2" width="1" height="16.5" fill="#d8d8d8"/>
<rect x="238" y="483.2" width="1" height="16.5" fill="#cccccc"/>
<rect x="239" y="483.2" width="1" height="16.5" fill="#b4b4b4"/>
<rect x="240" y="483.2" width="2" height="16.5" fill="#9c9c9c"/>
<rect x="242" y="483.2" width="1" height="16.5" fill="#a2a2a2"/>
<rect x="243" y="483.2" width="1" height="16.5" fill="#969696"/>
<rect x="244" y="483.2" width="1" height="16.5" fill="#a2a2a2"/>
<rect x="245" y="483.2" width="1" height="16.5" fill="#c6c6c6"/>
<rect x="246" y="483.2" width="1" height="16.5" fill="#d8d8d8"/>
<rect x="247" y="483.2" width="1" height="16.5" fill="#dedede"/>
<rect x="248" y="483.2" width="1" height="16.5" fill="#e4e4e4"/>
<rect x="249" y="483.2" width="1" height="16.5" fill="#eaeaea"/>
<rect x="250" y="483.2" width="2" height="16.5" fill="#f0f0f0"/>
<rect x="252" y="483.2" width="5" height="16.5" fill="#f6f6f6"/>
<rect x="257" y="483.2" width="2" height="16.5" fill="#f0f0f0"/>
<rect x="259" y="483.2" width="1" height="16.5" fill="#eaeaea"/>
<rect x="260" y="483.2" width="1" height="16.5" fill="#e4e4e4"/>
<rect x="261" y="483.2" width="1" height="16.5" fill="#d8d8d8"/>
<rect x="262" y="483.2" width="1" height="16.5" fill="#d2d2d2"/>
<rect x="263" y="483.2" width="1" height="16.5" fill="#aeaeae"/>
<rect x="264" y="483.2" width="1" height="16.5" fill="#787878"/>
<rect x="265" y="483.2" width="1" height="16.5" fill="#5a5a5a"/>
<rect x="266" y="483.2" width="1" height="16.5" fill="#7e7e7e"/>
<rect x="267" y="483.2" width="1" height="16.5" fill="#aeaeae"/>
<rect x="268" y="483.2" width="1" height="16.5" fill="#cccccc"/>
<rect x="269" y="483.2" width="1" height="16.5" fill="#d8d8d8"/>
<rect x="270" y="483.2" width="1" height="16.5" fill="#dedede"/>
<rect x="271" y="483.2" width="1" height="16.5" fill="#eaeaea"/>
<rect x="272" y="483.2" width="2" height="16.5" fill="#f0f0f0"/>
<rect x="274" y="483.2" width="2" height="16.5" fill="#f6f6f6"/>
<rect x="282" y="483.2" width="2" height="16.5" fill="#f6f6f6"/>
<rect x="285" y="483.2" width="2" height="16.5" fill="#f6f6f6"/>
<rect x="287" y="483.2" width="1" height="16.5" fill="#f0f0f0"/>
<rect x="288" y="483.2" width="1" height="16.5" fill="#f6f6f6"/>
<rect x="306" y="483.2" width="2" height="16.5" fill="#f6f6f6"/>
<rect x="308" y="483.2" width="1" height="16.5" fill="#f0f0f0"/>
<rect x="309" y="483.2" width="1" height="16.5" fill="#eaeaea"/>
<rect x="310" y="483.2" width="1" height="16.5" fill="#e4e4e4"/>
<rect x="311" y="483.2" width="1" height="16.5" fill="#dedede"/>
<rect x="312" y="483.2" width="1" height="16.5" fill="#d2d2d2"/>
<rect x="313" y="483.2" width="1" height="16.5" fill="#aeaeae"/>
<rect x="314" y="483.2" width="2" height="16.5" fill="#848484"/>
<rect x="316" y="483.2" width="1" height="16.5" fill="#aeaeae"/>
<rect x="317" y="483.2" width="1" height="16.5" fill="#d2d2d2"/>
<rect x="318" y="483.2" width="1" height="16.5" fill="#dedede"/>
<rect x="319" y="483.2" width="1" height="16.5" fill="#e4e4e4"/>
<rect x="320" y="483.2" width="1" height="16.5" fill="#eaeaea"/>
<rect x="321" y="483.2" width="1" height="16.5" fill="#f0f0f0"/>
<rect x="322" y="483.2" width="2" height="16.5" fill="#f6f6f6"/>
<rect x="344" y="483.2" width="3" height="16.5" fill="#f6f6f6"/>
<rect x="347" y="483.2" width="1" height="16.5" fill="#eaeaea"/>
<rect x="348" y="483.2" width="2" height="16.5" fill="#dedede"/>
<rect x="350" y="483.2" width="2" height="16.5" fill="#e4e4e4"/>
<rect x="352" y="483.2" width="1" height="16.5" fill="#f0f0f0"/>
<rect x="353" y="483.2" width="5" height="16.5" fill="#f6f6f6"/>
<rect x="358" y="483.2" width="2" height="16.5" fill="#eaeaea"/>
<rect x="360" y="483.2" width="1" height="16.5" fill="#f0f0f0"/>
<rect x="361" y="483.2" width="1" height="16.5" fill="#f6f6f6"/>
<rect x="387" y="483.2" width="1" height="16.5" fill="#f6f6f6"/>
<rect x="388" y="483.2" width="2" height="16.5" fill="#f0f0f0"/>
<rect x="390" y="483.2" width="5" height="16.5" fill="#f6f6f6"/>
<rect x="395" y="483.2" width="2" height="16.5" fill="#f0f0f0"/>
<rect x="397" y="483.2" width="1" height="16.5" fill="#eaeaea"/>
<rect x="398" y="483.2" width="1" height="16.5" fill="#dedede"/>
<rect x="399" y="483.2" width="1" height="16.5" fill="#c6c6c6"/>
<rect x="400" y="483.2" width="1" height="16.5" fill="#aeaeae"/>
<rect x="401" y="483.2" width="1" height="16.5" fill="#bababa"/>
<rect x="402" y="483.2" width="1" height="16.5" fill="#d2d2d2"/>
<rect x="403" y="483.2" width="3" height="16.5" fill="#dedede"/>
<rect x="406" y="483.2" width="1" height="16.5" fill="#eaeaea"/>
<rect x="407" y="483.2" width="1" height="16.5" fill="#f0f0f0"/>
<rect x="408" y="483.2" width="2" height="16.5" fill="#f6f6f6"/>
<rect x="442" y="483.2" width="2" height="16.5" fill="#f6f6f6"/>
<rect x="444" y="483.2" width="1" height="16.5" fill="#f0f0f0"/>
<rect x="445" y="483.2" width="1" height="16.5" fill="#f6f6f6"/>
<rect x="541" y="483.2" width="2" height="16.5" fill="#f6f6f6"/>
<rect x="543" y="483.2" width="1" height="16.5" fill="#f0f0f0"/>
<rect x="544" y="483.2" width="1" height="16.5" fill="#e4e4e4"/>
<rect x="545" y="483.2" width="1" height="16.5" fill="#dedede"/>
<rect x="546" y="483.2" width="2" height="16.5" fill="#e4e4e4"/>
<rect x="548" y="483.2" width="1" height="16.5" fill="#eaeaea"/>
<rect x="549" y="483.2" width="2" height="16.5" fill="#e4e4e4"/>
<rect x="551" y="483.2" width="1" height="16.5" fill="#dedede"/>
<rect x="552" y="483.2" width="1" height="16.5" fill="#d2d2d2"/>
<rect x="553" y="483.2" width="1" height="16.5" fill="#c0c0c0"/>
<rect x="554" y="483.2" width="1" height="16.5" fill="#aeaeae"/>
<rect x="555" y="483.2" width="1" height="16.5" fill="#b4b4b4"/>
<rect x="556" y="483.2" width="1" height="16.5" fill="#cccccc"/>
<rect x="557" y="483.2" width="1" height="16.5" fill="#e4e4e4"/>
<rect x="558" y="483.2" width="1" height="16.5" fill="#eaeaea"/>
<rect x="559" y="483.2" width="2" height="16.5" fill="#f0f0f0"/>
<rect x="561" y="483.2" width="2" height="16.5" fill="#f6f6f6"/>
<rect x="592" y="483.2" width="1" height="16.5" fill="#f6f6f6"/>
<rect x="593" y="483.2" width="1" height="16.5" fill="#f0f0f0"/>
<rect x="594" y="483.2" width="1" height="16.5" fill="#eaeaea"/>
<rect x="595" y="483.2" width="1" height="16.5" fill="#e4e4e4"/>
<rect x="596" y="483.2" width="1" height="16.5" fill="#f0f0f0"/>
<rect x="597" y="483.2" width="3" height="16.5" fill="#f6f6f6"/>
<rect x="605" y="483.2" width="4" height="16.5" fill="#f6f6f6"/>
<rect x="609" y="483.2" width="1" height="16.5" fill="#f0f0f0"/>
<rect x="610" y="483.2" width="1" height="16.5" fill="#eaeaea"/>
<rect x="611" y="483.2" width="1" height="16.5" fill="#e4e4e4"/>
<rect x="612" y="483.2" width="3" height="16.5" fill="#d8d8d8"/>
<rect x="615" y="483.2" width="1" height="16.5" fill="#dedede"/>
<rect x="616" y="483.2" width="1" height="16.5" fill="#e4e4e4"/>
<rect x="617" y="483.2" width="2" height="16.5" fill="#eaeaea"/>
<rect x="619" y="483.2" width="7" height="16.5" fill="#f0f0f0"/>
<rect x="626" y="483.2" width="11" height="16.5" fill="#f6f6f6"/>
<rect x="58" y="466.2" width="579.5" height="34" fill="none" stroke="#333" stroke-width="1"/>
<text x="621.8" y="479" text-anchor="end" fill="#3a3aff">non-KPC</text>
<text x="621.8" y="495.2" text-anchor="end" fill="#ff3030">KPC</text>
<path d="M626 475L629 472L632 475L629 478Z" fill="#0000ff"/>
<path d="M626 491.2L629 488.2L632 491.2L629 494.2Z" fill="#ff0000"/>
<text x="22" y="497.6" font-family="'Liberation Serif', 'Times New Roman', serif" font-weight="bold" font-size="41.5" fill="#000">C</text></g>
<g><rect x="713" y="453.6" width="579.5" height="4.8" fill="#fff" stroke="#333" stroke-width="1"/>
<rect x="1128.75" y="453.1" width="164.2" height="5.8" fill="#000"/>
<rect x="1298.75" y="504.5" width="4.8" height="333" fill="#fff" stroke="#333" stroke-width="1"/>
<rect x="1298.2" y="802.75" width="5.8" height="35.2" fill="#000"/>
<path d="M715.5 504.5V837.5M771.5 504.5V837.5M827.5 504.5V837.5M883.5 504.5V837.5M940.5 504.5V837.5M996.5 504.5V837.5M1052.5 504.5V837.5M1108.5 504.5V837.5M1164.5 504.5V837.5M1220.5 504.5V837.5M1276.5 504.5V837.5M713 792.5H1292.5M713 747.5H1292.5M713 702.5H1292.5M713 657.5H1292.5M713 612.5H1292.5M713 567.5H1292.5M713 522.5H1292.5" stroke="#ebebeb" stroke-width="1" fill="none"/>
<path d="M713.98 827.3V829M714.92 823.4V827.4M715.88 819.8V823.4M716.83 814.8V819.8M717.77 807.8V814.8M718.73 803.8V807.8M719.67 802.7V803.8M720.62 796V803.5M721.58 788.7V796M722.52 772.7V788.7M723.48 753.7V772.7M724.42 722.5V753.7M725.38 686.1V722.5M726.33 639.1V686.1M727.27 616.5V639.1M728.23 612.2V616.5M729.17 615.6V620.8M730.12 617.9V621.1M731.08 619.8V625.8M732.02 593.6V624.6M732.98 594.7V607M733.92 604.8V632M734.88 632V657M735.83 657V705.7M736.77 705.7V728M737.73 728V745.6M738.67 745.6V761.3M739.62 761.3V766.5M740.58 756.6V764.5M741.52 744V756.6M742.48 737.8V744M743.42 727.1V738.5M744.38 717.6V727.1M745.33 706.2V718.3M746.27 704V708.1M747.23 700.6V708.3M748.17 699.8V705.1M749.12 705.1V730.9M750.08 730.9V760.2M751.02 760.2V789.7M751.98 789.7V804.8M752.92 804.8V813.4M753.88 813.4V817.6M754.83 815.6V817.7M755.77 815V817.1M756.73 812.8V815.3M757.67 812.3V813.4M758.62 812.1V813.3M759.58 813.3V818.1M760.52 818.1V821.8M761.48 821.8V825.7M762.42 825.6V829.7M763.38 829.6V831.7M764.33 831.7V833.5M765.27 832.5V834.2M766.23 834V835.1M767.17 834.8V835.8M768.12 835.5V837M769.08 835.4V837M770.02 835.7V837M770.98 835.6V837M771.92 835.5V837M772.88 835.3V837M773.83 835.2V837M774.77 835.3V837M775.73 835.3V837M776.67 834.1V837M777.62 833.9V835.7M778.58 833V834.6M779.52 831V833.6M780.48 826.3V831.4M781.42 820.8V826.3M782.38 818.5V820.8M783.33 819.2V824.5M784.27 824.5V828.5M785.23 828.3V831.4M786.17 831.4V832.9M787.12 832.4V833.5M788.08 832.7V833.8M789.02 832.9V833.8M789.98 832.5V833.5M790.92 832.2V833.1M791.88 831.4V832.4M792.83 829.4V831.4M793.77 827.3V829.4M794.73 825.1V827.8M795.67 821.8V825.2M796.62 818V821.8M797.58 814V818M798.52 808.5V814M799.48 803.9V808.5M800.42 797.4V803.9M801.38 791.8V797.4M802.33 788.6V793.1M803.27 776V788.6M804.23 768.9V776M805.17 772V794.5M806.12 794.5V813.4M807.08 813.4V822.4M808.02 822.4V827.9M808.98 827.7V830.7M809.92 830.7V832.4M810.88 832.4V834M811.83 833.4V834.7M812.77 834.3V835.4M813.73 834.5V835.8M814.67 834.2V837M815.62 835.2V837M816.58 834.1V837M817.52 835V837M818.48 834.3V835.8M819.42 834.1V835.5M820.38 833.5V834.8M821.33 831.6V833.7M822.27 830.7V831.9M823.23 831.8V834.1M824.17 833.3V834.5M825.12 833.6V835M826.08 834.1V835M827.02 833.5V834.6M827.98 833V834.4M828.92 832.3V833.6M829.88 831.4V833M830.83 830.1V831.4M831.77 827.7V830.1M832.73 824.7V827.7M833.67 821.8V825.1M834.62 815.3V821.8M835.58 804.3V815.3M836.52 792.6V804.3M837.48 768.9V792.6M838.42 738.8V768.9M839.38 694.4V738.8M840.33 665.4V694.4M841.27 672V715.4M842.23 715.4V759.5M843.17 759.5V783.8M844.12 783.8V799M845.08 799V810.6M846.02 810.6V817.9M846.98 817.9V822M847.92 819.8V825.4M848.88 825.4V827.5M849.83 827.2V828.9M850.77 828.5V830.1M851.73 829.8V830.8M852.67 830.6V831.8M853.62 831V831.9M854.58 830.2V831.7M855.52 829.4V831.2M856.48 828.4V829.9M857.42 829.7V832.4M858.38 832.4V834M859.33 833.3V835.1M860.27 834.6V835.7M861.23 835.1V837M862.17 835.3V837M863.12 835V837M864.08 835.5V837M865.98 835.7V837M867.88 835.5V837M870.73 835.7V837M871.67 835.5V837M872.62 835.7V837M873.58 835.5V837M874.52 835.4V837M876.42 835.5V837M877.38 835.5V837M878.33 835.5V837M879.27 835.6V837M882.12 835.8V837M883.08 835.7V837M884.02 835.8V837M884.98 835.1V837M886.88 835.8V837M890.67 835.8V837M894.48 835.7V837M895.42 835.8V837M896.38 835.5V837M897.33 835.5V837M898.27 835.8V837M899.23 835.7V837M900.17 835.2V837M902.08 835.5V837M903.02 835.7V837M905.88 835.3V837M906.83 835.7V837M908.73 835.8V837M909.67 835.8V837M911.58 835.7V837M917.27 835.5V837M920.12 835.3V837M921.08 835.6V837M922.02 835.5V837M924.88 835.7V837M925.83 835.6V837M926.77 835.8V837M927.73 835.6V837M929.62 835.4V837M930.58 835.4V837M934.38 835.8V837M935.33 835.7V837M936.27 835.7V837M937.23 835.8V837M942.92 835.8V837M943.88 835.2V837M947.67 835.7V837M948.62 835.5V837M949.58 835.7V837M952.42 835.6V837M953.38 835.6V837M954.33 835.3V837M955.27 835.7V837M957.17 835.6V837M958.12 835.8V837M959.08 834.8V837M960.02 834.8V837M965.73 835.5V837M966.67 835.5V837M968.58 835.6V837M970.47 835.8V837M975.22 835.7V837M976.17 834.4V837M977.12 835.7V837M979.97 835.8V837M980.92 835.4V837M981.88 835.4V837M982.83 834.2V835.7M983.77 833.6V835.2M984.72 832.3V833.7M985.67 829.9V832.8M986.62 826V830M987.58 819.5V826M988.52 810.9V819.5M989.47 797.5V810.9M990.42 788.8V797.5M991.38 786.6V788.8M992.33 784.1V786.8M993.27 781V785.1M994.22 775.4V781M995.17 773.6V778.2M996.12 778.2V787.8M997.08 787.8V799.5M998.02 799.5V806.4M998.97 806.4V812.5M999.92 812.5V819.7M1000.88 819.7V822.7M1001.83 822.1V824.4M1002.77 824.4V827.5M1003.72 827.5V829M1004.67 828.8V830M1005.62 829.8V831.5M1006.58 831.5V832.4M1007.52 831.5V833M1008.47 832.5V833.5M1009.42 833.2V834.2M1010.38 833.2V834.2M1011.33 833.4V834.3M1012.27 832V834.1M1013.22 831.7V833.3M1014.17 828.9V831.7M1015.12 825.7V828.9M1016.08 826.1V829.7M1017.02 829.7V832.4M1017.97 831.9V834.7M1018.92 834.6V835.7M1019.88 835.2V837M1020.83 834.8V837M1021.77 835.5V837M1022.72 835.6V837M1026.53 835.6V837M1028.42 834.9V837M1029.38 834.9V837M1030.33 835.5V837M1031.28 835.7V837M1035.08 835.7V837M1036.03 834.1V837M1038.88 835.2V837M1042.67 835.8V837M1043.62 835.5V837M1046.47 835.8V837M1047.42 834.9V837M1049.33 835.5V837M1050.28 835.1V837M1051.22 833.7V837M1052.17 832.5V834.5M1053.12 829.7V832.5M1054.08 828V829.7M1055.03 828V831.6M1055.97 831.6V834.2M1056.92 834.1V835.2M1057.88 835.2V837M1058.83 835.1V837M1059.78 835.3V837M1060.72 834.8V837M1061.67 835.3V837M1062.62 835.7V837M1079.72 835.6V837M1080.67 835.7V837M1091.12 835.7V837M1092.08 835.8V837M1093.03 835.8V837M1093.97 835.8V837M1099.67 835.2V837M1100.62 835.6V837M1102.53 835.3V837M1103.47 835.7V837M1105.38 835.5V837M1107.28 835.6V837M1108.22 834.9V837M1109.17 835.5V837M1110.12 834.9V837M1111.08 834.9V837M1112.03 834.8V837M1112.97 834V835.3M1113.92 830.5V834M1114.88 824.5V830.5M1115.83 814.5V824.5M1116.78 795.5V814.5M1117.72 783.9V795.5M1118.67 785V794.6M1119.62 794.6V803.5M1120.58 803.5V808.6M1121.53 808.6V810.5M1122.47 809.4V814.1M1123.42 813.2V816M1124.38 816V819M1125.33 818.6V820.3M1126.28 820.1V824.3M1127.22 823.6V826.5M1128.17 826.2V828.2M1129.12 828V829.5M1130.08 829.4V831.2M1131.03 830.9V832.7M1131.97 832V833.4M1132.92 832.3V834.5M1133.88 834.3V835.2M1134.83 834.3V835.7M1135.78 835V837M1136.72 835.1V837M1138.62 835.8V837M1139.58 835.8V837M1140.53 835.7V837M1141.47 835.3V837M1142.42 835.1V837M1149.08 835.8V837M1151.92 835.5V837M1152.88 835.5V837M1155.72 835.1V837M1156.67 835.1V837M1158.58 834.6V837M1161.42 835.7V837M1165.22 835.8V837M1172.83 835.8V837M1173.78 835.7V837M1174.72 835.5V837M1178.53 835.8V837M1180.42 835.5V837M1181.38 835V837M1182.33 835.5V837M1183.28 835.7V837M1186.12 835.8V837M1187.08 835.2V837M1188.03 835.4V837M1188.97 835.4V837M1190.88 835.8V837M1192.78 835.7V837M1193.72 835.7V837M1194.67 835.7V837M1195.62 835V837M1196.58 835V837M1197.53 835.4V837M1198.47 835.4V837M1199.42 834.2V837M1200.38 832.7V835.8M1201.33 832.2V834M1202.28 832.9V834.4M1203.22 834V835.7M1204.17 835.2V837M1205.12 835.4V837M1206.08 835.6V837M1207.03 835.7V837M1207.97 835.8V837M1208.92 835V837M1210.83 835.6V837M1213.67 835.8V837M1214.62 835.8V837M1217.47 835.1V837M1218.42 835.1V837M1221.28 835.8V837M1224.12 835.6V837M1225.08 835.6V837M1228.88 835.7V837M1229.82 835.5V837M1230.78 834.7V837M1231.72 834V835.4M1232.67 832.4V835.5M1233.62 835V837M1234.57 835.8V837M1235.53 835.7V837M1236.47 835.6V837M1241.22 835.6V837M1244.07 835.8V837M1245.03 835.8V837M1246.92 835.4V837M1251.67 835.4V837M1254.53 834.6V837M1255.47 834.8V837M1259.28 835.8V837M1260.22 835.8V837M1262.12 835.1V837M1266.88 835.8V837M1269.72 835.8V837M1271.62 835.3V837M1274.47 835.4V837M1280.17 835.6V837M1282.07 834.8V837M1286.82 835.8V837M1290.62 835.8V837" stroke="#ff0000" stroke-width="0.95" stroke-opacity="1" fill="none"/>
<path d="M715.88 836V837M716.83 836V837M718.73 835.8V837M721.58 836.1V837M723.48 835.9V837M725.38 835.9V837M727.27 836.1V837M728.23 836.1V837M730.12 836.1V837M734.88 836V837M738.67 835.9V837M740.58 836.1V837M741.52 836.1V837M742.48 835.9V837M743.42 835.9V837M744.38 835.2V837M745.33 835.1V837M746.27 835V837M747.23 834.6V837M748.17 834.2V837M749.12 834.7V837M750.08 834.7V837M751.02 834.7V837M751.98 835V837M752.92 835.8V837M753.88 834.7V837M754.83 835.2V837M755.77 831.5V837M756.73 834.5V837M757.67 833.9V837M758.62 829.1V837M759.58 835.2V837M760.52 835.9V837M761.48 834.2V837M762.42 834.9V837M763.38 834.7V837M764.33 835.4V837M765.27 833.9V837M766.23 833.7V837M767.17 833.8V837M768.12 834.9V837M769.08 835.2V837M770.02 834.6V837M770.98 830.7V837M771.92 835V837M772.88 835V837M773.83 834.6V837M774.77 835.1V837M775.73 831.2V837M776.67 835.7V837M777.62 834.4V837M778.58 835.1V837M779.52 833.9V837M780.48 832.4V837M781.42 833.5V837M782.38 835.2V837M783.33 830.1V837M784.27 835.5V837M785.23 835.4V837M786.17 834.9V837M787.12 834.6V837M788.08 833.7V837M789.02 834.1V837M789.98 835V837M790.92 835.4V837M791.88 834.8V837M792.83 835V837M793.77 835.1V837M794.73 834.4V837M795.67 834.4V837M796.62 834.4V837M797.58 834.8V837M798.52 834.9V837M799.48 832.2V837M800.42 834.7V837M801.38 834.8V837M802.33 835.8V837M803.27 835V837M804.23 835.6V837M805.17 834.4V837M806.12 834.4V837M807.08 834.4V837M808.02 832.1V837M808.98 835V837M809.92 834.7V837M810.88 834V837M811.83 835.1V837M812.77 834.7V837M813.73 835.1V837M814.67 835V837M815.62 835.4V837M816.58 834.8V837M817.52 834.6V837M818.48 835.5V837M819.42 835.2V837M820.38 835V837M821.33 835.7V837M822.27 836V837M825.12 835.3V837M827.02 836.1V837M827.98 835.9V837M828.92 835.9V837M831.77 836V837M832.73 836V837M833.67 835.8V837M834.62 835.8V837M837.48 835.8V837M838.42 836V837M839.38 835V837M840.33 835.8V837M843.17 836.1V837M844.12 836.1V837M847.92 836.1V837M848.88 835.9V837M853.62 835.9V837M856.48 836.1V837M857.42 835.8V837M860.27 834.7V837M865.98 835.2V837M877.38 836.1V837M882.12 836.1V837M883.08 835.6V837M884.02 835.6V837M884.98 835.5V837M891.62 836.1V837M897.33 835.7V837M899.23 835.2V837M900.17 835.2V837M901.12 836V837M902.08 836V837M903.02 835.6V837M903.98 834.2V837M906.83 836.1V837M907.77 834.9V837M911.58 835.6V837M914.42 835.4V837M915.38 835.4V837M917.27 834.6V837M918.23 834.6V837M926.77 835.7V837M928.67 836.1V837M929.62 836.1V837M932.48 836V837M933.42 836V837M936.27 836.1V837M938.17 836.1V837M939.12 836.1V837M940.08 836.1V837M943.88 836V837M944.83 836.1V837M946.73 834.3V837M948.62 836.1V837M949.58 834.2V837M951.48 836.1V837M959.08 835.9V837M960.02 835.8V837M960.98 835.9V837M963.83 835.4V837M965.73 835.8V837M966.67 833.4V837M967.62 833.4V837M976.17 836V837M979.97 836.1V837M981.88 835.7V837M982.83 836V837M984.72 836V837M985.67 836V837M987.58 836.1V837M988.52 836V837M989.47 836V837M991.38 835.9V837M992.33 835.7V837M993.27 835.7V837M994.22 836V837M997.08 835.9V837M999.92 835.9V837M1002.77 835.8V837M1003.72 835.8V837M1004.67 836.1V837M1005.62 836.1V837M1008.47 835.8V837M1009.42 835.8V837M1015.12 835.3V837M1017.97 836V837M1018.92 835.5V837M1021.77 835.9V837M1025.58 836V837M1029.38 836.1V837M1030.33 835.8V837M1032.22 835.8V837M1033.17 835.9V837M1034.12 836.1V837M1035.08 835.8V837M1036.03 836V837M1036.97 835.7V837M1037.92 835.9V837M1041.72 835.8V837M1042.67 835.8V837M1043.62 835.9V837M1044.58 834.3V837M1045.53 836V837M1046.47 835.7V837M1047.42 835.7V837M1048.38 834.8V837M1054.08 836.1V837M1055.97 836.1V837M1056.92 835.8V837M1057.88 836.1V837M1059.78 836.1V837M1060.72 836V837M1067.38 836.1V837M1069.28 835.8V837M1070.22 834.6V837M1071.17 835.8V837M1073.08 834.7V837M1074.03 836.1V837M1074.97 836V837M1076.88 836.1V837M1078.78 835.7V837M1079.72 835.9V837M1081.62 836.1V837M1082.58 836V837M1084.47 835.6V837M1085.42 835.9V837M1086.38 835.5V837M1088.28 834.6V837M1090.17 835.7V837M1091.12 836V837M1092.08 835.9V837M1095.88 836.1V837M1099.67 835.1V837M1100.62 836.1V837M1103.47 835.6V837M1106.33 835.9V837M1112.97 835.3V837M1125.33 836.1V837M1132.92 835.3V837M1136.72 834.7V837M1141.47 835.4V837M1150.03 835.9V837M1150.97 836.1V837M1160.47 835.8V837M1169.03 835.5V837M1172.83 835.1V837M1177.58 835.4V837M1179.47 835.5V837M1180.42 835.5V837M1190.88 835.7V837M1193.72 835.2V837M1194.67 835.2V837M1198.47 834.9V837M1205.12 836.1V837M1206.08 835.6V837M1207.97 836.1V837M1210.83 835.1V837M1211.78 835.5V837M1219.38 835.3V837M1224.12 835.9V837M1226.97 835.5V837M1241.22 835.9V837M1252.62 835.8V837M1256.42 835.9V837M1264.03 835.9V837M1268.78 835.8V837M1278.28 835.8V837M1283.97 835.9V837M1284.92 835.9V837" stroke="#0000ff" stroke-width="0.95" stroke-opacity="1" fill="none"/>
<path d="M730.7 596.1V832.5M728.2 832.5H733.2" stroke="#ff0000" stroke-opacity="0.55" stroke-width="0.8" fill="none"/>
<text transform="translate(734 593.5) rotate(-90)" font-size="10.7" fill="#333">15139.0031</text>
<path d="M840.5 666.2V832.5M838 832.5H843" stroke="#ff0000" stroke-opacity="0.55" stroke-width="0.8" fill="none"/>
<text transform="translate(843 663) rotate(-90)" font-size="10.7" fill="#333">16109.9609</text>
<path d="M995 775.2V832.5M992.5 832.5H997.5" stroke="#ff0000" stroke-opacity="0.55" stroke-width="0.8" fill="none"/>
<text transform="translate(995.5 771.5) rotate(-90)" font-size="10.7" fill="#333">17489.2736</text>
<path d="M1118 784.8V832.5M1115.5 832.5H1120.5" stroke="#ff0000" stroke-opacity="0.55" stroke-width="0.8" fill="none"/>
<text transform="translate(1120.8 779) rotate(-90)" font-size="10.7" fill="#333">18582.3863</text>
<path d="M713 504.5H1292.5V837.5" fill="none" stroke="#555" stroke-width="1"/>
<path d="M713 504.5V837.5H1292.5" fill="none" stroke="#333" stroke-width="1"/>
<path d="M715.5 837.5v5M726.5 837.5v2.5M737.5 837.5v2.5M749.5 837.5v2.5M760.5 837.5v2.5M771.5 837.5v5M782.5 837.5v2.5M794.5 837.5v2.5M805.5 837.5v2.5M816.5 837.5v2.5M827.5 837.5v5M838.5 837.5v2.5M850.5 837.5v2.5M861.5 837.5v2.5M872.5 837.5v2.5M883.5 837.5v5M895.5 837.5v2.5M906.5 837.5v2.5M917.5 837.5v2.5M928.5 837.5v2.5M940.5 837.5v5M951.5 837.5v2.5M962.5 837.5v2.5M973.5 837.5v2.5M984.5 837.5v2.5M996.5 837.5v5M1007.5 837.5v2.5M1018.5 837.5v2.5M1029.5 837.5v2.5M1041.5 837.5v2.5M1052.5 837.5v5M1063.5 837.5v2.5M1074.5 837.5v2.5M1085.5 837.5v2.5M1097.5 837.5v2.5M1108.5 837.5v5M1119.5 837.5v2.5M1130.5 837.5v2.5M1142.5 837.5v2.5M1153.5 837.5v2.5M1164.5 837.5v5M1175.5 837.5v2.5M1186.5 837.5v2.5M1198.5 837.5v2.5M1209.5 837.5v2.5M1220.5 837.5v5M1231.5 837.5v2.5M1243.5 837.5v2.5M1254.5 837.5v2.5M1265.5 837.5v2.5M1276.5 837.5v5M1287.5 837.5v2.5M713 837.5h-5M713 828.5h-2.5M713 819.5h-2.5M713 810.5h-2.5M713 801.5h-2.5M713 792.5h-5M713 783.5h-2.5M713 774.5h-2.5M713 765.5h-2.5M713 756.5h-2.5M713 747.5h-5M713 738.5h-2.5M713 729.5h-2.5M713 720.5h-2.5M713 711.5h-2.5M713 702.5h-5M713 693.5h-2.5M713 684.5h-2.5M713 675.5h-2.5M713 666.5h-2.5M713 657.5h-5M713 648.5h-2.5M713 639.5h-2.5M713 630.5h-2.5M713 621.5h-2.5M713 612.5h-5M713 603.5h-2.5M713 594.5h-2.5M713 585.5h-2.5M713 576.5h-2.5M713 567.5h-5M713 558.5h-2.5M713 549.5h-2.5M713 540.5h-2.5M713 531.5h-2.5M713 522.5h-5M713 513.5h-2.5" stroke="#444" stroke-width="1" fill="none"/>
<text x="715.5" y="855.7" text-anchor="middle">15000</text>
<text x="771.6" y="855.7" text-anchor="middle">15500</text>
<text x="827.8" y="855.7" text-anchor="middle">16000</text>
<text x="883.9" y="855.7" text-anchor="middle">16500</text>
<text x="940" y="855.7" text-anchor="middle">17000</text>
<text x="996.1" y="855.7" text-anchor="middle">17500</text>
<text x="1052.2" y="855.7" text-anchor="middle">18000</text>
<text x="1108.4" y="855.7" text-anchor="middle">18500</text>
<text x="1164.5" y="855.7" text-anchor="middle">19000</text>
<text x="1220.6" y="855.7" text-anchor="middle">19500</text>
<text x="1276.8" y="855.7" text-anchor="middle">20000</text>
<text x="705" y="841" text-anchor="end">0</text>
<text x="705" y="796" text-anchor="end">500</text>
<text x="705" y="751.1" text-anchor="end">1000</text>
<text x="705" y="706.1" text-anchor="end">1500</text>
<text x="705" y="661.2" text-anchor="end">2000</text>
<text x="705" y="616.2" text-anchor="end">2500</text>
<text x="705" y="571.3" text-anchor="end">3000</text>
<text x="705" y="526.4" text-anchor="end">3500</text>
<text x="1291" y="868.3" text-anchor="end">m/z</text>
<text transform="translate(676 520.5) rotate(-90)" fill="#5a5a5a">a.i.</text>
<text x="1276.8" y="520.7" text-anchor="end" fill="#3a3aff">non-KPC</text>
<text x="1276.8" y="535.9" text-anchor="end" fill="#ff3030">KPC</text>
<path d="M1281 516.7L1284 513.7L1287 516.7L1284 519.7Z" fill="#0000ff"/>
<path d="M1281 531.9L1284 528.9L1287 531.9L1284 534.9Z" fill="#ff0000"/>
<rect x="713" y="464.5" width="579.5" height="34" fill="#fff"/>
<rect x="714" y="481.5" width="1" height="16.5" fill="#f6f6f6"/>
<rect x="715" y="481.5" width="1" height="16.5" fill="#f0f0f0"/>
<rect x="716" y="481.5" width="1" height="16.5" fill="#eaeaea"/>
<rect x="717" y="481.5" width="1" height="16.5" fill="#e4e4e4"/>
<rect x="718" y="481.5" width="1" height="16.5" fill="#dedede"/>
<rect x="719" y="481.5" width="1" height="16.5" fill="#d8d8d8"/>
<rect x="720" y="481.5" width="1" height="16.5" fill="#d2d2d2"/>
<rect x="721" y="481.5" width="1" height="16.5" fill="#c6c6c6"/>
<rect x="722" y="481.5" width="1" height="16.5" fill="#bababa"/>
<rect x="723" y="481.5" width="1" height="16.5" fill="#a8a8a8"/>
<rect x="724" y="481.5" width="1" height="16.5" fill="#8a8a8a"/>
<rect x="725" y="481.5" width="1" height="16.5" fill="#666666"/>
<rect x="726" y="481.5" width="1" height="16.5" fill="#3c3c3c"/>
<rect x="727" y="481.5" width="1" height="16.5" fill="#242424"/>
<rect x="728" y="481.5" width="3" height="16.5" fill="#1e1e1e"/>
<rect x="731" y="481.5" width="1" height="16.5" fill="#181818"/>
<rect x="732" y="481.5" width="1" height="16.5" fill="#141414"/>
<rect x="733" y="481.5" width="1" height="16.5" fill="#181818"/>
<rect x="734" y="481.5" width="1" height="16.5" fill="#2a2a2a"/>
<rect x="735" y="481.5" width="1" height="16.5" fill="#484848"/>
<rect x="736" y="481.5" width="1" height="16.5" fill="#6c6c6c"/>
<rect x="737" y="481.5" width="1" height="16.5" fill="#8a8a8a"/>
<rect x="738" y="481.5" width="1" height="16.5" fill="#9c9c9c"/>
<rect x="739" y="481.5" width="2" height="16.5" fill="#a8a8a8"/>
<rect x="741" y="481.5" width="1" height="16.5" fill="#a2a2a2"/>
<rect x="742" y="481.5" width="1" height="16.5" fill="#969696"/>
<rect x="743" y="481.5" width="1" height="16.5" fill="#909090"/>
<rect x="744" y="481.5" width="1" height="16.5" fill="#848484"/>
<rect x="745" y="481.5" width="1" height="16.5" fill="#7e7e7e"/>
<rect x="746" y="481.5" width="3" height="16.5" fill="#787878"/>
<rect x="749" y="481.5" width="1" height="16.5" fill="#8a8a8a"/>
<rect x="750" y="481.5" width="1" height="16.5" fill="#a8a8a8"/>
<rect x="751" y="481.5" width="1" height="16.5" fill="#c6c6c6"/>
<rect x="752" y="481.5" width="1" height="16.5" fill="#d2d2d2"/>
<rect x="753" y="481.5" width="1" height="16.5" fill="#d8d8d8"/>
<rect x="754" y="481.5" width="1" height="16.5" fill="#dedede"/>
<rect x="755" y="481.5" width="4" height="16.5" fill="#e4e4e4"/>
<rect x="759" y="481.5" width="2" height="16.5" fill="#eaeaea"/>
<rect x="761" y="481.5" width="1" height="16.5" fill="#f0f0f0"/>
<rect x="762" y="481.5" width="2" height="16.5" fill="#f6f6f6"/>
<rect x="779" y="481.5" width="2" height="16.5" fill="#f6f6f6"/>
<rect x="781" y="481.5" width="3" height="16.5" fill="#f0f0f0"/>
<rect x="784" y="481.5" width="2" height="16.5" fill="#f6f6f6"/>
<rect x="791" y="481.5" width="4" height="16.5" fill="#f6f6f6"/>
<rect x="795" y="481.5" width="1" height="16.5" fill="#f0f0f0"/>
<rect x="796" y="481.5" width="2" height="16.5" fill="#eaeaea"/>
<rect x="798" y="481.5" width="1" height="16.5" fill="#e4e4e4"/>
<rect x="799" y="481.5" width="1" height="16.5" fill="#dedede"/>
<rect x="800" y="481.5" width="1" height="16.5" fill="#d8d8d8"/>
<rect x="801" y="481.5" width="1" height="16.5" fill="#d2d2d2"/>
<rect x="802" y="481.5" width="1" height="16.5" fill="#cccccc"/>
<rect x="803" y="481.5" width="1" height="16.5" fill="#c6c6c6"/>
<rect x="804" y="481.5" width="1" height="16.5" fill="#c0c0c0"/>
<rect x="805" y="481.5" width="1" height="16.5" fill="#cccccc"/>
<rect x="806" y="481.5" width="1" height="16.5" fill="#dedede"/>
<rect x="807" y="481.5" width="1" height="16.5" fill="#eaeaea"/>
<rect x="808" y="481.5" width="2" height="16.5" fill="#f0f0f0"/>
<rect x="810" y="481.5" width="2" height="16.5" fill="#f6f6f6"/>
<rect x="829" y="481.5" width="2" height="16.5" fill="#f6f6f6"/>
<rect x="831" y="481.5" width="2" height="16.5" fill="#f0f0f0"/>
<rect x="833" y="481.5" width="1" height="16.5" fill="#eaeaea"/>
<rect x="834" y="481.5" width="1" height="16.5" fill="#e4e4e4"/>
<rect x="835" y="481.5" width="1" height="16.5" fill="#d8d8d8"/>
<rect x="836" y="481.5" width="1" height="16.5" fill="#d2d2d2"/>
<rect x="837" y="481.5" width="1" height="16.5" fill="#bababa"/>
<rect x="838" y="481.5" width="1" height="16.5" fill="#a2a2a2"/>
<rect x="839" y="481.5" width="1" height="16.5" fill="#787878"/>
<rect x="840" y="481.5" width="1" height="16.5" fill="#666666"/>
<rect x="841" y="481.5" width="1" height="16.5" fill="#787878"/>
<rect x="842" y="481.5" width="1" height="16.5" fill="#a2a2a2"/>
<rect x="843" y="481.5" width="1" height="16.5" fill="#c0c0c0"/>
<rect x="844" y="481.5" width="1" height="16.5" fill="#d2d2d2"/>
<rect x="845" y="481.5" width="1" height="16.5" fill="#d8d8d8"/>
<rect x="846" y="481.5" width="1" height="16.5" fill="#e4e4e4"/>
<rect x="847" y="481.5" width="1" height="16.5" fill="#eaeaea"/>
<rect x="848" y="481.5" width="2" height="16.5" fill="#f0f0f0"/>
<rect x="850" y="481.5" width="8" height="16.5" fill="#f6f6f6"/>
<rect x="984" y="481.5" width="2" height="16.5" fill="#f6f6f6"/>
<rect x="986" y="481.5" width="2" height="16.5" fill="#f0f0f0"/>
<rect x="988" y="481.5" width="1" height="16.5" fill="#e4e4e4"/>
<rect x="989" y="481.5" width="1" height="16.5" fill="#d8d8d8"/>
<rect x="990" y="481.5" width="1" height="16.5" fill="#d2d2d2"/>
<rect x="991" y="481.5" width="2" height="16.5" fill="#cccccc"/>
<rect x="993" y="481.5" width="1" height="16.5" fill="#c6c6c6"/>
<rect x="994" y="481.5" width="1" height="16.5" fill="#c0c0c0"/>
<rect x="995" y="481.5" width="1" height="16.5" fill="#c6c6c6"/>
<rect x="996" y="481.5" width="1" height="16.5" fill="#cccccc"/>
<rect x="997" y="481.5" width="1" height="16.5" fill="#d8d8d8"/>
<rect x="998" y="481.5" width="1" height="16.5" fill="#dedede"/>
<rect x="999" y="481.5" width="1" height="16.5" fill="#e4e4e4"/>
<rect x="1000" y="481.5" width="1" height="16.5" fill="#eaeaea"/>
<rect x="1001" y="481.5" width="2" height="16.5" fill="#f0f0f0"/>
<rect x="1003" y="481.5" width="3" height="16.5" fill="#f6f6f6"/>
<rect x="1013" y="481.5" width="4" height="16.5" fill="#f6f6f6"/>
<rect x="1053" y="481.5" width="2" height="16.5" fill="#f6f6f6"/>
<rect x="1112" y="481.5" width="2" height="16.5" fill="#f6f6f6"/>
<rect x="1114" y="481.5" width="1" height="16.5" fill="#f0f0f0"/>
<rect x="1115" y="481.5" width="1" height="16.5" fill="#eaeaea"/>
<rect x="1116" y="481.5" width="1" height="16.5" fill="#dedede"/>
<rect x="1117" y="481.5" width="1" height="16.5" fill="#d2d2d2"/>
<rect x="1118" y="481.5" width="1" height="16.5" fill="#cccccc"/>
<rect x="1119" y="481.5" width="1" height="16.5" fill="#d8d8d8"/>
<rect x="1120" y="481.5" width="1" height="16.5" fill="#dedede"/>
<rect x="1121" y="481.5" width="2" height="16.5" fill="#e4e4e4"/>
<rect x="1123" y="481.5" width="3" height="16.5" fill="#eaeaea"/>
<rect x="1126" y="481.5" width="2" height="16.5" fill="#f0f0f0"/>
<rect x="1128" y="481.5" width="3" height="16.5" fill="#f6f6f6"/>
<rect x="713" y="464.5" width="579.5" height="34" fill="none" stroke="#333" stroke-width="1"/>
<text x="1276.8" y="477.3" text-anchor="end" fill="#3a3aff">non-KPC</text>
<text x="1276.8" y="493.5" text-anchor="end" fill="#ff3030">KPC</text>
<path d="M1281 473.3L1284 470.3L1287 473.3L1284 476.3Z" fill="#0000ff"/>
<path d="M1281 489.5L1284 486.5L1287 489.5L1284 492.5Z" fill="#ff0000"/>
<text x="673.8" y="494.9" font-family="'Liberation Serif', 'Times New Roman', serif" font-weight="bold" font-size="41.5" fill="#000">D</text></g>
</svg>
</body></html>
